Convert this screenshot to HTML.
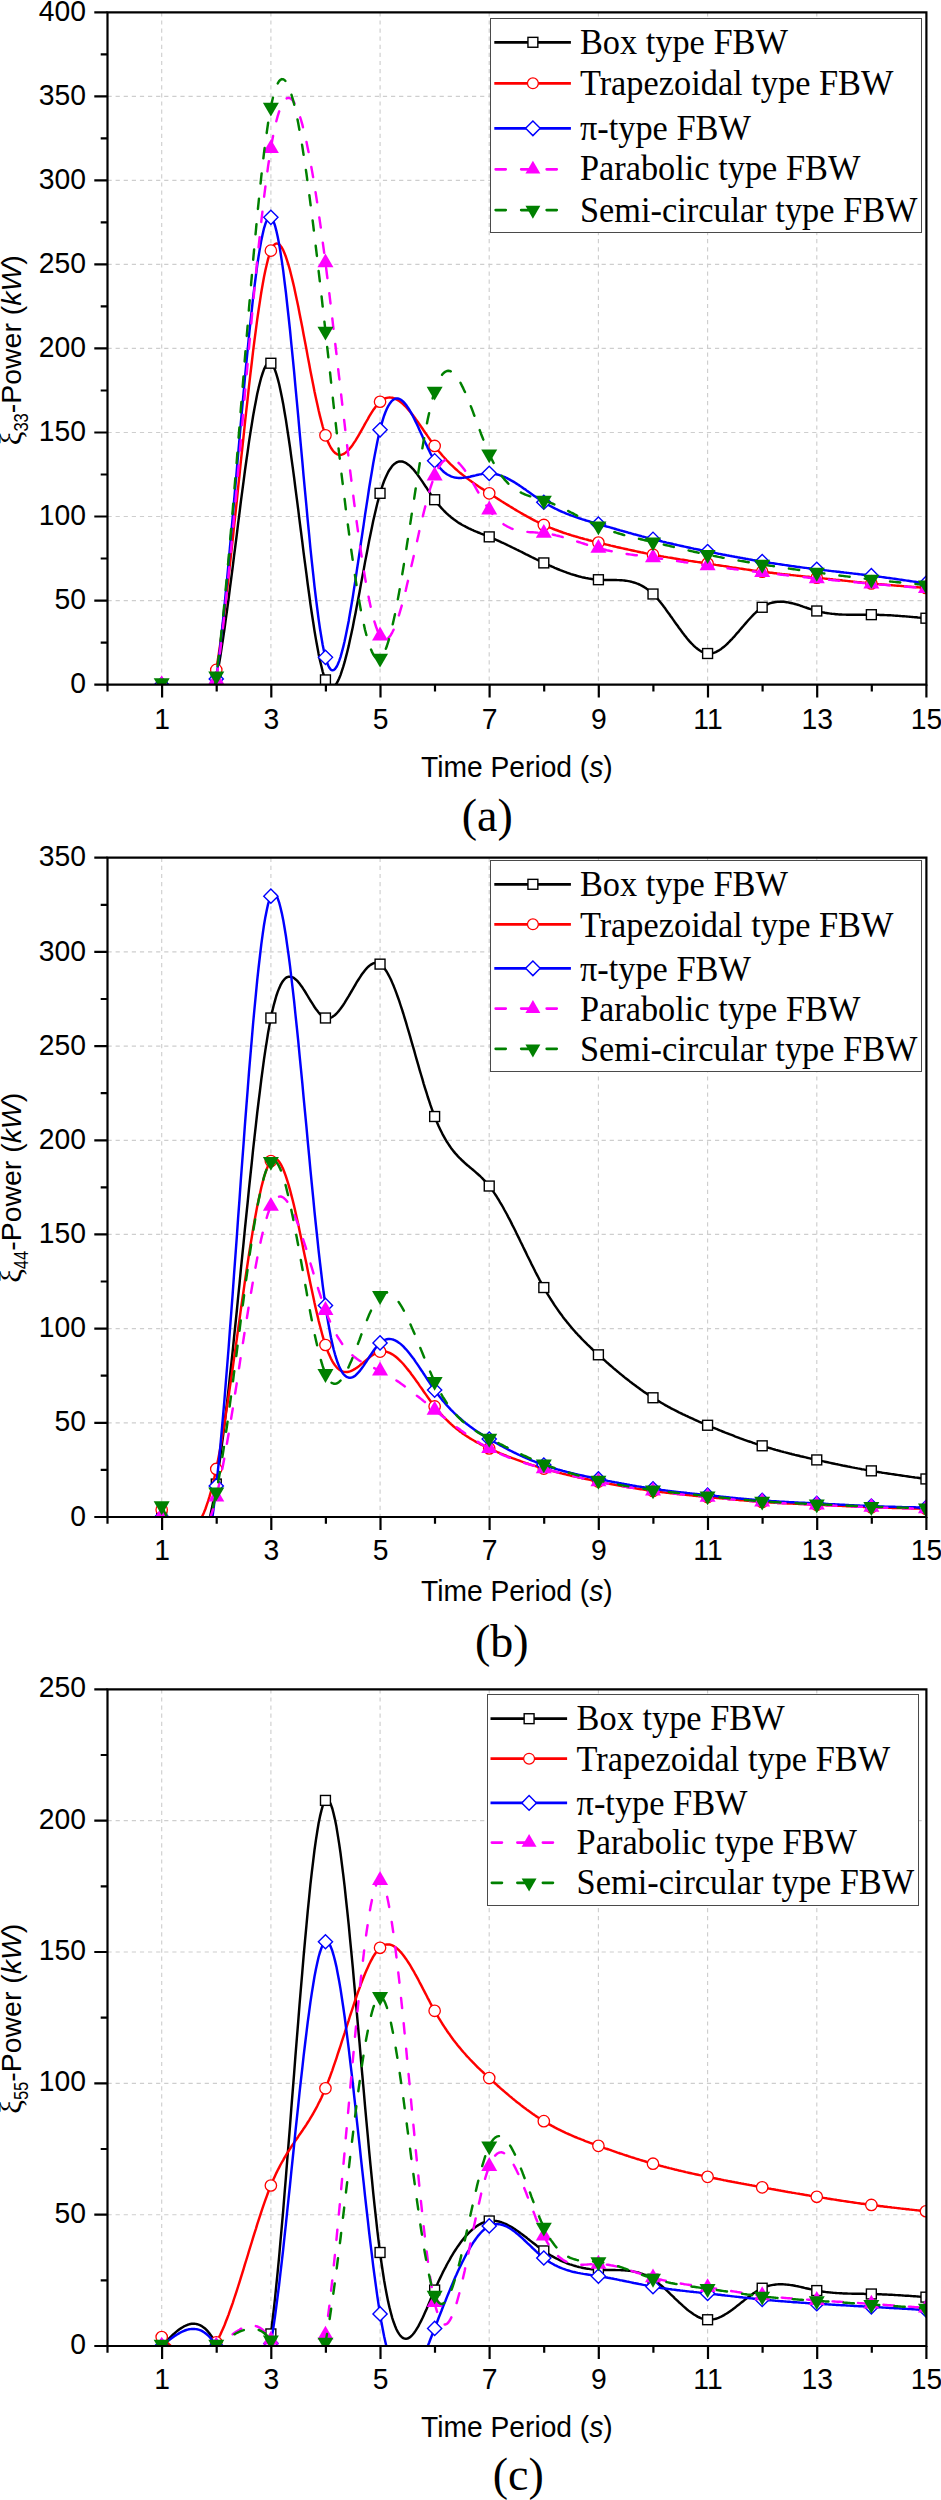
<!DOCTYPE html>
<html><head><meta charset="utf-8"><title>FBW power</title>
<style>html,body{margin:0;padding:0;background:#fff}svg{display:block}</style></head>
<body>
<svg width="941" height="2500" viewBox="0 0 941 2500">
<rect width="100%" height="100%" fill="#fff"/>
<clipPath id="clipa"><rect x="107.5" y="12.3" width="818.9" height="672.3"/></clipPath>
<path d="M161.7 12.3V684.6M270.9 12.3V684.6M380.1 12.3V684.6M489.2 12.3V684.6M598.4 12.3V684.6M707.6 12.3V684.6M816.8 12.3V684.6M107.5 600.6H926.4M107.5 516.5H926.4M107.5 432.5H926.4M107.5 348.4H926.4M107.5 264.4H926.4M107.5 180.4H926.4M107.5 96.3H926.4" stroke="#cecece" stroke-width="1.15" stroke-dasharray="4.2 3.9" fill="none"/>
<g clip-path="url(#clipa)">
<path d="M161.7 684.6L163.1 688.0L164.4 691.3L165.8 694.6L167.1 697.9L168.5 701.1L169.9 704.3L171.2 707.4L172.6 710.4L174.0 713.3L175.3 716.0L176.7 718.7L178.1 721.2L179.4 723.5L180.8 725.7L182.2 727.7L183.5 729.4L184.9 731.0L186.3 732.4L187.6 733.5L189.0 734.4L190.3 735.0L191.7 735.3L193.1 735.4L194.4 735.1L195.8 734.6L197.2 733.7L198.5 732.4L199.9 730.9L201.3 728.9L202.6 726.6L204.0 723.9L205.4 720.7L206.7 717.2L208.1 713.2L209.5 708.8L210.8 703.9L212.2 698.6L213.6 692.7L214.9 686.4L216.3 679.6L217.6 672.2L219.0 664.4L220.4 656.1L221.7 647.4L223.1 638.3L224.5 628.8L225.8 619.1L227.2 609.1L228.6 598.9L229.9 588.4L231.3 577.8L232.7 567.1L234.0 556.3L235.4 545.5L236.8 534.6L238.1 523.7L239.5 512.9L240.8 502.2L242.2 491.6L243.6 481.2L244.9 471.0L246.3 461.0L247.7 451.3L249.0 441.9L250.4 432.9L251.8 424.2L253.1 416.0L254.5 408.2L255.9 400.9L257.2 394.1L258.6 387.9L260.0 382.3L261.3 377.3L262.7 373.0L264.0 369.4L265.4 366.5L266.8 364.4L268.1 363.2L269.5 362.8L270.9 363.2L272.2 364.6L273.6 366.9L275.0 370.0L276.3 373.9L277.7 378.6L279.1 384.0L280.4 390.0L281.8 396.7L283.2 403.9L284.5 411.7L285.9 419.9L287.2 428.6L288.6 437.8L290.0 447.3L291.3 457.1L292.7 467.1L294.1 477.5L295.4 488.0L296.8 498.6L298.2 509.4L299.5 520.2L300.9 531.0L302.3 541.8L303.6 552.6L305.0 563.2L306.4 573.7L307.7 584.0L309.1 594.0L310.4 603.8L311.8 613.2L313.2 622.2L314.5 630.9L315.9 639.1L317.3 646.7L318.6 653.9L320.0 660.4L321.4 666.3L322.7 671.6L324.1 676.1L325.5 679.9L326.8 682.9L328.2 685.1L329.6 686.5L330.9 687.3L332.3 687.4L333.6 686.8L335.0 685.6L336.4 683.8L337.7 681.4L339.1 678.5L340.5 675.1L341.8 671.2L343.2 666.9L344.6 662.2L345.9 657.1L347.3 651.7L348.7 645.9L350.0 639.8L351.4 633.5L352.8 626.9L354.1 620.1L355.5 613.2L356.8 606.1L358.2 598.9L359.6 591.7L360.9 584.4L362.3 577.0L363.7 569.7L365.0 562.4L366.4 555.2L367.8 548.0L369.1 541.0L370.5 534.2L371.9 527.6L373.2 521.1L374.6 514.9L376.0 509.0L377.3 503.5L378.7 498.2L380.1 493.3L381.4 488.8L382.8 484.7L384.1 481.0L385.5 477.7L386.9 474.7L388.2 472.0L389.6 469.7L391.0 467.7L392.3 465.9L393.7 464.5L395.1 463.4L396.4 462.5L397.8 461.9L399.2 461.5L400.5 461.4L401.9 461.5L403.3 461.8L404.6 462.3L406.0 463.0L407.3 463.9L408.7 464.9L410.1 466.1L411.4 467.4L412.8 468.8L414.2 470.4L415.5 472.1L416.9 473.8L418.3 475.7L419.6 477.6L421.0 479.6L422.4 481.6L423.7 483.6L425.1 485.7L426.5 487.7L427.8 489.8L429.2 491.9L430.5 493.9L431.9 495.9L433.3 497.8L434.6 499.7L436.0 501.5L437.4 503.3L438.7 504.9L440.1 506.5L441.5 508.1L442.8 509.5L444.2 511.0L445.6 512.3L446.9 513.6L448.3 514.9L449.7 516.0L451.0 517.2L452.4 518.3L453.7 519.3L455.1 520.3L456.5 521.3L457.8 522.2L459.2 523.1L460.6 523.9L461.9 524.7L463.3 525.5L464.7 526.2L466.0 526.9L467.4 527.6L468.8 528.3L470.1 528.9L471.5 529.6L472.9 530.2L474.2 530.8L475.6 531.4L476.9 531.9L478.3 532.5L479.7 533.0L481.0 533.6L482.4 534.1L483.8 534.7L485.1 535.2L486.5 535.8L487.9 536.3L489.2 536.9L490.6 537.4L492.0 538.0L493.3 538.6L494.7 539.2L496.1 539.8L497.4 540.4L498.8 541.0L500.1 541.6L501.5 542.3L502.9 542.9L504.2 543.5L505.6 544.2L507.0 544.8L508.3 545.5L509.7 546.2L511.1 546.8L512.4 547.5L513.8 548.2L515.2 548.8L516.5 549.5L517.9 550.2L519.3 550.9L520.6 551.5L522.0 552.2L523.3 552.9L524.7 553.6L526.1 554.3L527.4 554.9L528.8 555.6L530.2 556.3L531.5 557.0L532.9 557.7L534.3 558.3L535.6 559.0L537.0 559.7L538.4 560.3L539.7 561.0L541.1 561.6L542.5 562.3L543.8 562.9L545.2 563.6L546.5 564.2L547.9 564.8L549.3 565.4L550.6 566.0L552.0 566.6L553.4 567.2L554.7 567.8L556.1 568.4L557.5 569.0L558.8 569.5L560.2 570.1L561.6 570.6L562.9 571.1L564.3 571.7L565.7 572.2L567.0 572.7L568.4 573.1L569.8 573.6L571.1 574.1L572.5 574.5L573.8 574.9L575.2 575.3L576.6 575.7L577.9 576.1L579.3 576.5L580.7 576.8L582.0 577.2L583.4 577.5L584.8 577.8L586.1 578.1L587.5 578.3L588.9 578.6L590.2 578.8L591.6 579.0L593.0 579.2L594.3 579.3L595.7 579.5L597.0 579.6L598.4 579.7L599.8 579.8L601.1 579.9L602.5 579.9L603.9 579.9L605.2 580.0L606.6 580.0L608.0 580.0L609.3 580.0L610.7 580.0L612.1 580.0L613.4 580.0L614.8 580.0L616.2 580.0L617.5 580.1L618.9 580.1L620.2 580.2L621.6 580.3L623.0 580.4L624.3 580.5L625.7 580.7L627.1 580.9L628.4 581.1L629.8 581.4L631.2 581.7L632.5 582.1L633.9 582.5L635.3 582.9L636.6 583.4L638.0 583.9L639.4 584.5L640.7 585.2L642.1 585.9L643.4 586.6L644.8 587.5L646.2 588.4L647.5 589.4L648.9 590.4L650.3 591.5L651.6 592.7L653.0 594.0L654.4 595.4L655.7 596.8L657.1 598.3L658.5 599.9L659.8 601.5L661.2 603.2L662.6 605.0L663.9 606.8L665.3 608.6L666.6 610.5L668.0 612.4L669.4 614.3L670.7 616.2L672.1 618.1L673.5 620.1L674.8 622.0L676.2 623.9L677.6 625.8L678.9 627.7L680.3 629.6L681.7 631.5L683.0 633.3L684.4 635.1L685.8 636.8L687.1 638.5L688.5 640.1L689.8 641.6L691.2 643.1L692.6 644.5L693.9 645.8L695.3 647.1L696.7 648.2L698.0 649.3L699.4 650.3L700.8 651.1L702.1 651.8L703.5 652.4L704.9 652.9L706.2 653.3L707.6 653.5L709.0 653.6L710.3 653.5L711.7 653.3L713.0 653.0L714.4 652.6L715.8 652.1L717.1 651.4L718.5 650.7L719.9 649.8L721.2 648.9L722.6 647.8L724.0 646.7L725.3 645.6L726.7 644.3L728.1 643.0L729.4 641.7L730.8 640.2L732.2 638.8L733.5 637.3L734.9 635.8L736.2 634.2L737.6 632.7L739.0 631.1L740.3 629.5L741.7 627.9L743.1 626.3L744.4 624.7L745.8 623.1L747.2 621.5L748.5 620.0L749.9 618.5L751.3 617.0L752.6 615.6L754.0 614.2L755.4 612.9L756.7 611.6L758.1 610.4L759.5 609.3L760.8 608.3L762.2 607.3L763.5 606.4L764.9 605.6L766.3 604.9L767.6 604.3L769.0 603.7L770.4 603.2L771.7 602.8L773.1 602.5L774.5 602.2L775.8 602.0L777.2 601.8L778.6 601.7L779.9 601.7L781.3 601.7L782.7 601.7L784.0 601.8L785.4 602.0L786.7 602.2L788.1 602.4L789.5 602.7L790.8 603.0L792.2 603.3L793.6 603.6L794.9 604.0L796.3 604.4L797.7 604.8L799.0 605.2L800.4 605.7L801.8 606.1L803.1 606.6L804.5 607.1L805.9 607.5L807.2 608.0L808.6 608.5L809.9 608.9L811.3 609.4L812.7 609.8L814.0 610.2L815.4 610.6L816.8 611.0L818.1 611.3L819.5 611.7L820.9 612.0L822.2 612.3L823.6 612.5L825.0 612.8L826.3 613.0L827.7 613.2L829.1 613.4L830.4 613.6L831.8 613.8L833.1 613.9L834.5 614.0L835.9 614.2L837.2 614.3L838.6 614.4L840.0 614.4L841.3 614.5L842.7 614.6L844.1 614.6L845.4 614.6L846.8 614.7L848.2 614.7L849.5 614.7L850.9 614.7L852.3 614.7L853.6 614.7L855.0 614.7L856.3 614.7L857.7 614.7L859.1 614.7L860.4 614.7L861.8 614.7L863.2 614.7L864.5 614.7L865.9 614.7L867.3 614.7L868.6 614.7L870.0 614.7L871.4 614.7L872.7 614.7L874.1 614.7L875.5 614.7L876.8 614.8L878.2 614.8L879.5 614.9L880.9 614.9L882.3 614.9L883.6 615.0L885.0 615.1L886.4 615.1L887.7 615.2L889.1 615.3L890.5 615.3L891.8 615.4L893.2 615.5L894.6 615.6L895.9 615.7L897.3 615.8L898.7 615.9L900.0 616.0L901.4 616.1L902.7 616.2L904.1 616.3L905.5 616.4L906.8 616.5L908.2 616.6L909.6 616.7L910.9 616.9L912.3 617.0L913.7 617.1L915.0 617.2L916.4 617.3L917.8 617.5L919.1 617.6L920.5 617.7L921.9 617.8L923.2 618.0L924.6 618.1L926.0 618.2" fill="none" stroke="#000000" stroke-width="2.45" stroke-linejoin="round"/>
<rect x="156.74" y="679.65" width="9.90" height="9.90" fill="#fff" stroke="#000000" stroke-width="1.40"/>
<rect x="211.33" y="674.61" width="9.90" height="9.90" fill="#fff" stroke="#000000" stroke-width="1.40"/>
<rect x="265.92" y="358.29" width="9.90" height="9.90" fill="#fff" stroke="#000000" stroke-width="1.40"/>
<rect x="320.51" y="674.94" width="9.90" height="9.90" fill="#fff" stroke="#000000" stroke-width="1.40"/>
<rect x="375.10" y="488.38" width="9.90" height="9.90" fill="#fff" stroke="#000000" stroke-width="1.40"/>
<rect x="429.69" y="494.77" width="9.90" height="9.90" fill="#fff" stroke="#000000" stroke-width="1.40"/>
<rect x="484.28" y="531.91" width="9.90" height="9.90" fill="#fff" stroke="#000000" stroke-width="1.40"/>
<rect x="538.87" y="557.96" width="9.90" height="9.90" fill="#fff" stroke="#000000" stroke-width="1.40"/>
<rect x="593.46" y="574.77" width="9.90" height="9.90" fill="#fff" stroke="#000000" stroke-width="1.40"/>
<rect x="648.05" y="589.06" width="9.90" height="9.90" fill="#fff" stroke="#000000" stroke-width="1.40"/>
<rect x="702.64" y="648.56" width="9.90" height="9.90" fill="#fff" stroke="#000000" stroke-width="1.40"/>
<rect x="757.23" y="602.34" width="9.90" height="9.90" fill="#fff" stroke="#000000" stroke-width="1.40"/>
<rect x="811.82" y="606.03" width="9.90" height="9.90" fill="#fff" stroke="#000000" stroke-width="1.40"/>
<rect x="866.41" y="609.73" width="9.90" height="9.90" fill="#fff" stroke="#000000" stroke-width="1.40"/>
<rect x="921.00" y="613.26" width="9.90" height="9.90" fill="#fff" stroke="#000000" stroke-width="1.40"/>
<path d="M161.7 684.6L163.1 688.1L164.4 691.7L165.8 695.2L167.1 698.6L168.5 702.0L169.9 705.3L171.2 708.6L172.6 711.7L174.0 714.7L175.3 717.6L176.7 720.3L178.1 722.9L179.4 725.3L180.8 727.5L182.2 729.5L183.5 731.3L184.9 732.8L186.3 734.1L187.6 735.1L189.0 735.9L190.3 736.3L191.7 736.5L193.1 736.3L194.4 735.8L195.8 735.0L197.2 733.7L198.5 732.1L199.9 730.1L201.3 727.7L202.6 724.9L204.0 721.6L205.4 717.9L206.7 713.7L208.1 709.0L209.5 703.8L210.8 698.1L212.2 691.9L213.6 685.1L214.9 677.8L216.3 669.9L217.6 661.4L219.0 652.4L220.4 642.9L221.7 632.8L223.1 622.4L224.5 611.5L225.8 600.3L227.2 588.7L228.6 576.8L229.9 564.6L231.3 552.2L232.7 539.6L234.0 526.9L235.4 514.0L236.8 501.0L238.1 488.0L239.5 475.0L240.8 461.9L242.2 449.0L243.6 436.1L244.9 423.3L246.3 410.7L247.7 398.3L249.0 386.1L250.4 374.1L251.8 362.5L253.1 351.2L254.5 340.2L255.9 329.7L257.2 319.6L258.6 310.0L260.0 300.9L261.3 292.3L262.7 284.3L264.0 277.0L265.4 270.3L266.8 264.2L268.1 258.9L269.5 254.4L270.9 250.6L272.2 247.7L273.6 245.5L275.0 244.2L276.3 243.5L277.7 243.6L279.1 244.3L280.4 245.7L281.8 247.6L283.2 250.1L284.5 253.2L285.9 256.8L287.2 260.8L288.6 265.3L290.0 270.2L291.3 275.5L292.7 281.1L294.1 287.0L295.4 293.2L296.8 299.7L298.2 306.3L299.5 313.2L300.9 320.2L302.3 327.3L303.6 334.5L305.0 341.8L306.4 349.1L307.7 356.4L309.1 363.6L310.4 370.8L311.8 377.8L313.2 384.7L314.5 391.5L315.9 398.0L317.3 404.3L318.6 410.3L320.0 416.1L321.4 421.5L322.7 426.5L324.1 431.1L325.5 435.3L326.8 439.1L328.2 442.4L329.6 445.3L330.9 447.8L332.3 449.8L333.6 451.5L335.0 452.9L336.4 453.8L337.7 454.5L339.1 454.8L340.5 454.9L341.8 454.7L343.2 454.2L344.6 453.4L345.9 452.4L347.3 451.3L348.7 449.9L350.0 448.3L351.4 446.6L352.8 444.7L354.1 442.7L355.5 440.6L356.8 438.4L358.2 436.1L359.6 433.7L360.9 431.3L362.3 428.8L363.7 426.4L365.0 423.9L366.4 421.5L367.8 419.1L369.1 416.7L370.5 414.4L371.9 412.2L373.2 410.1L374.6 408.2L376.0 406.3L377.3 404.6L378.7 403.1L380.1 401.7L381.4 400.6L382.8 399.6L384.1 398.9L385.5 398.3L386.9 397.9L388.2 397.6L389.6 397.5L391.0 397.6L392.3 397.8L393.7 398.2L395.1 398.7L396.4 399.4L397.8 400.1L399.2 401.0L400.5 402.0L401.9 403.1L403.3 404.3L404.6 405.6L406.0 407.0L407.3 408.5L408.7 410.1L410.1 411.7L411.4 413.4L412.8 415.1L414.2 416.9L415.5 418.8L416.9 420.7L418.3 422.6L419.6 424.5L421.0 426.5L422.4 428.5L423.7 430.5L425.1 432.5L426.5 434.4L427.8 436.4L429.2 438.4L430.5 440.3L431.9 442.2L433.3 444.1L434.6 445.9L436.0 447.7L437.4 449.5L438.7 451.2L440.1 452.8L441.5 454.4L442.8 456.0L444.2 457.5L445.6 459.0L446.9 460.5L448.3 461.9L449.7 463.3L451.0 464.6L452.4 465.9L453.7 467.2L455.1 468.5L456.5 469.7L457.8 470.9L459.2 472.1L460.6 473.2L461.9 474.3L463.3 475.4L464.7 476.5L466.0 477.5L467.4 478.6L468.8 479.6L470.1 480.6L471.5 481.6L472.9 482.5L474.2 483.5L475.6 484.4L476.9 485.3L478.3 486.3L479.7 487.2L481.0 488.1L482.4 488.9L483.8 489.8L485.1 490.7L486.5 491.6L487.9 492.5L489.2 493.3L490.6 494.2L492.0 495.1L493.3 495.9L494.7 496.8L496.1 497.7L497.4 498.6L498.8 499.4L500.1 500.3L501.5 501.2L502.9 502.0L504.2 502.9L505.6 503.7L507.0 504.6L508.3 505.4L509.7 506.3L511.1 507.1L512.4 507.9L513.8 508.8L515.2 509.6L516.5 510.4L517.9 511.2L519.3 512.0L520.6 512.8L522.0 513.6L523.3 514.4L524.7 515.1L526.1 515.9L527.4 516.7L528.8 517.4L530.2 518.1L531.5 518.9L532.9 519.6L534.3 520.3L535.6 521.0L537.0 521.7L538.4 522.3L539.7 523.0L541.1 523.7L542.5 524.3L543.8 524.9L545.2 525.5L546.5 526.1L547.9 526.7L549.3 527.3L550.6 527.9L552.0 528.4L553.4 529.0L554.7 529.5L556.1 530.0L557.5 530.5L558.8 531.0L560.2 531.5L561.6 532.0L562.9 532.5L564.3 533.0L565.7 533.4L567.0 533.9L568.4 534.3L569.8 534.7L571.1 535.2L572.5 535.6L573.8 536.0L575.2 536.4L576.6 536.8L577.9 537.2L579.3 537.6L580.7 538.0L582.0 538.3L583.4 538.7L584.8 539.1L586.1 539.4L587.5 539.8L588.9 540.2L590.2 540.5L591.6 540.9L593.0 541.2L594.3 541.6L595.7 541.9L597.0 542.2L598.4 542.6L599.8 542.9L601.1 543.3L602.5 543.6L603.9 543.9L605.2 544.3L606.6 544.6L608.0 544.9L609.3 545.2L610.7 545.6L612.1 545.9L613.4 546.2L614.8 546.5L616.2 546.9L617.5 547.2L618.9 547.5L620.2 547.8L621.6 548.1L623.0 548.4L624.3 548.7L625.7 549.0L627.1 549.3L628.4 549.6L629.8 549.9L631.2 550.2L632.5 550.5L633.9 550.8L635.3 551.1L636.6 551.4L638.0 551.7L639.4 552.0L640.7 552.3L642.1 552.5L643.4 552.8L644.8 553.1L646.2 553.4L647.5 553.6L648.9 553.9L650.3 554.2L651.6 554.4L653.0 554.7L654.4 554.9L655.7 555.2L657.1 555.4L658.5 555.7L659.8 555.9L661.2 556.2L662.6 556.4L663.9 556.7L665.3 556.9L666.6 557.1L668.0 557.4L669.4 557.6L670.7 557.8L672.1 558.0L673.5 558.3L674.8 558.5L676.2 558.7L677.6 558.9L678.9 559.1L680.3 559.4L681.7 559.6L683.0 559.8L684.4 560.0L685.8 560.2L687.1 560.4L688.5 560.7L689.8 560.9L691.2 561.1L692.6 561.3L693.9 561.5L695.3 561.7L696.7 561.9L698.0 562.1L699.4 562.3L700.8 562.5L702.1 562.7L703.5 563.0L704.9 563.2L706.2 563.4L707.6 563.6L709.0 563.8L710.3 564.0L711.7 564.2L713.0 564.4L714.4 564.6L715.8 564.9L717.1 565.1L718.5 565.3L719.9 565.5L721.2 565.7L722.6 565.9L724.0 566.1L725.3 566.3L726.7 566.5L728.1 566.7L729.4 567.0L730.8 567.2L732.2 567.4L733.5 567.6L734.9 567.8L736.2 568.0L737.6 568.2L739.0 568.4L740.3 568.6L741.7 568.8L743.1 569.0L744.4 569.2L745.8 569.4L747.2 569.6L748.5 569.8L749.9 570.0L751.3 570.2L752.6 570.4L754.0 570.6L755.4 570.7L756.7 570.9L758.1 571.1L759.5 571.3L760.8 571.5L762.2 571.7L763.5 571.8L764.9 572.0L766.3 572.2L767.6 572.3L769.0 572.5L770.4 572.7L771.7 572.8L773.1 573.0L774.5 573.2L775.8 573.3L777.2 573.5L778.6 573.6L779.9 573.8L781.3 573.9L782.7 574.1L784.0 574.2L785.4 574.4L786.7 574.5L788.1 574.7L789.5 574.8L790.8 575.0L792.2 575.1L793.6 575.3L794.9 575.4L796.3 575.6L797.7 575.7L799.0 575.9L800.4 576.0L801.8 576.1L803.1 576.3L804.5 576.4L805.9 576.6L807.2 576.7L808.6 576.8L809.9 577.0L811.3 577.1L812.7 577.3L814.0 577.4L815.4 577.6L816.8 577.7L818.1 577.8L819.5 578.0L820.9 578.1L822.2 578.3L823.6 578.4L825.0 578.6L826.3 578.7L827.7 578.9L829.1 579.0L830.4 579.2L831.8 579.3L833.1 579.5L834.5 579.6L835.9 579.8L837.2 579.9L838.6 580.0L840.0 580.2L841.3 580.3L842.7 580.5L844.1 580.6L845.4 580.8L846.8 580.9L848.2 581.1L849.5 581.2L850.9 581.4L852.3 581.5L853.6 581.6L855.0 581.8L856.3 581.9L857.7 582.1L859.1 582.2L860.4 582.3L861.8 582.5L863.2 582.6L864.5 582.8L865.9 582.9L867.3 583.0L868.6 583.2L870.0 583.3L871.4 583.4L872.7 583.5L874.1 583.7L875.5 583.8L876.8 583.9L878.2 584.1L879.5 584.2L880.9 584.3L882.3 584.4L883.6 584.5L885.0 584.7L886.4 584.8L887.7 584.9L889.1 585.0L890.5 585.1L891.8 585.2L893.2 585.4L894.6 585.5L895.9 585.6L897.3 585.7L898.7 585.8L900.0 585.9L901.4 586.0L902.7 586.1L904.1 586.3L905.5 586.4L906.8 586.5L908.2 586.6L909.6 586.7L910.9 586.8L912.3 586.9L913.7 587.0L915.0 587.1L916.4 587.2L917.8 587.3L919.1 587.4L920.5 587.5L921.9 587.6L923.2 587.7L924.6 587.9L926.0 588.0" fill="none" stroke="#ff0000" stroke-width="2.45" stroke-linejoin="round"/>
<circle cx="161.69" cy="684.60" r="5.70" fill="#fff" stroke="#ff0000" stroke-width="1.30"/>
<circle cx="216.28" cy="669.89" r="5.70" fill="#fff" stroke="#ff0000" stroke-width="1.30"/>
<circle cx="270.87" cy="250.63" r="5.70" fill="#fff" stroke="#ff0000" stroke-width="1.30"/>
<circle cx="325.46" cy="435.34" r="5.70" fill="#fff" stroke="#ff0000" stroke-width="1.30"/>
<circle cx="380.05" cy="401.73" r="5.70" fill="#fff" stroke="#ff0000" stroke-width="1.30"/>
<circle cx="434.64" cy="445.93" r="5.70" fill="#fff" stroke="#ff0000" stroke-width="1.30"/>
<circle cx="489.23" cy="493.33" r="5.70" fill="#fff" stroke="#ff0000" stroke-width="1.30"/>
<circle cx="543.82" cy="524.93" r="5.70" fill="#fff" stroke="#ff0000" stroke-width="1.30"/>
<circle cx="598.41" cy="542.58" r="5.70" fill="#fff" stroke="#ff0000" stroke-width="1.30"/>
<circle cx="653.00" cy="554.68" r="5.70" fill="#fff" stroke="#ff0000" stroke-width="1.30"/>
<circle cx="707.59" cy="563.59" r="5.70" fill="#fff" stroke="#ff0000" stroke-width="1.30"/>
<circle cx="762.18" cy="571.65" r="5.70" fill="#fff" stroke="#ff0000" stroke-width="1.30"/>
<circle cx="816.77" cy="577.70" r="5.70" fill="#fff" stroke="#ff0000" stroke-width="1.30"/>
<circle cx="871.36" cy="583.42" r="5.70" fill="#fff" stroke="#ff0000" stroke-width="1.30"/>
<circle cx="925.95" cy="587.96" r="5.70" fill="#fff" stroke="#ff0000" stroke-width="1.30"/>
<path d="M161.7 684.6L163.1 689.5L164.4 694.3L165.8 699.2L167.1 703.9L168.5 708.6L169.9 713.2L171.2 717.7L172.6 722.1L174.0 726.3L175.3 730.3L176.7 734.1L178.1 737.8L179.4 741.2L180.8 744.4L182.2 747.3L183.5 749.9L184.9 752.2L186.3 754.2L187.6 755.8L189.0 757.1L190.3 758.1L191.7 758.6L193.1 758.7L194.4 758.4L195.8 757.6L197.2 756.4L198.5 754.6L199.9 752.4L201.3 749.6L202.6 746.3L204.0 742.4L205.4 737.9L206.7 732.9L208.1 727.2L209.5 720.8L210.8 713.8L212.2 706.2L213.6 697.8L214.9 688.7L216.3 678.9L217.6 668.3L219.0 657.1L220.4 645.1L221.7 632.6L223.1 619.6L224.5 606.0L225.8 592.0L227.2 577.6L228.6 562.8L229.9 547.8L231.3 532.5L232.7 517.1L234.0 501.5L235.4 485.8L236.8 470.1L238.1 454.4L239.5 438.8L240.8 423.3L242.2 407.9L243.6 392.8L244.9 378.0L246.3 363.5L247.7 349.4L249.0 335.7L250.4 322.5L251.8 309.8L253.1 297.7L254.5 286.3L255.9 275.5L257.2 265.5L258.6 256.3L260.0 247.9L261.3 240.4L262.7 233.9L264.0 228.3L265.4 223.8L266.8 220.4L268.1 218.2L269.5 217.1L270.9 217.4L272.2 218.9L273.6 221.6L275.0 225.5L276.3 230.6L277.7 236.7L279.1 243.9L280.4 251.9L281.8 260.9L283.2 270.7L284.5 281.3L285.9 292.5L287.2 304.5L288.6 317.0L290.0 330.0L291.3 343.5L292.7 357.4L294.1 371.7L295.4 386.2L296.8 401.0L298.2 415.9L299.5 430.9L300.9 446.0L302.3 461.1L303.6 476.1L305.0 491.0L306.4 505.7L307.7 520.1L309.1 534.2L310.4 548.0L311.8 561.3L313.2 574.1L314.5 586.3L315.9 598.0L317.3 609.0L318.6 619.2L320.0 628.7L321.4 637.3L322.7 645.0L324.1 651.7L325.5 657.4L326.8 662.0L328.2 665.5L329.6 668.1L330.9 669.7L332.3 670.3L333.6 670.1L335.0 669.0L336.4 667.1L337.7 664.5L339.1 661.1L340.5 657.1L341.8 652.4L343.2 647.1L344.6 641.3L345.9 635.0L347.3 628.1L348.7 620.9L350.0 613.2L351.4 605.2L352.8 596.9L354.1 588.4L355.5 579.6L356.8 570.6L358.2 561.5L359.6 552.3L360.9 543.0L362.3 533.7L363.7 524.4L365.0 515.2L366.4 506.1L367.8 497.1L369.1 488.3L370.5 479.8L371.9 471.5L373.2 463.5L374.6 455.9L376.0 448.7L377.3 441.9L378.7 435.6L380.1 429.8L381.4 424.6L382.8 419.8L384.1 415.7L385.5 412.0L386.9 408.8L388.2 406.1L389.6 403.8L391.0 401.9L392.3 400.5L393.7 399.5L395.1 398.8L396.4 398.5L397.8 398.5L399.2 398.9L400.5 399.5L401.9 400.5L403.3 401.7L404.6 403.1L406.0 404.8L407.3 406.7L408.7 408.8L410.1 411.0L411.4 413.4L412.8 416.0L414.2 418.7L415.5 421.5L416.9 424.3L418.3 427.2L419.6 430.2L421.0 433.2L422.4 436.2L423.7 439.2L425.1 442.2L426.5 445.1L427.8 448.0L429.2 450.8L430.5 453.5L431.9 456.0L433.3 458.4L434.6 460.7L436.0 462.8L437.4 464.8L438.7 466.5L440.1 468.2L441.5 469.6L442.8 471.0L444.2 472.2L445.6 473.2L446.9 474.2L448.3 475.0L449.7 475.7L451.0 476.3L452.4 476.8L453.7 477.2L455.1 477.5L456.5 477.7L457.8 477.9L459.2 477.9L460.6 477.9L461.9 477.9L463.3 477.8L464.7 477.6L466.0 477.4L467.4 477.2L468.8 476.9L470.1 476.7L471.5 476.3L472.9 476.0L474.2 475.7L475.6 475.4L476.9 475.0L478.3 474.7L479.7 474.4L481.0 474.2L482.4 473.9L483.8 473.7L485.1 473.5L486.5 473.4L487.9 473.3L489.2 473.3L490.6 473.4L492.0 473.5L493.3 473.7L494.7 473.9L496.1 474.2L497.4 474.5L498.8 474.9L500.1 475.3L501.5 475.8L502.9 476.4L504.2 476.9L505.6 477.5L507.0 478.2L508.3 478.9L509.7 479.6L511.1 480.4L512.4 481.1L513.8 481.9L515.2 482.8L516.5 483.6L517.9 484.5L519.3 485.4L520.6 486.3L522.0 487.2L523.3 488.2L524.7 489.1L526.1 490.1L527.4 491.1L528.8 492.0L530.2 493.0L531.5 493.9L532.9 494.9L534.3 495.9L535.6 496.8L537.0 497.8L538.4 498.7L539.7 499.6L541.1 500.5L542.5 501.4L543.8 502.2L545.2 503.1L546.5 503.9L547.9 504.7L549.3 505.5L550.6 506.2L552.0 506.9L553.4 507.7L554.7 508.3L556.1 509.0L557.5 509.7L558.8 510.3L560.2 511.0L561.6 511.6L562.9 512.2L564.3 512.7L565.7 513.3L567.0 513.9L568.4 514.4L569.8 514.9L571.1 515.4L572.5 515.9L573.8 516.4L575.2 516.9L576.6 517.4L577.9 517.8L579.3 518.3L580.7 518.7L582.0 519.2L583.4 519.6L584.8 520.0L586.1 520.5L587.5 520.9L588.9 521.3L590.2 521.7L591.6 522.1L593.0 522.5L594.3 522.9L595.7 523.3L597.0 523.7L598.4 524.1L599.8 524.5L601.1 524.9L602.5 525.3L603.9 525.7L605.2 526.1L606.6 526.5L608.0 526.8L609.3 527.2L610.7 527.6L612.1 528.0L613.4 528.4L614.8 528.8L616.2 529.2L617.5 529.6L618.9 530.0L620.2 530.4L621.6 530.7L623.0 531.1L624.3 531.5L625.7 531.9L627.1 532.3L628.4 532.7L629.8 533.0L631.2 533.4L632.5 533.8L633.9 534.2L635.3 534.5L636.6 534.9L638.0 535.3L639.4 535.6L640.7 536.0L642.1 536.4L643.4 536.7L644.8 537.1L646.2 537.5L647.5 537.8L648.9 538.2L650.3 538.5L651.6 538.9L653.0 539.2L654.4 539.6L655.7 539.9L657.1 540.2L658.5 540.6L659.8 540.9L661.2 541.2L662.6 541.6L663.9 541.9L665.3 542.2L666.6 542.6L668.0 542.9L669.4 543.2L670.7 543.5L672.1 543.8L673.5 544.2L674.8 544.5L676.2 544.8L677.6 545.1L678.9 545.4L680.3 545.7L681.7 546.0L683.0 546.3L684.4 546.6L685.8 546.9L687.1 547.2L688.5 547.5L689.8 547.8L691.2 548.1L692.6 548.4L693.9 548.7L695.3 548.9L696.7 549.2L698.0 549.5L699.4 549.8L700.8 550.1L702.1 550.4L703.5 550.6L704.9 550.9L706.2 551.2L707.6 551.5L709.0 551.8L710.3 552.0L711.7 552.3L713.0 552.6L714.4 552.9L715.8 553.1L717.1 553.4L718.5 553.7L719.9 553.9L721.2 554.2L722.6 554.5L724.0 554.7L725.3 555.0L726.7 555.3L728.1 555.5L729.4 555.8L730.8 556.0L732.2 556.3L733.5 556.5L734.9 556.8L736.2 557.0L737.6 557.3L739.0 557.5L740.3 557.8L741.7 558.0L743.1 558.3L744.4 558.5L745.8 558.8L747.2 559.0L748.5 559.3L749.9 559.5L751.3 559.7L752.6 560.0L754.0 560.2L755.4 560.4L756.7 560.7L758.1 560.9L759.5 561.1L760.8 561.3L762.2 561.6L763.5 561.8L764.9 562.0L766.3 562.2L767.6 562.4L769.0 562.7L770.4 562.9L771.7 563.1L773.1 563.3L774.5 563.5L775.8 563.7L777.2 563.9L778.6 564.1L779.9 564.3L781.3 564.5L782.7 564.7L784.0 564.9L785.4 565.1L786.7 565.3L788.1 565.5L789.5 565.7L790.8 565.9L792.2 566.1L793.6 566.3L794.9 566.5L796.3 566.7L797.7 566.9L799.0 567.0L800.4 567.2L801.8 567.4L803.1 567.6L804.5 567.8L805.9 567.9L807.2 568.1L808.6 568.3L809.9 568.5L811.3 568.6L812.7 568.8L814.0 569.0L815.4 569.1L816.8 569.3L818.1 569.5L819.5 569.6L820.9 569.8L822.2 570.0L823.6 570.1L825.0 570.3L826.3 570.4L827.7 570.6L829.1 570.8L830.4 570.9L831.8 571.1L833.1 571.2L834.5 571.4L835.9 571.5L837.2 571.7L838.6 571.8L840.0 572.0L841.3 572.2L842.7 572.3L844.1 572.5L845.4 572.6L846.8 572.8L848.2 572.9L849.5 573.1L850.9 573.2L852.3 573.4L853.6 573.6L855.0 573.7L856.3 573.9L857.7 574.0L859.1 574.2L860.4 574.4L861.8 574.5L863.2 574.7L864.5 574.8L865.9 575.0L867.3 575.2L868.6 575.3L870.0 575.5L871.4 575.7L872.7 575.9L874.1 576.0L875.5 576.2L876.8 576.4L878.2 576.6L879.5 576.7L880.9 576.9L882.3 577.1L883.6 577.3L885.0 577.5L886.4 577.7L887.7 577.9L889.1 578.0L890.5 578.2L891.8 578.4L893.2 578.6L894.6 578.8L895.9 579.0L897.3 579.2L898.7 579.4L900.0 579.6L901.4 579.8L902.7 580.0L904.1 580.2L905.5 580.4L906.8 580.6L908.2 580.8L909.6 581.0L910.9 581.2L912.3 581.4L913.7 581.6L915.0 581.8L916.4 582.0L917.8 582.2L919.1 582.4L920.5 582.6L921.9 582.8L923.2 583.0L924.6 583.2L926.0 583.4" fill="none" stroke="#0000ff" stroke-width="2.45" stroke-linejoin="round"/>
<path d="M154.59 684.60L161.69 677.50L168.79 684.60L161.69 691.70Z" fill="#fff" stroke="#0000ff" stroke-width="1.40"/>
<path d="M209.18 678.89L216.28 671.79L223.38 678.89L216.28 685.99Z" fill="#fff" stroke="#0000ff" stroke-width="1.40"/>
<path d="M263.77 217.35L270.87 210.25L277.97 217.35L270.87 224.45Z" fill="#fff" stroke="#0000ff" stroke-width="1.40"/>
<path d="M318.36 657.37L325.46 650.27L332.56 657.37L325.46 664.47Z" fill="#fff" stroke="#0000ff" stroke-width="1.40"/>
<path d="M372.95 429.80L380.05 422.70L387.15 429.80L380.05 436.90Z" fill="#fff" stroke="#0000ff" stroke-width="1.40"/>
<path d="M427.54 460.72L434.64 453.62L441.74 460.72L434.64 467.82Z" fill="#fff" stroke="#0000ff" stroke-width="1.40"/>
<path d="M482.13 473.33L489.23 466.23L496.33 473.33L489.23 480.43Z" fill="#fff" stroke="#0000ff" stroke-width="1.40"/>
<path d="M536.72 502.24L543.82 495.14L550.92 502.24L543.82 509.34Z" fill="#fff" stroke="#0000ff" stroke-width="1.40"/>
<path d="M591.31 524.09L598.41 516.99L605.51 524.09L598.41 531.19Z" fill="#fff" stroke="#0000ff" stroke-width="1.40"/>
<path d="M645.90 539.22L653.00 532.12L660.10 539.22L653.00 546.32Z" fill="#fff" stroke="#0000ff" stroke-width="1.40"/>
<path d="M700.49 551.48L707.59 544.38L714.69 551.48L707.59 558.58Z" fill="#fff" stroke="#0000ff" stroke-width="1.40"/>
<path d="M755.08 561.57L762.18 554.47L769.28 561.57L762.18 568.67Z" fill="#fff" stroke="#0000ff" stroke-width="1.40"/>
<path d="M809.67 569.30L816.77 562.20L823.87 569.30L816.77 576.40Z" fill="#fff" stroke="#0000ff" stroke-width="1.40"/>
<path d="M864.26 575.69L871.36 568.59L878.46 575.69L871.36 582.79Z" fill="#fff" stroke="#0000ff" stroke-width="1.40"/>
<path d="M918.85 583.42L925.95 576.32L933.05 583.42L925.95 590.52Z" fill="#fff" stroke="#0000ff" stroke-width="1.40"/>
<path d="M161.7 684.6L163.1 689.0L164.4 693.3L165.8 697.6L167.1 701.8L168.5 706.0L169.9 710.1L171.2 714.1L172.6 718.0L174.0 721.8L175.3 725.4L176.7 728.8L178.1 732.0L179.4 735.1L180.8 737.9L182.2 740.5L183.5 742.8L184.9 744.9L186.3 746.7L187.6 748.2L189.0 749.3L190.3 750.1L191.7 750.6L193.1 750.7L194.4 750.4L195.8 749.7L197.2 748.6L198.5 747.1L199.9 745.1L201.3 742.6L202.6 739.7L204.0 736.2L205.4 732.2L206.7 727.7L208.1 722.6L209.5 717.0L210.8 710.7L212.2 703.9L213.6 696.4L214.9 688.3L216.3 679.6L217.6 670.1L219.0 660.1L220.4 649.4L221.7 638.2L223.1 626.4L224.5 614.2L225.8 601.4L227.2 588.3L228.6 574.7L229.9 560.8L231.3 546.6L232.7 532.1L234.0 517.3L235.4 502.3L236.8 487.1L238.1 471.7L239.5 456.3L240.8 440.7L242.2 425.2L243.6 409.6L244.9 394.0L246.3 378.5L247.7 363.0L249.0 347.7L250.4 332.6L251.8 317.7L253.1 302.9L254.5 288.5L255.9 274.3L257.2 260.5L258.6 247.1L260.0 234.0L261.3 221.4L262.7 209.3L264.0 197.7L265.4 186.6L266.8 176.1L268.1 166.2L269.5 157.0L270.9 148.4L272.2 140.6L273.6 133.4L275.0 127.0L276.3 121.2L277.7 116.1L279.1 111.7L280.4 107.9L281.8 104.7L283.2 102.1L284.5 100.2L285.9 98.8L287.2 98.1L288.6 97.9L290.0 98.2L291.3 99.1L292.7 100.5L294.1 102.5L295.4 104.9L296.8 107.9L298.2 111.3L299.5 115.2L300.9 119.6L302.3 124.4L303.6 129.7L305.0 135.4L306.4 141.4L307.7 147.9L309.1 154.8L310.4 162.0L311.8 169.6L313.2 177.6L314.5 185.8L315.9 194.4L317.3 203.4L318.6 212.6L320.0 222.1L321.4 231.9L322.7 241.9L324.1 252.2L325.5 262.7L326.8 273.5L328.2 284.4L329.6 295.6L330.9 306.9L332.3 318.3L333.6 329.9L335.0 341.5L336.4 353.3L337.7 365.0L339.1 376.8L340.5 388.6L341.8 400.4L343.2 412.2L344.6 423.9L345.9 435.5L347.3 447.0L348.7 458.4L350.0 469.7L351.4 480.7L352.8 491.6L354.1 502.3L355.5 512.7L356.8 522.9L358.2 532.8L359.6 542.5L360.9 551.7L362.3 560.7L363.7 569.3L365.0 577.5L366.4 585.3L367.8 592.6L369.1 599.5L370.5 606.0L371.9 611.9L373.2 617.3L374.6 622.2L376.0 626.5L377.3 630.2L378.7 633.4L380.1 635.9L381.4 637.7L382.8 639.0L384.1 639.6L385.5 639.7L386.9 639.2L388.2 638.2L389.6 636.7L391.0 634.7L392.3 632.3L393.7 629.5L395.1 626.2L396.4 622.6L397.8 618.7L399.2 614.4L400.5 609.9L401.9 605.1L403.3 600.0L404.6 594.7L406.0 589.3L407.3 583.6L408.7 577.9L410.1 572.0L411.4 566.0L412.8 560.0L414.2 553.9L415.5 547.9L416.9 541.8L418.3 535.8L419.6 529.8L421.0 523.9L422.4 518.2L423.7 512.6L425.1 507.1L426.5 501.9L427.8 496.9L429.2 492.1L430.5 487.5L431.9 483.3L433.3 479.4L434.6 475.9L436.0 472.7L437.4 469.8L438.7 467.3L440.1 465.2L441.5 463.3L442.8 461.8L444.2 460.6L445.6 459.7L446.9 459.0L448.3 458.6L449.7 458.5L451.0 458.6L452.4 458.9L453.7 459.4L455.1 460.2L456.5 461.1L457.8 462.2L459.2 463.5L460.6 465.0L461.9 466.5L463.3 468.2L464.7 470.1L466.0 472.0L467.4 474.0L468.8 476.2L470.1 478.4L471.5 480.6L472.9 482.9L474.2 485.2L475.6 487.6L476.9 490.0L478.3 492.3L479.7 494.7L481.0 497.0L482.4 499.3L483.8 501.5L485.1 503.7L486.5 505.8L487.9 507.9L489.2 509.8L490.6 511.6L492.0 513.4L493.3 515.0L494.7 516.5L496.1 517.9L497.4 519.3L498.8 520.5L500.1 521.7L501.5 522.7L502.9 523.7L504.2 524.7L505.6 525.5L507.0 526.3L508.3 527.0L509.7 527.7L511.1 528.3L512.4 528.8L513.8 529.3L515.2 529.7L516.5 530.1L517.9 530.5L519.3 530.8L520.6 531.0L522.0 531.3L523.3 531.5L524.7 531.7L526.1 531.8L527.4 531.9L528.8 532.1L530.2 532.2L531.5 532.3L532.9 532.3L534.3 532.4L535.6 532.5L537.0 532.6L538.4 532.7L539.7 532.8L541.1 532.9L542.5 533.0L543.8 533.2L545.2 533.3L546.5 533.5L547.9 533.7L549.3 534.0L550.6 534.2L552.0 534.5L553.4 534.7L554.7 535.0L556.1 535.4L557.5 535.7L558.8 536.0L560.2 536.4L561.6 536.7L562.9 537.1L564.3 537.5L565.7 537.9L567.0 538.3L568.4 538.7L569.8 539.1L571.1 539.6L572.5 540.0L573.8 540.4L575.2 540.9L576.6 541.3L577.9 541.8L579.3 542.2L580.7 542.7L582.0 543.1L583.4 543.5L584.8 544.0L586.1 544.4L587.5 544.9L588.9 545.3L590.2 545.7L591.6 546.1L593.0 546.6L594.3 547.0L595.7 547.4L597.0 547.7L598.4 548.1L599.8 548.5L601.1 548.8L602.5 549.2L603.9 549.5L605.2 549.8L606.6 550.2L608.0 550.5L609.3 550.8L610.7 551.1L612.1 551.3L613.4 551.6L614.8 551.9L616.2 552.1L617.5 552.4L618.9 552.6L620.2 552.9L621.6 553.1L623.0 553.3L624.3 553.5L625.7 553.8L627.1 554.0L628.4 554.2L629.8 554.4L631.2 554.6L632.5 554.8L633.9 555.0L635.3 555.2L636.6 555.3L638.0 555.5L639.4 555.7L640.7 555.9L642.1 556.1L643.4 556.3L644.8 556.4L646.2 556.6L647.5 556.8L648.9 557.0L650.3 557.2L651.6 557.3L653.0 557.5L654.4 557.7L655.7 557.9L657.1 558.1L658.5 558.3L659.8 558.5L661.2 558.7L662.6 558.9L663.9 559.1L665.3 559.3L666.6 559.5L668.0 559.7L669.4 559.9L670.7 560.1L672.1 560.3L673.5 560.5L674.8 560.7L676.2 560.9L677.6 561.1L678.9 561.3L680.3 561.5L681.7 561.7L683.0 561.9L684.4 562.2L685.8 562.4L687.1 562.6L688.5 562.8L689.8 563.0L691.2 563.2L692.6 563.4L693.9 563.6L695.3 563.8L696.7 564.0L698.0 564.2L699.4 564.4L700.8 564.6L702.1 564.8L703.5 565.0L704.9 565.2L706.2 565.4L707.6 565.6L709.0 565.8L710.3 566.0L711.7 566.2L713.0 566.4L714.4 566.6L715.8 566.7L717.1 566.9L718.5 567.1L719.9 567.3L721.2 567.5L722.6 567.7L724.0 567.8L725.3 568.0L726.7 568.2L728.1 568.4L729.4 568.5L730.8 568.7L732.2 568.9L733.5 569.1L734.9 569.2L736.2 569.4L737.6 569.6L739.0 569.7L740.3 569.9L741.7 570.1L743.1 570.2L744.4 570.4L745.8 570.6L747.2 570.7L748.5 570.9L749.9 571.1L751.3 571.2L752.6 571.4L754.0 571.5L755.4 571.7L756.7 571.9L758.1 572.0L759.5 572.2L760.8 572.3L762.2 572.5L763.5 572.7L764.9 572.8L766.3 573.0L767.6 573.1L769.0 573.3L770.4 573.4L771.7 573.6L773.1 573.8L774.5 573.9L775.8 574.1L777.2 574.2L778.6 574.4L779.9 574.5L781.3 574.7L782.7 574.8L784.0 575.0L785.4 575.1L786.7 575.3L788.1 575.5L789.5 575.6L790.8 575.8L792.2 575.9L793.6 576.1L794.9 576.2L796.3 576.4L797.7 576.5L799.0 576.7L800.4 576.8L801.8 577.0L803.1 577.1L804.5 577.2L805.9 577.4L807.2 577.5L808.6 577.7L809.9 577.8L811.3 578.0L812.7 578.1L814.0 578.3L815.4 578.4L816.8 578.5L818.1 578.7L819.5 578.8L820.9 579.0L822.2 579.1L823.6 579.2L825.0 579.4L826.3 579.5L827.7 579.7L829.1 579.8L830.4 579.9L831.8 580.1L833.1 580.2L834.5 580.3L835.9 580.5L837.2 580.6L838.6 580.7L840.0 580.9L841.3 581.0L842.7 581.1L844.1 581.3L845.4 581.4L846.8 581.5L848.2 581.6L849.5 581.8L850.9 581.9L852.3 582.0L853.6 582.2L855.0 582.3L856.3 582.4L857.7 582.5L859.1 582.7L860.4 582.8L861.8 582.9L863.2 583.0L864.5 583.1L865.9 583.3L867.3 583.4L868.6 583.5L870.0 583.6L871.4 583.8L872.7 583.9L874.1 584.0L875.5 584.1L876.8 584.2L878.2 584.3L879.5 584.5L880.9 584.6L882.3 584.7L883.6 584.8L885.0 584.9L886.4 585.0L887.7 585.2L889.1 585.3L890.5 585.4L891.8 585.5L893.2 585.6L894.6 585.7L895.9 585.8L897.3 586.0L898.7 586.1L900.0 586.2L901.4 586.3L902.7 586.4L904.1 586.5L905.5 586.6L906.8 586.7L908.2 586.9L909.6 587.0L910.9 587.1L912.3 587.2L913.7 587.3L915.0 587.4L916.4 587.5L917.8 587.6L919.1 587.7L920.5 587.9L921.9 588.0L923.2 588.1L924.6 588.2L926.0 588.3" fill="none" stroke="#ff00ff" stroke-width="2.45" stroke-linejoin="round" stroke-dasharray="10.3 15.2" stroke-linecap="round"/>
<path d="M153.69 689.22L169.69 689.22L161.69 675.36Z" fill="#ff00ff"/>
<path d="M208.28 684.18L224.28 684.18L216.28 670.32Z" fill="#ff00ff"/>
<path d="M262.87 153.06L278.87 153.06L270.87 139.20Z" fill="#ff00ff"/>
<path d="M317.46 267.35L333.46 267.35L325.46 253.49Z" fill="#ff00ff"/>
<path d="M372.05 640.48L388.05 640.48L380.05 626.62Z" fill="#ff00ff"/>
<path d="M426.64 480.47L442.64 480.47L434.64 466.61Z" fill="#ff00ff"/>
<path d="M481.23 514.42L497.23 514.42L489.23 500.56Z" fill="#ff00ff"/>
<path d="M535.82 537.78L551.82 537.78L543.82 523.92Z" fill="#ff00ff"/>
<path d="M590.41 552.74L606.41 552.74L598.41 538.88Z" fill="#ff00ff"/>
<path d="M645.00 562.16L661.00 562.16L653.00 548.30Z" fill="#ff00ff"/>
<path d="M699.59 570.22L715.59 570.22L707.59 556.36Z" fill="#ff00ff"/>
<path d="M754.18 577.11L770.18 577.11L762.18 563.25Z" fill="#ff00ff"/>
<path d="M808.77 583.16L824.77 583.16L816.77 569.30Z" fill="#ff00ff"/>
<path d="M863.36 588.38L879.36 588.38L871.36 574.51Z" fill="#ff00ff"/>
<path d="M917.95 592.91L933.95 592.91L925.95 579.05Z" fill="#ff00ff"/>
<path d="M161.7 682.8L163.1 687.6L164.4 692.5L165.8 697.3L167.1 702.1L168.5 706.8L169.9 711.4L171.2 715.9L172.6 720.2L174.0 724.5L175.3 728.5L176.7 732.3L178.1 736.0L179.4 739.4L180.8 742.5L182.2 745.4L183.5 748.0L184.9 750.3L186.3 752.3L187.6 754.0L189.0 755.3L190.3 756.2L191.7 756.7L193.1 756.8L194.4 756.4L195.8 755.6L197.2 754.4L198.5 752.6L199.9 750.3L201.3 747.5L202.6 744.2L204.0 740.2L205.4 735.7L206.7 730.6L208.1 724.9L209.5 718.5L210.8 711.4L212.2 703.7L213.6 695.2L214.9 686.1L216.3 676.2L217.6 665.6L219.0 654.2L220.4 642.2L221.7 629.5L223.1 616.2L224.5 602.4L225.8 588.1L227.2 573.4L228.6 558.2L229.9 542.6L231.3 526.7L232.7 510.5L234.0 494.0L235.4 477.4L236.8 460.5L238.1 443.5L239.5 426.5L240.8 409.4L242.2 392.3L243.6 375.2L244.9 358.3L246.3 341.4L247.7 324.7L249.0 308.2L250.4 292.0L251.8 276.1L253.1 260.5L254.5 245.3L255.9 230.5L257.2 216.1L258.6 202.3L260.0 189.0L261.3 176.3L262.7 164.2L264.0 152.8L265.4 142.1L266.8 132.1L268.1 123.0L269.5 114.7L270.9 107.3L272.2 100.7L273.6 95.1L275.0 90.4L276.3 86.5L277.7 83.5L279.1 81.2L280.4 79.8L281.8 79.1L283.2 79.2L284.5 80.0L285.9 81.5L287.2 83.7L288.6 86.5L290.0 90.0L291.3 94.1L292.7 98.8L294.1 104.0L295.4 109.8L296.8 116.1L298.2 123.0L299.5 130.3L300.9 138.1L302.3 146.3L303.6 154.9L305.0 163.9L306.4 173.3L307.7 183.0L309.1 193.1L310.4 203.4L311.8 214.1L313.2 225.0L314.5 236.2L315.9 247.5L317.3 259.1L318.6 270.8L320.0 282.7L321.4 294.7L322.7 306.8L324.1 319.0L325.5 331.3L326.8 343.6L328.2 355.9L329.6 368.3L330.9 380.6L332.3 392.9L333.6 405.1L335.0 417.3L336.4 429.3L337.7 441.3L339.1 453.1L340.5 464.8L341.8 476.4L343.2 487.7L344.6 498.9L345.9 509.8L347.3 520.5L348.7 530.9L350.0 541.1L351.4 551.0L352.8 560.6L354.1 569.8L355.5 578.7L356.8 587.2L358.2 595.4L359.6 603.1L360.9 610.4L362.3 617.3L363.7 623.7L365.0 629.7L366.4 635.1L367.8 640.1L369.1 644.5L370.5 648.3L371.9 651.6L373.2 654.3L374.6 656.4L376.0 657.9L377.3 658.7L378.7 658.9L380.1 658.4L381.4 657.2L382.8 655.3L384.1 652.8L385.5 649.7L386.9 646.0L388.2 641.8L389.6 637.1L391.0 631.8L392.3 626.2L393.7 620.1L395.1 613.6L396.4 606.7L397.8 599.5L399.2 592.0L400.5 584.3L401.9 576.3L403.3 568.0L404.6 559.7L406.0 551.1L407.3 542.5L408.7 533.7L410.1 524.9L411.4 516.1L412.8 507.2L414.2 498.4L415.5 489.7L416.9 481.1L418.3 472.6L419.6 464.2L421.0 456.1L422.4 448.1L423.7 440.4L425.1 433.0L426.5 425.8L427.8 419.1L429.2 412.7L430.5 406.6L431.9 401.1L433.3 395.9L434.6 391.3L436.0 387.2L437.4 383.6L438.7 380.5L440.1 377.8L441.5 375.6L442.8 373.8L444.2 372.5L445.6 371.6L446.9 371.0L448.3 370.8L449.7 371.0L451.0 371.5L452.4 372.3L453.7 373.4L455.1 374.9L456.5 376.5L457.8 378.5L459.2 380.7L460.6 383.0L461.9 385.6L463.3 388.4L464.7 391.4L466.0 394.5L467.4 397.7L468.8 401.0L470.1 404.5L471.5 408.0L472.9 411.6L474.2 415.3L475.6 419.0L476.9 422.7L478.3 426.4L479.7 430.1L481.0 433.7L482.4 437.3L483.8 440.9L485.1 444.3L486.5 447.7L487.9 450.9L489.2 454.0L490.6 457.0L492.0 459.8L493.3 462.4L494.7 464.9L496.1 467.3L497.4 469.6L498.8 471.7L500.1 473.8L501.5 475.7L502.9 477.4L504.2 479.1L505.6 480.7L507.0 482.2L508.3 483.6L509.7 484.8L511.1 486.0L512.4 487.2L513.8 488.2L515.2 489.2L516.5 490.1L517.9 490.9L519.3 491.7L520.6 492.4L522.0 493.1L523.3 493.7L524.7 494.3L526.1 494.9L527.4 495.4L528.8 495.8L530.2 496.3L531.5 496.7L532.9 497.1L534.3 497.6L535.6 497.9L537.0 498.3L538.4 498.7L539.7 499.1L541.1 499.5L542.5 500.0L543.8 500.4L545.2 500.8L546.5 501.3L547.9 501.8L549.3 502.3L550.6 502.9L552.0 503.4L553.4 504.0L554.7 504.6L556.1 505.2L557.5 505.8L558.8 506.4L560.2 507.1L561.6 507.7L562.9 508.4L564.3 509.1L565.7 509.8L567.0 510.4L568.4 511.1L569.8 511.8L571.1 512.5L572.5 513.2L573.8 513.9L575.2 514.7L576.6 515.4L577.9 516.1L579.3 516.8L580.7 517.5L582.0 518.2L583.4 518.9L584.8 519.6L586.1 520.3L587.5 521.0L588.9 521.7L590.2 522.3L591.6 523.0L593.0 523.6L594.3 524.3L595.7 524.9L597.0 525.5L598.4 526.1L599.8 526.7L601.1 527.3L602.5 527.8L603.9 528.4L605.2 528.9L606.6 529.4L608.0 529.9L609.3 530.4L610.7 530.9L612.1 531.3L613.4 531.8L614.8 532.2L616.2 532.7L617.5 533.1L618.9 533.5L620.2 533.9L621.6 534.3L623.0 534.7L624.3 535.1L625.7 535.5L627.1 535.8L628.4 536.2L629.8 536.5L631.2 536.9L632.5 537.2L633.9 537.6L635.3 537.9L636.6 538.3L638.0 538.6L639.4 538.9L640.7 539.2L642.1 539.5L643.4 539.9L644.8 540.2L646.2 540.5L647.5 540.8L648.9 541.1L650.3 541.4L651.6 541.8L653.0 542.1L654.4 542.4L655.7 542.7L657.1 543.0L658.5 543.3L659.8 543.7L661.2 544.0L662.6 544.3L663.9 544.6L665.3 545.0L666.6 545.3L668.0 545.6L669.4 545.9L670.7 546.3L672.1 546.6L673.5 546.9L674.8 547.2L676.2 547.6L677.6 547.9L678.9 548.2L680.3 548.5L681.7 548.8L683.0 549.2L684.4 549.5L685.8 549.8L687.1 550.1L688.5 550.4L689.8 550.8L691.2 551.1L692.6 551.4L693.9 551.7L695.3 552.0L696.7 552.3L698.0 552.6L699.4 552.9L700.8 553.2L702.1 553.5L703.5 553.8L704.9 554.1L706.2 554.4L707.6 554.7L709.0 555.0L710.3 555.2L711.7 555.5L713.0 555.8L714.4 556.1L715.8 556.3L717.1 556.6L718.5 556.9L719.9 557.1L721.2 557.4L722.6 557.7L724.0 557.9L725.3 558.2L726.7 558.4L728.1 558.7L729.4 558.9L730.8 559.2L732.2 559.4L733.5 559.7L734.9 559.9L736.2 560.1L737.6 560.4L739.0 560.6L740.3 560.9L741.7 561.1L743.1 561.3L744.4 561.5L745.8 561.8L747.2 562.0L748.5 562.2L749.9 562.5L751.3 562.7L752.6 562.9L754.0 563.1L755.4 563.3L756.7 563.6L758.1 563.8L759.5 564.0L760.8 564.2L762.2 564.4L763.5 564.6L764.9 564.9L766.3 565.1L767.6 565.3L769.0 565.5L770.4 565.7L771.7 565.9L773.1 566.1L774.5 566.3L775.8 566.5L777.2 566.8L778.6 567.0L779.9 567.2L781.3 567.4L782.7 567.6L784.0 567.8L785.4 568.0L786.7 568.2L788.1 568.4L789.5 568.6L790.8 568.8L792.2 569.0L793.6 569.2L794.9 569.4L796.3 569.6L797.7 569.8L799.0 570.0L800.4 570.2L801.8 570.4L803.1 570.6L804.5 570.8L805.9 571.0L807.2 571.2L808.6 571.4L809.9 571.5L811.3 571.7L812.7 571.9L814.0 572.1L815.4 572.3L816.8 572.5L818.1 572.7L819.5 572.9L820.9 573.1L822.2 573.2L823.6 573.4L825.0 573.6L826.3 573.8L827.7 574.0L829.1 574.2L830.4 574.3L831.8 574.5L833.1 574.7L834.5 574.9L835.9 575.1L837.2 575.2L838.6 575.4L840.0 575.6L841.3 575.8L842.7 575.9L844.1 576.1L845.4 576.3L846.8 576.4L848.2 576.6L849.5 576.8L850.9 577.0L852.3 577.1L853.6 577.3L855.0 577.5L856.3 577.6L857.7 577.8L859.1 578.0L860.4 578.1L861.8 578.3L863.2 578.4L864.5 578.6L865.9 578.8L867.3 578.9L868.6 579.1L870.0 579.2L871.4 579.4L872.7 579.5L874.1 579.7L875.5 579.8L876.8 580.0L878.2 580.2L879.5 580.3L880.9 580.5L882.3 580.6L883.6 580.7L885.0 580.9L886.4 581.0L887.7 581.2L889.1 581.3L890.5 581.5L891.8 581.6L893.2 581.8L894.6 581.9L895.9 582.1L897.3 582.2L898.7 582.3L900.0 582.5L901.4 582.6L902.7 582.8L904.1 582.9L905.5 583.0L906.8 583.2L908.2 583.3L909.6 583.5L910.9 583.6L912.3 583.7L913.7 583.9L915.0 584.0L916.4 584.1L917.8 584.3L919.1 584.4L920.5 584.6L921.9 584.7L923.2 584.8L924.6 585.0L926.0 585.1" fill="none" stroke="#008000" stroke-width="2.45" stroke-linejoin="round" stroke-dasharray="10.3 15.2" stroke-linecap="round"/>
<path d="M153.69 678.13L169.69 678.13L161.69 691.99Z" fill="#008000"/>
<path d="M208.28 671.58L224.28 671.58L216.28 685.44Z" fill="#008000"/>
<path d="M262.87 102.64L278.87 102.64L270.87 116.50Z" fill="#008000"/>
<path d="M317.46 326.69L333.46 326.69L325.46 340.55Z" fill="#008000"/>
<path d="M372.05 653.76L388.05 653.76L380.05 667.62Z" fill="#008000"/>
<path d="M426.64 386.69L442.64 386.69L434.64 400.55Z" fill="#008000"/>
<path d="M481.23 449.38L497.23 449.38L489.23 463.24Z" fill="#008000"/>
<path d="M535.82 495.77L551.82 495.77L543.82 509.63Z" fill="#008000"/>
<path d="M590.41 521.49L606.41 521.49L598.41 535.35Z" fill="#008000"/>
<path d="M645.00 537.45L661.00 537.45L653.00 551.31Z" fill="#008000"/>
<path d="M699.59 550.06L715.59 550.06L707.59 563.92Z" fill="#008000"/>
<path d="M754.18 559.81L770.18 559.81L762.18 573.67Z" fill="#008000"/>
<path d="M808.77 567.87L824.77 567.87L816.77 581.73Z" fill="#008000"/>
<path d="M863.36 574.77L879.36 574.77L871.36 588.63Z" fill="#008000"/>
<path d="M917.95 580.48L933.95 580.48L925.95 594.34Z" fill="#008000"/>
</g>
<path d="M107.5 12.3H926.4V684.6H107.5Z" fill="none" stroke="#000" stroke-width="2.2"/>
<path d="M107.5 684.6h-13.2M107.5 642.6h-6.8M107.5 600.6h-13.2M107.5 558.5h-6.8M107.5 516.5h-13.2M107.5 474.5h-6.8M107.5 432.5h-13.2M107.5 390.5h-6.8M107.5 348.4h-13.2M107.5 306.4h-6.8M107.5 264.4h-13.2M107.5 222.4h-6.8M107.5 180.4h-13.2M107.5 138.4h-6.8M107.5 96.3h-13.2M107.5 54.3h-6.8M107.5 12.3h-13.2M107.5 684.6v6.8M162.1 684.6v13M216.7 684.6v6.8M271.3 684.6v13M325.9 684.6v6.8M380.5 684.6v13M435.0 684.6v6.8M489.6 684.6v13M544.2 684.6v6.8M598.8 684.6v13M653.4 684.6v6.8M708.0 684.6v13M762.6 684.6v6.8M817.2 684.6v13M871.8 684.6v6.8M926.4 684.6v13" stroke="#000" stroke-width="2.2" fill="none"/>
<text transform="translate(85.9 693.2) scale(1 1.04)" font-family="Liberation Sans, Arial, sans-serif" font-size="28.3" text-anchor="end">0</text>
<text transform="translate(85.9 609.2) scale(1 1.04)" font-family="Liberation Sans, Arial, sans-serif" font-size="28.3" text-anchor="end">50</text>
<text transform="translate(85.9 525.1) scale(1 1.04)" font-family="Liberation Sans, Arial, sans-serif" font-size="28.3" text-anchor="end">100</text>
<text transform="translate(85.9 441.1) scale(1 1.04)" font-family="Liberation Sans, Arial, sans-serif" font-size="28.3" text-anchor="end">150</text>
<text transform="translate(85.9 357.0) scale(1 1.04)" font-family="Liberation Sans, Arial, sans-serif" font-size="28.3" text-anchor="end">200</text>
<text transform="translate(85.9 273.0) scale(1 1.04)" font-family="Liberation Sans, Arial, sans-serif" font-size="28.3" text-anchor="end">250</text>
<text transform="translate(85.9 189.0) scale(1 1.04)" font-family="Liberation Sans, Arial, sans-serif" font-size="28.3" text-anchor="end">300</text>
<text transform="translate(85.9 104.9) scale(1 1.04)" font-family="Liberation Sans, Arial, sans-serif" font-size="28.3" text-anchor="end">350</text>
<text transform="translate(85.9 20.9) scale(1 1.04)" font-family="Liberation Sans, Arial, sans-serif" font-size="28.3" text-anchor="end">400</text>
<text transform="translate(162.1 728.5) scale(1 1.04)" font-family="Liberation Sans, Arial, sans-serif" font-size="28.3" text-anchor="middle">1</text>
<text transform="translate(271.3 728.5) scale(1 1.04)" font-family="Liberation Sans, Arial, sans-serif" font-size="28.3" text-anchor="middle">3</text>
<text transform="translate(380.5 728.5) scale(1 1.04)" font-family="Liberation Sans, Arial, sans-serif" font-size="28.3" text-anchor="middle">5</text>
<text transform="translate(489.6 728.5) scale(1 1.04)" font-family="Liberation Sans, Arial, sans-serif" font-size="28.3" text-anchor="middle">7</text>
<text transform="translate(598.8 728.5) scale(1 1.04)" font-family="Liberation Sans, Arial, sans-serif" font-size="28.3" text-anchor="middle">9</text>
<text transform="translate(708.0 728.5) scale(1 1.04)" font-family="Liberation Sans, Arial, sans-serif" font-size="28.3" text-anchor="middle">11</text>
<text transform="translate(817.2 728.5) scale(1 1.04)" font-family="Liberation Sans, Arial, sans-serif" font-size="28.3" text-anchor="middle">13</text>
<text transform="translate(926.4 728.5) scale(1 1.04)" font-family="Liberation Sans, Arial, sans-serif" font-size="28.3" text-anchor="middle">15</text>
<text transform="translate(516.9 776.5) scale(1 1.05)" font-family="Liberation Sans, Arial, sans-serif" font-size="28.2" text-anchor="middle">Time Period (<tspan font-style="italic">s</tspan>)</text>
<text transform="translate(20.8 350.2) rotate(-90) scale(1 1.0)" font-family="Liberation Sans, Arial, sans-serif" font-size="28.45" text-anchor="middle"><tspan font-family="Liberation Serif, Times New Roman, serif" font-size="30.5">ξ</tspan><tspan font-size="19.5" dy="7" textLength="18.4" lengthAdjust="spacingAndGlyphs">33</tspan><tspan dy="-7">-Power (</tspan><tspan font-style="italic">kW</tspan>)</text>
<text x="487.3" y="830.5" font-family="Liberation Serif, Times New Roman, serif" font-size="46" text-anchor="middle">(a)</text>
<rect x="490.5" y="18.5" width="431.0" height="214.0" fill="#fff" stroke="#4a4a4a" stroke-width="1"/>
<path d="M494.3 42.3H570.9" stroke="#000000" stroke-width="2.75" fill="none"/>
<rect x="527.95" y="37.35" width="9.90" height="9.90" fill="#fff" stroke="#000000" stroke-width="1.40"/>
<text transform="translate(579.9 53.8) scale(1 1.03)" font-family="Liberation Serif, Times New Roman, serif" font-size="34.35">Box type FBW</text>
<path d="M494.3 83.3H570.9" stroke="#ff0000" stroke-width="2.75" fill="none"/>
<circle cx="532.90" cy="83.30" r="5.42" fill="#fff" stroke="#ff0000" stroke-width="1.23"/>
<text transform="translate(579.9 95.2) scale(1 1.03)" font-family="Liberation Serif, Times New Roman, serif" font-size="34.35">Trapezoidal type FBW</text>
<path d="M494.3 128.3H570.9" stroke="#0000ff" stroke-width="2.75" fill="none"/>
<path d="M525.59 128.30L532.90 120.99L540.21 128.30L532.90 135.61Z" fill="#fff" stroke="#0000ff" stroke-width="1.44"/>
<text transform="translate(579.9 140.0) scale(1 1.03)" font-family="Liberation Serif, Times New Roman, serif" font-size="34.35">π-type FBW</text>
<path d="M495.7 169.3H567.4" stroke="#ff00ff" stroke-width="2.75" fill="none" stroke-dasharray="10.0 15.5" stroke-linecap="round"/>
<path d="M525.46 173.60L540.34 173.60L532.90 160.71Z" fill="#ff00ff"/>
<text transform="translate(579.9 180.2) scale(1 1.03)" font-family="Liberation Serif, Times New Roman, serif" font-size="34.35">Parabolic type FBW</text>
<path d="M495.7 210.1H567.4" stroke="#008000" stroke-width="2.75" fill="none" stroke-dasharray="10.0 15.5" stroke-linecap="round"/>
<path d="M525.46 205.80L540.34 205.80L532.90 218.69Z" fill="#008000"/>
<text transform="translate(579.9 221.5) scale(1 1.03)" font-family="Liberation Serif, Times New Roman, serif" font-size="34.35">Semi-circular type FBW</text>
<clipPath id="clipb"><rect x="107.5" y="857.7" width="818.9" height="659.3"/></clipPath>
<path d="M161.7 857.7V1517M270.9 857.7V1517M380.1 857.7V1517M489.2 857.7V1517M598.4 857.7V1517M707.6 857.7V1517M816.8 857.7V1517M107.5 1422.8H926.4M107.5 1328.6H926.4M107.5 1234.4H926.4M107.5 1140.3H926.4M107.5 1046.1H926.4M107.5 951.9H926.4" stroke="#cecece" stroke-width="1.15" stroke-dasharray="4.2 3.9" fill="none"/>
<g clip-path="url(#clipb)">
<path d="M161.7 1517.0L163.1 1520.0L164.4 1522.9L165.8 1525.8L167.1 1528.7L168.5 1531.5L169.9 1534.3L171.2 1537.0L172.6 1539.5L174.0 1542.0L175.3 1544.3L176.7 1546.5L178.1 1548.5L179.4 1550.4L180.8 1552.1L182.2 1553.5L183.5 1554.8L184.9 1555.8L186.3 1556.6L187.6 1557.2L189.0 1557.4L190.3 1557.4L191.7 1557.1L193.1 1556.4L194.4 1555.5L195.8 1554.2L197.2 1552.5L198.5 1550.5L199.9 1548.1L201.3 1545.3L202.6 1542.1L204.0 1538.4L205.4 1534.3L206.7 1529.8L208.1 1524.8L209.5 1519.3L210.8 1513.3L212.2 1506.8L213.6 1499.7L214.9 1492.2L216.3 1484.0L217.6 1475.3L219.0 1466.1L220.4 1456.4L221.7 1446.2L223.1 1435.5L224.5 1424.4L225.8 1413.0L227.2 1401.1L228.6 1389.0L229.9 1376.6L231.3 1363.9L232.7 1350.9L234.0 1337.8L235.4 1324.5L236.8 1311.0L238.1 1297.5L239.5 1283.8L240.8 1270.1L242.2 1256.4L243.6 1242.7L244.9 1229.1L246.3 1215.5L247.7 1202.0L249.0 1188.6L250.4 1175.5L251.8 1162.5L253.1 1149.7L254.5 1137.2L255.9 1124.9L257.2 1113.0L258.6 1101.5L260.0 1090.3L261.3 1079.5L262.7 1069.1L264.0 1059.3L265.4 1049.9L266.8 1041.1L268.1 1032.8L269.5 1025.1L270.9 1018.0L272.2 1011.6L273.6 1005.8L275.0 1000.6L276.3 996.0L277.7 991.9L279.1 988.4L280.4 985.4L281.8 982.8L283.2 980.8L284.5 979.2L285.9 977.9L287.2 977.1L288.6 976.7L290.0 976.6L291.3 976.8L292.7 977.3L294.1 978.1L295.4 979.2L296.8 980.4L298.2 981.9L299.5 983.6L300.9 985.4L302.3 987.3L303.6 989.4L305.0 991.5L306.4 993.8L307.7 996.0L309.1 998.3L310.4 1000.5L311.8 1002.7L313.2 1004.9L314.5 1007.0L315.9 1009.0L317.3 1010.8L318.6 1012.5L320.0 1014.1L321.4 1015.4L322.7 1016.5L324.1 1017.4L325.5 1018.0L326.8 1018.3L328.2 1018.4L329.6 1018.2L330.9 1017.7L332.3 1017.0L333.6 1016.1L335.0 1015.0L336.4 1013.7L337.7 1012.2L339.1 1010.6L340.5 1008.8L341.8 1007.0L343.2 1005.0L344.6 1002.9L345.9 1000.7L347.3 998.4L348.7 996.2L350.0 993.8L351.4 991.5L352.8 989.1L354.1 986.8L355.5 984.5L356.8 982.2L358.2 980.0L359.6 977.8L360.9 975.8L362.3 973.8L363.7 971.9L365.0 970.2L366.4 968.6L367.8 967.2L369.1 966.0L370.5 964.9L371.9 964.1L373.2 963.4L374.6 963.0L376.0 962.9L377.3 963.0L378.7 963.4L380.1 964.1L381.4 965.1L382.8 966.4L384.1 968.0L385.5 969.9L386.9 972.0L388.2 974.4L389.6 977.0L391.0 979.8L392.3 982.9L393.7 986.1L395.1 989.6L396.4 993.2L397.8 997.0L399.2 1000.9L400.5 1005.0L401.9 1009.2L403.3 1013.5L404.6 1017.9L406.0 1022.4L407.3 1027.0L408.7 1031.7L410.1 1036.4L411.4 1041.1L412.8 1045.9L414.2 1050.7L415.5 1055.5L416.9 1060.3L418.3 1065.1L419.6 1069.8L421.0 1074.5L422.4 1079.2L423.7 1083.8L425.1 1088.3L426.5 1092.7L427.8 1097.0L429.2 1101.2L430.5 1105.2L431.9 1109.1L433.3 1112.9L434.6 1116.5L436.0 1120.0L437.4 1123.2L438.7 1126.3L440.1 1129.2L441.5 1132.0L442.8 1134.7L444.2 1137.2L445.6 1139.6L446.9 1141.8L448.3 1143.9L449.7 1146.0L451.0 1147.9L452.4 1149.7L453.7 1151.4L455.1 1153.1L456.5 1154.6L457.8 1156.1L459.2 1157.6L460.6 1158.9L461.9 1160.3L463.3 1161.5L464.7 1162.8L466.0 1164.0L467.4 1165.2L468.8 1166.3L470.1 1167.5L471.5 1168.6L472.9 1169.8L474.2 1170.9L475.6 1172.1L476.9 1173.3L478.3 1174.5L479.7 1175.7L481.0 1177.0L482.4 1178.4L483.8 1179.8L485.1 1181.2L486.5 1182.8L487.9 1184.4L489.2 1186.0L490.6 1187.8L492.0 1189.6L493.3 1191.6L494.7 1193.6L496.1 1195.7L497.4 1197.8L498.8 1200.0L500.1 1202.3L501.5 1204.6L502.9 1207.0L504.2 1209.5L505.6 1212.0L507.0 1214.5L508.3 1217.1L509.7 1219.7L511.1 1222.4L512.4 1225.1L513.8 1227.8L515.2 1230.5L516.5 1233.3L517.9 1236.1L519.3 1238.9L520.6 1241.7L522.0 1244.5L523.3 1247.3L524.7 1250.1L526.1 1252.9L527.4 1255.7L528.8 1258.5L530.2 1261.3L531.5 1264.1L532.9 1266.8L534.3 1269.5L535.6 1272.2L537.0 1274.9L538.4 1277.5L539.7 1280.1L541.1 1282.6L542.5 1285.1L543.8 1287.6L545.2 1290.0L546.5 1292.3L547.9 1294.6L549.3 1296.8L550.6 1299.0L552.0 1301.2L553.4 1303.3L554.7 1305.4L556.1 1307.4L557.5 1309.4L558.8 1311.3L560.2 1313.2L561.6 1315.1L562.9 1316.9L564.3 1318.7L565.7 1320.4L567.0 1322.1L568.4 1323.8L569.8 1325.5L571.1 1327.1L572.5 1328.7L573.8 1330.2L575.2 1331.8L576.6 1333.3L577.9 1334.8L579.3 1336.2L580.7 1337.7L582.0 1339.1L583.4 1340.5L584.8 1341.9L586.1 1343.2L587.5 1344.6L588.9 1345.9L590.2 1347.2L591.6 1348.5L593.0 1349.8L594.3 1351.0L595.7 1352.3L597.0 1353.6L598.4 1354.8L599.8 1356.1L601.1 1357.3L602.5 1358.5L603.9 1359.7L605.2 1360.9L606.6 1362.2L608.0 1363.3L609.3 1364.5L610.7 1365.7L612.1 1366.9L613.4 1368.1L614.8 1369.2L616.2 1370.4L617.5 1371.5L618.9 1372.6L620.2 1373.8L621.6 1374.9L623.0 1376.0L624.3 1377.1L625.7 1378.2L627.1 1379.3L628.4 1380.3L629.8 1381.4L631.2 1382.4L632.5 1383.5L633.9 1384.5L635.3 1385.5L636.6 1386.5L638.0 1387.5L639.4 1388.5L640.7 1389.5L642.1 1390.5L643.4 1391.4L644.8 1392.4L646.2 1393.3L647.5 1394.2L648.9 1395.1L650.3 1396.0L651.6 1396.9L653.0 1397.8L654.4 1398.6L655.7 1399.5L657.1 1400.3L658.5 1401.1L659.8 1401.9L661.2 1402.7L662.6 1403.5L663.9 1404.3L665.3 1405.1L666.6 1405.8L668.0 1406.6L669.4 1407.3L670.7 1408.1L672.1 1408.8L673.5 1409.5L674.8 1410.2L676.2 1410.9L677.6 1411.6L678.9 1412.3L680.3 1413.0L681.7 1413.6L683.0 1414.3L684.4 1414.9L685.8 1415.6L687.1 1416.2L688.5 1416.9L689.8 1417.5L691.2 1418.1L692.6 1418.7L693.9 1419.3L695.3 1420.0L696.7 1420.6L698.0 1421.2L699.4 1421.8L700.8 1422.3L702.1 1422.9L703.5 1423.5L704.9 1424.1L706.2 1424.7L707.6 1425.3L709.0 1425.8L710.3 1426.4L711.7 1427.0L713.0 1427.6L714.4 1428.1L715.8 1428.7L717.1 1429.2L718.5 1429.8L719.9 1430.4L721.2 1430.9L722.6 1431.5L724.0 1432.0L725.3 1432.6L726.7 1433.1L728.1 1433.6L729.4 1434.2L730.8 1434.7L732.2 1435.2L733.5 1435.7L734.9 1436.3L736.2 1436.8L737.6 1437.3L739.0 1437.8L740.3 1438.3L741.7 1438.8L743.1 1439.3L744.4 1439.8L745.8 1440.3L747.2 1440.8L748.5 1441.3L749.9 1441.7L751.3 1442.2L752.6 1442.7L754.0 1443.1L755.4 1443.6L756.7 1444.0L758.1 1444.5L759.5 1444.9L760.8 1445.4L762.2 1445.8L763.5 1446.2L764.9 1446.6L766.3 1447.1L767.6 1447.5L769.0 1447.9L770.4 1448.3L771.7 1448.7L773.1 1449.1L774.5 1449.5L775.8 1449.9L777.2 1450.2L778.6 1450.6L779.9 1451.0L781.3 1451.4L782.7 1451.7L784.0 1452.1L785.4 1452.4L786.7 1452.8L788.1 1453.1L789.5 1453.5L790.8 1453.8L792.2 1454.2L793.6 1454.5L794.9 1454.9L796.3 1455.2L797.7 1455.5L799.0 1455.8L800.4 1456.2L801.8 1456.5L803.1 1456.8L804.5 1457.1L805.9 1457.4L807.2 1457.8L808.6 1458.1L809.9 1458.4L811.3 1458.7L812.7 1459.0L814.0 1459.3L815.4 1459.6L816.8 1459.9L818.1 1460.2L819.5 1460.5L820.9 1460.8L822.2 1461.1L823.6 1461.4L825.0 1461.7L826.3 1462.0L827.7 1462.3L829.1 1462.6L830.4 1462.9L831.8 1463.2L833.1 1463.5L834.5 1463.8L835.9 1464.1L837.2 1464.3L838.6 1464.6L840.0 1464.9L841.3 1465.2L842.7 1465.5L844.1 1465.7L845.4 1466.0L846.8 1466.3L848.2 1466.6L849.5 1466.8L850.9 1467.1L852.3 1467.4L853.6 1467.6L855.0 1467.9L856.3 1468.1L857.7 1468.4L859.1 1468.6L860.4 1468.9L861.8 1469.2L863.2 1469.4L864.5 1469.6L865.9 1469.9L867.3 1470.1L868.6 1470.4L870.0 1470.6L871.4 1470.8L872.7 1471.1L874.1 1471.3L875.5 1471.5L876.8 1471.8L878.2 1472.0L879.5 1472.2L880.9 1472.4L882.3 1472.7L883.6 1472.9L885.0 1473.1L886.4 1473.3L887.7 1473.5L889.1 1473.7L890.5 1473.9L891.8 1474.1L893.2 1474.3L894.6 1474.5L895.9 1474.7L897.3 1474.9L898.7 1475.1L900.0 1475.3L901.4 1475.5L902.7 1475.7L904.1 1475.9L905.5 1476.1L906.8 1476.3L908.2 1476.5L909.6 1476.7L910.9 1476.9L912.3 1477.1L913.7 1477.3L915.0 1477.5L916.4 1477.6L917.8 1477.8L919.1 1478.0L920.5 1478.2L921.9 1478.4L923.2 1478.6L924.6 1478.8L926.0 1478.9" fill="none" stroke="#000000" stroke-width="2.45" stroke-linejoin="round"/>
<rect x="156.74" y="1512.05" width="9.90" height="9.90" fill="#fff" stroke="#000000" stroke-width="1.40"/>
<rect x="211.33" y="1479.09" width="9.90" height="9.90" fill="#fff" stroke="#000000" stroke-width="1.40"/>
<rect x="265.92" y="1013.05" width="9.90" height="9.90" fill="#fff" stroke="#000000" stroke-width="1.40"/>
<rect x="320.51" y="1013.05" width="9.90" height="9.90" fill="#fff" stroke="#000000" stroke-width="1.40"/>
<rect x="375.10" y="959.18" width="9.90" height="9.90" fill="#fff" stroke="#000000" stroke-width="1.40"/>
<rect x="429.69" y="1111.57" width="9.90" height="9.90" fill="#fff" stroke="#000000" stroke-width="1.40"/>
<rect x="484.28" y="1181.08" width="9.90" height="9.90" fill="#fff" stroke="#000000" stroke-width="1.40"/>
<rect x="538.87" y="1282.61" width="9.90" height="9.90" fill="#fff" stroke="#000000" stroke-width="1.40"/>
<rect x="593.46" y="1349.86" width="9.90" height="9.90" fill="#fff" stroke="#000000" stroke-width="1.40"/>
<rect x="648.05" y="1392.81" width="9.90" height="9.90" fill="#fff" stroke="#000000" stroke-width="1.40"/>
<rect x="702.64" y="1420.31" width="9.90" height="9.90" fill="#fff" stroke="#000000" stroke-width="1.40"/>
<rect x="757.23" y="1440.85" width="9.90" height="9.90" fill="#fff" stroke="#000000" stroke-width="1.40"/>
<rect x="811.82" y="1454.97" width="9.90" height="9.90" fill="#fff" stroke="#000000" stroke-width="1.40"/>
<rect x="866.41" y="1465.90" width="9.90" height="9.90" fill="#fff" stroke="#000000" stroke-width="1.40"/>
<rect x="921.00" y="1474.00" width="9.90" height="9.90" fill="#fff" stroke="#000000" stroke-width="1.40"/>
<path d="M161.7 1509.7L163.1 1511.4L164.4 1513.1L165.8 1514.9L167.1 1516.5L168.5 1518.2L169.9 1519.8L171.2 1521.3L172.6 1522.8L174.0 1524.1L175.3 1525.4L176.7 1526.6L178.1 1527.6L179.4 1528.6L180.8 1529.4L182.2 1530.0L183.5 1530.5L184.9 1530.9L186.3 1531.0L187.6 1531.0L189.0 1530.8L190.3 1530.4L191.7 1529.7L193.1 1528.8L194.4 1527.7L195.8 1526.4L197.2 1524.7L198.5 1522.8L199.9 1520.7L201.3 1518.2L202.6 1515.4L204.0 1512.4L205.4 1509.0L206.7 1505.2L208.1 1501.2L209.5 1496.7L210.8 1492.0L212.2 1486.8L213.6 1481.2L214.9 1475.3L216.3 1469.0L217.6 1462.2L219.0 1455.1L220.4 1447.6L221.7 1439.7L223.1 1431.6L224.5 1423.2L225.8 1414.5L227.2 1405.6L228.6 1396.5L229.9 1387.2L231.3 1377.8L232.7 1368.2L234.0 1358.6L235.4 1348.9L236.8 1339.1L238.1 1329.4L239.5 1319.6L240.8 1309.9L242.2 1300.3L243.6 1290.8L244.9 1281.3L246.3 1272.1L247.7 1263.0L249.0 1254.1L250.4 1245.4L251.8 1237.0L253.1 1228.9L254.5 1221.0L255.9 1213.5L257.2 1206.4L258.6 1199.7L260.0 1193.4L261.3 1187.5L262.7 1182.1L264.0 1177.2L265.4 1172.8L266.8 1168.9L268.1 1165.7L269.5 1163.0L270.9 1161.0L272.2 1159.6L273.6 1158.8L275.0 1158.7L276.3 1159.1L277.7 1160.1L279.1 1161.6L280.4 1163.7L281.8 1166.2L283.2 1169.1L284.5 1172.5L285.9 1176.3L287.2 1180.4L288.6 1184.9L290.0 1189.8L291.3 1194.9L292.7 1200.3L294.1 1205.9L295.4 1211.8L296.8 1217.9L298.2 1224.1L299.5 1230.5L300.9 1237.0L302.3 1243.5L303.6 1250.2L305.0 1256.9L306.4 1263.6L307.7 1270.3L309.1 1277.0L310.4 1283.6L311.8 1290.1L313.2 1296.5L314.5 1302.8L315.9 1308.9L317.3 1314.9L318.6 1320.6L320.0 1326.0L321.4 1331.2L322.7 1336.2L324.1 1340.8L325.5 1345.0L326.8 1348.9L328.2 1352.5L329.6 1355.6L330.9 1358.5L332.3 1361.1L333.6 1363.3L335.0 1365.3L336.4 1367.0L337.7 1368.4L339.1 1369.5L340.5 1370.5L341.8 1371.2L343.2 1371.7L344.6 1371.9L345.9 1372.0L347.3 1372.0L348.7 1371.7L350.0 1371.4L351.4 1370.8L352.8 1370.2L354.1 1369.4L355.5 1368.6L356.8 1367.7L358.2 1366.7L359.6 1365.6L360.9 1364.5L362.3 1363.4L363.7 1362.2L365.0 1361.1L366.4 1359.9L367.8 1358.8L369.1 1357.7L370.5 1356.6L371.9 1355.6L373.2 1354.7L374.6 1353.9L376.0 1353.1L377.3 1352.5L378.7 1352.0L380.1 1351.6L381.4 1351.4L382.8 1351.3L384.1 1351.4L385.5 1351.5L386.9 1351.9L388.2 1352.3L389.6 1352.9L391.0 1353.6L392.3 1354.3L393.7 1355.2L395.1 1356.2L396.4 1357.3L397.8 1358.5L399.2 1359.8L400.5 1361.1L401.9 1362.5L403.3 1364.0L404.6 1365.6L406.0 1367.2L407.3 1368.9L408.7 1370.6L410.1 1372.3L411.4 1374.2L412.8 1376.0L414.2 1377.9L415.5 1379.8L416.9 1381.7L418.3 1383.6L419.6 1385.6L421.0 1387.6L422.4 1389.5L423.7 1391.5L425.1 1393.4L426.5 1395.4L427.8 1397.3L429.2 1399.2L430.5 1401.0L431.9 1402.9L433.3 1404.7L434.6 1406.4L436.0 1408.1L437.4 1409.8L438.7 1411.4L440.1 1413.0L441.5 1414.5L442.8 1416.0L444.2 1417.4L445.6 1418.9L446.9 1420.2L448.3 1421.5L449.7 1422.8L451.0 1424.1L452.4 1425.3L453.7 1426.5L455.1 1427.6L456.5 1428.8L457.8 1429.8L459.2 1430.9L460.6 1431.9L461.9 1432.9L463.3 1433.9L464.7 1434.8L466.0 1435.8L467.4 1436.6L468.8 1437.5L470.1 1438.4L471.5 1439.2L472.9 1440.0L474.2 1440.8L475.6 1441.6L476.9 1442.3L478.3 1443.0L479.7 1443.8L481.0 1444.5L482.4 1445.1L483.8 1445.8L485.1 1446.5L486.5 1447.1L487.9 1447.8L489.2 1448.4L490.6 1449.1L492.0 1449.7L493.3 1450.3L494.7 1450.9L496.1 1451.5L497.4 1452.1L498.8 1452.7L500.1 1453.3L501.5 1453.8L502.9 1454.4L504.2 1455.0L505.6 1455.5L507.0 1456.1L508.3 1456.6L509.7 1457.1L511.1 1457.7L512.4 1458.2L513.8 1458.7L515.2 1459.2L516.5 1459.7L517.9 1460.2L519.3 1460.7L520.6 1461.2L522.0 1461.7L523.3 1462.1L524.7 1462.6L526.1 1463.1L527.4 1463.5L528.8 1464.0L530.2 1464.4L531.5 1464.8L532.9 1465.3L534.3 1465.7L535.6 1466.1L537.0 1466.6L538.4 1467.0L539.7 1467.4L541.1 1467.8L542.5 1468.2L543.8 1468.6L545.2 1469.0L546.5 1469.4L547.9 1469.8L549.3 1470.1L550.6 1470.5L552.0 1470.9L553.4 1471.2L554.7 1471.6L556.1 1472.0L557.5 1472.3L558.8 1472.7L560.2 1473.0L561.6 1473.4L562.9 1473.7L564.3 1474.0L565.7 1474.4L567.0 1474.7L568.4 1475.0L569.8 1475.4L571.1 1475.7L572.5 1476.0L573.8 1476.3L575.2 1476.6L576.6 1476.9L577.9 1477.2L579.3 1477.6L580.7 1477.9L582.0 1478.2L583.4 1478.5L584.8 1478.7L586.1 1479.0L587.5 1479.3L588.9 1479.6L590.2 1479.9L591.6 1480.2L593.0 1480.5L594.3 1480.8L595.7 1481.0L597.0 1481.3L598.4 1481.6L599.8 1481.9L601.1 1482.1L602.5 1482.4L603.9 1482.7L605.2 1482.9L606.6 1483.2L608.0 1483.5L609.3 1483.7L610.7 1484.0L612.1 1484.3L613.4 1484.5L614.8 1484.8L616.2 1485.0L617.5 1485.3L618.9 1485.5L620.2 1485.8L621.6 1486.0L623.0 1486.3L624.3 1486.5L625.7 1486.7L627.1 1487.0L628.4 1487.2L629.8 1487.4L631.2 1487.7L632.5 1487.9L633.9 1488.1L635.3 1488.3L636.6 1488.6L638.0 1488.8L639.4 1489.0L640.7 1489.2L642.1 1489.4L643.4 1489.6L644.8 1489.8L646.2 1490.0L647.5 1490.2L648.9 1490.4L650.3 1490.6L651.6 1490.8L653.0 1491.0L654.4 1491.2L655.7 1491.4L657.1 1491.6L658.5 1491.7L659.8 1491.9L661.2 1492.1L662.6 1492.3L663.9 1492.4L665.3 1492.6L666.6 1492.7L668.0 1492.9L669.4 1493.1L670.7 1493.2L672.1 1493.4L673.5 1493.5L674.8 1493.7L676.2 1493.8L677.6 1494.0L678.9 1494.1L680.3 1494.3L681.7 1494.4L683.0 1494.6L684.4 1494.7L685.8 1494.9L687.1 1495.0L688.5 1495.1L689.8 1495.3L691.2 1495.4L692.6 1495.6L693.9 1495.7L695.3 1495.8L696.7 1496.0L698.0 1496.1L699.4 1496.2L700.8 1496.4L702.1 1496.5L703.5 1496.6L704.9 1496.8L706.2 1496.9L707.6 1497.0L709.0 1497.2L710.3 1497.3L711.7 1497.4L713.0 1497.6L714.4 1497.7L715.8 1497.8L717.1 1498.0L718.5 1498.1L719.9 1498.2L721.2 1498.4L722.6 1498.5L724.0 1498.6L725.3 1498.8L726.7 1498.9L728.1 1499.0L729.4 1499.2L730.8 1499.3L732.2 1499.4L733.5 1499.5L734.9 1499.7L736.2 1499.8L737.6 1499.9L739.0 1500.0L740.3 1500.2L741.7 1500.3L743.1 1500.4L744.4 1500.5L745.8 1500.6L747.2 1500.8L748.5 1500.9L749.9 1501.0L751.3 1501.1L752.6 1501.2L754.0 1501.3L755.4 1501.4L756.7 1501.5L758.1 1501.6L759.5 1501.7L760.8 1501.8L762.2 1501.9L763.5 1502.0L764.9 1502.1L766.3 1502.2L767.6 1502.3L769.0 1502.4L770.4 1502.5L771.7 1502.6L773.1 1502.6L774.5 1502.7L775.8 1502.8L777.2 1502.9L778.6 1502.9L779.9 1503.0L781.3 1503.1L782.7 1503.2L784.0 1503.2L785.4 1503.3L786.7 1503.4L788.1 1503.4L789.5 1503.5L790.8 1503.6L792.2 1503.6L793.6 1503.7L794.9 1503.8L796.3 1503.8L797.7 1503.9L799.0 1504.0L800.4 1504.0L801.8 1504.1L803.1 1504.1L804.5 1504.2L805.9 1504.3L807.2 1504.3L808.6 1504.4L809.9 1504.4L811.3 1504.5L812.7 1504.6L814.0 1504.6L815.4 1504.7L816.8 1504.8L818.1 1504.8L819.5 1504.9L820.9 1504.9L822.2 1505.0L823.6 1505.1L825.0 1505.1L826.3 1505.2L827.7 1505.3L829.1 1505.3L830.4 1505.4L831.8 1505.5L833.1 1505.5L834.5 1505.6L835.9 1505.7L837.2 1505.7L838.6 1505.8L840.0 1505.8L841.3 1505.9L842.7 1506.0L844.1 1506.0L845.4 1506.1L846.8 1506.2L848.2 1506.2L849.5 1506.3L850.9 1506.4L852.3 1506.4L853.6 1506.5L855.0 1506.5L856.3 1506.6L857.7 1506.7L859.1 1506.7L860.4 1506.8L861.8 1506.8L863.2 1506.9L864.5 1506.9L865.9 1507.0L867.3 1507.0L868.6 1507.1L870.0 1507.2L871.4 1507.2L872.7 1507.3L874.1 1507.3L875.5 1507.4L876.8 1507.4L878.2 1507.4L879.5 1507.5L880.9 1507.5L882.3 1507.6L883.6 1507.6L885.0 1507.7L886.4 1507.7L887.7 1507.8L889.1 1507.8L890.5 1507.8L891.8 1507.9L893.2 1507.9L894.6 1507.9L895.9 1508.0L897.3 1508.0L898.7 1508.1L900.0 1508.1L901.4 1508.1L902.7 1508.2L904.1 1508.2L905.5 1508.2L906.8 1508.3L908.2 1508.3L909.6 1508.3L910.9 1508.4L912.3 1508.4L913.7 1508.4L915.0 1508.5L916.4 1508.5L917.8 1508.5L919.1 1508.6L920.5 1508.6L921.9 1508.6L923.2 1508.6L924.6 1508.7L926.0 1508.7" fill="none" stroke="#ff0000" stroke-width="2.45" stroke-linejoin="round"/>
<circle cx="161.69" cy="1509.65" r="5.70" fill="#fff" stroke="#ff0000" stroke-width="1.30"/>
<circle cx="216.28" cy="1468.97" r="5.70" fill="#fff" stroke="#ff0000" stroke-width="1.30"/>
<circle cx="270.87" cy="1160.98" r="5.70" fill="#fff" stroke="#ff0000" stroke-width="1.30"/>
<circle cx="325.46" cy="1345.02" r="5.70" fill="#fff" stroke="#ff0000" stroke-width="1.30"/>
<circle cx="380.05" cy="1351.61" r="5.70" fill="#fff" stroke="#ff0000" stroke-width="1.30"/>
<circle cx="434.64" cy="1406.43" r="5.70" fill="#fff" stroke="#ff0000" stroke-width="1.30"/>
<circle cx="489.23" cy="1448.43" r="5.70" fill="#fff" stroke="#ff0000" stroke-width="1.30"/>
<circle cx="543.82" cy="1468.59" r="5.70" fill="#fff" stroke="#ff0000" stroke-width="1.30"/>
<circle cx="598.41" cy="1481.59" r="5.70" fill="#fff" stroke="#ff0000" stroke-width="1.30"/>
<circle cx="653.00" cy="1491.00" r="5.70" fill="#fff" stroke="#ff0000" stroke-width="1.30"/>
<circle cx="707.59" cy="1497.03" r="5.70" fill="#fff" stroke="#ff0000" stroke-width="1.30"/>
<circle cx="762.18" cy="1501.93" r="5.70" fill="#fff" stroke="#ff0000" stroke-width="1.30"/>
<circle cx="816.77" cy="1504.76" r="5.70" fill="#fff" stroke="#ff0000" stroke-width="1.30"/>
<circle cx="871.36" cy="1507.20" r="5.70" fill="#fff" stroke="#ff0000" stroke-width="1.30"/>
<circle cx="925.95" cy="1508.71" r="5.70" fill="#fff" stroke="#ff0000" stroke-width="1.30"/>
<path d="M161.7 1517.0L163.1 1521.9L164.4 1526.8L165.8 1531.7L167.1 1536.5L168.5 1541.2L169.9 1545.9L171.2 1550.3L172.6 1554.7L174.0 1558.8L175.3 1562.8L176.7 1566.6L178.1 1570.1L179.4 1573.4L180.8 1576.3L182.2 1579.0L183.5 1581.4L184.9 1583.4L186.3 1585.1L187.6 1586.3L189.0 1587.2L190.3 1587.6L191.7 1587.6L193.1 1587.1L194.4 1586.1L195.8 1584.7L197.2 1582.6L198.5 1580.0L199.9 1576.9L201.3 1573.1L202.6 1568.7L204.0 1563.7L205.4 1558.0L206.7 1551.6L208.1 1544.5L209.5 1536.7L210.8 1528.1L212.2 1518.8L213.6 1508.6L214.9 1497.7L216.3 1485.9L217.6 1473.3L219.0 1459.9L220.4 1445.7L221.7 1430.8L223.1 1415.3L224.5 1399.2L225.8 1382.6L227.2 1365.5L228.6 1348.0L229.9 1330.1L231.3 1311.9L232.7 1293.5L234.0 1274.8L235.4 1256.0L236.8 1237.2L238.1 1218.2L239.5 1199.3L240.8 1180.5L242.2 1161.8L243.6 1143.3L244.9 1125.1L246.3 1107.1L247.7 1089.5L249.0 1072.2L250.4 1055.5L251.8 1039.2L253.1 1023.5L254.5 1008.5L255.9 994.1L257.2 980.4L258.6 967.5L260.0 955.5L261.3 944.4L262.7 934.2L264.0 925.0L265.4 916.9L266.8 909.9L268.1 904.1L269.5 899.5L270.9 896.1L272.2 894.1L273.6 893.4L275.0 893.9L276.3 895.6L277.7 898.4L279.1 902.3L280.4 907.2L281.8 913.1L283.2 919.9L284.5 927.5L285.9 936.0L287.2 945.3L288.6 955.2L290.0 965.9L291.3 977.1L292.7 988.9L294.1 1001.2L295.4 1014.0L296.8 1027.2L298.2 1040.7L299.5 1054.5L300.9 1068.6L302.3 1082.8L303.6 1097.3L305.0 1111.8L306.4 1126.3L307.7 1140.8L309.1 1155.3L310.4 1169.7L311.8 1183.9L313.2 1197.9L314.5 1211.6L315.9 1225.0L317.3 1238.0L318.6 1250.6L320.0 1262.7L321.4 1274.3L322.7 1285.4L324.1 1295.7L325.5 1305.5L326.8 1314.4L328.2 1322.7L329.6 1330.3L330.9 1337.3L332.3 1343.5L333.6 1349.2L335.0 1354.3L336.4 1358.8L337.7 1362.8L339.1 1366.2L340.5 1369.2L341.8 1371.6L343.2 1373.7L344.6 1375.3L345.9 1376.4L347.3 1377.2L348.7 1377.7L350.0 1377.8L351.4 1377.6L352.8 1377.1L354.1 1376.4L355.5 1375.4L356.8 1374.1L358.2 1372.7L359.6 1371.2L360.9 1369.4L362.3 1367.6L363.7 1365.6L365.0 1363.6L366.4 1361.5L367.8 1359.4L369.1 1357.3L370.5 1355.2L371.9 1353.1L373.2 1351.2L374.6 1349.2L376.0 1347.4L377.3 1345.8L378.7 1344.3L380.1 1342.9L381.4 1341.8L382.8 1340.9L384.1 1340.1L385.5 1339.6L386.9 1339.2L388.2 1339.0L389.6 1339.0L391.0 1339.1L392.3 1339.4L393.7 1339.8L395.1 1340.4L396.4 1341.1L397.8 1341.9L399.2 1342.9L400.5 1343.9L401.9 1345.1L403.3 1346.4L404.6 1347.8L406.0 1349.3L407.3 1350.8L408.7 1352.5L410.1 1354.2L411.4 1355.9L412.8 1357.8L414.2 1359.6L415.5 1361.6L416.9 1363.6L418.3 1365.6L419.6 1367.6L421.0 1369.7L422.4 1371.7L423.7 1373.8L425.1 1375.9L426.5 1378.0L427.8 1380.0L429.2 1382.1L430.5 1384.1L431.9 1386.1L433.3 1388.1L434.6 1390.0L436.0 1391.9L437.4 1393.8L438.7 1395.5L440.1 1397.3L441.5 1399.0L442.8 1400.7L444.2 1402.3L445.6 1403.9L446.9 1405.4L448.3 1406.9L449.7 1408.4L451.0 1409.8L452.4 1411.2L453.7 1412.5L455.1 1413.9L456.5 1415.1L457.8 1416.4L459.2 1417.6L460.6 1418.8L461.9 1420.0L463.3 1421.2L464.7 1422.3L466.0 1423.4L467.4 1424.4L468.8 1425.5L470.1 1426.5L471.5 1427.5L472.9 1428.5L474.2 1429.4L475.6 1430.4L476.9 1431.3L478.3 1432.2L479.7 1433.1L481.0 1434.0L482.4 1434.9L483.8 1435.7L485.1 1436.5L486.5 1437.4L487.9 1438.2L489.2 1439.0L490.6 1439.8L492.0 1440.6L493.3 1441.4L494.7 1442.2L496.1 1443.0L497.4 1443.7L498.8 1444.5L500.1 1445.3L501.5 1446.0L502.9 1446.7L504.2 1447.5L505.6 1448.2L507.0 1448.9L508.3 1449.6L509.7 1450.3L511.1 1451.0L512.4 1451.7L513.8 1452.4L515.2 1453.0L516.5 1453.7L517.9 1454.3L519.3 1455.0L520.6 1455.6L522.0 1456.2L523.3 1456.8L524.7 1457.4L526.1 1458.0L527.4 1458.6L528.8 1459.2L530.2 1459.8L531.5 1460.3L532.9 1460.9L534.3 1461.4L535.6 1462.0L537.0 1462.5L538.4 1463.0L539.7 1463.5L541.1 1464.0L542.5 1464.5L543.8 1465.0L545.2 1465.5L546.5 1465.9L547.9 1466.4L549.3 1466.8L550.6 1467.3L552.0 1467.7L553.4 1468.1L554.7 1468.5L556.1 1469.0L557.5 1469.4L558.8 1469.7L560.2 1470.1L561.6 1470.5L562.9 1470.9L564.3 1471.2L565.7 1471.6L567.0 1472.0L568.4 1472.3L569.8 1472.6L571.1 1473.0L572.5 1473.3L573.8 1473.6L575.2 1474.0L576.6 1474.3L577.9 1474.6L579.3 1474.9L580.7 1475.2L582.0 1475.5L583.4 1475.8L584.8 1476.1L586.1 1476.4L587.5 1476.7L588.9 1477.0L590.2 1477.3L591.6 1477.6L593.0 1477.8L594.3 1478.1L595.7 1478.4L597.0 1478.7L598.4 1478.9L599.8 1479.2L601.1 1479.5L602.5 1479.8L603.9 1480.0L605.2 1480.3L606.6 1480.6L608.0 1480.9L609.3 1481.1L610.7 1481.4L612.1 1481.7L613.4 1481.9L614.8 1482.2L616.2 1482.4L617.5 1482.7L618.9 1483.0L620.2 1483.2L621.6 1483.5L623.0 1483.7L624.3 1484.0L625.7 1484.2L627.1 1484.5L628.4 1484.7L629.8 1485.0L631.2 1485.2L632.5 1485.5L633.9 1485.7L635.3 1485.9L636.6 1486.2L638.0 1486.4L639.4 1486.6L640.7 1486.8L642.1 1487.1L643.4 1487.3L644.8 1487.5L646.2 1487.7L647.5 1487.9L648.9 1488.1L650.3 1488.3L651.6 1488.5L653.0 1488.7L654.4 1488.9L655.7 1489.1L657.1 1489.3L658.5 1489.5L659.8 1489.7L661.2 1489.9L662.6 1490.1L663.9 1490.2L665.3 1490.4L666.6 1490.6L668.0 1490.8L669.4 1490.9L670.7 1491.1L672.1 1491.3L673.5 1491.4L674.8 1491.6L676.2 1491.8L677.6 1491.9L678.9 1492.1L680.3 1492.2L681.7 1492.4L683.0 1492.5L684.4 1492.7L685.8 1492.8L687.1 1493.0L688.5 1493.1L689.8 1493.3L691.2 1493.4L692.6 1493.6L693.9 1493.7L695.3 1493.9L696.7 1494.0L698.0 1494.1L699.4 1494.3L700.8 1494.4L702.1 1494.6L703.5 1494.7L704.9 1494.9L706.2 1495.0L707.6 1495.1L709.0 1495.3L710.3 1495.4L711.7 1495.6L713.0 1495.7L714.4 1495.9L715.8 1496.0L717.1 1496.2L718.5 1496.3L719.9 1496.4L721.2 1496.6L722.6 1496.7L724.0 1496.9L725.3 1497.0L726.7 1497.2L728.1 1497.3L729.4 1497.4L730.8 1497.6L732.2 1497.7L733.5 1497.9L734.9 1498.0L736.2 1498.1L737.6 1498.3L739.0 1498.4L740.3 1498.5L741.7 1498.7L743.1 1498.8L744.4 1498.9L745.8 1499.0L747.2 1499.2L748.5 1499.3L749.9 1499.4L751.3 1499.5L752.6 1499.7L754.0 1499.8L755.4 1499.9L756.7 1500.0L758.1 1500.1L759.5 1500.2L760.8 1500.3L762.2 1500.4L763.5 1500.5L764.9 1500.6L766.3 1500.7L767.6 1500.8L769.0 1500.9L770.4 1501.0L771.7 1501.1L773.1 1501.2L774.5 1501.3L775.8 1501.3L777.2 1501.4L778.6 1501.5L779.9 1501.6L781.3 1501.7L782.7 1501.7L784.0 1501.8L785.4 1501.9L786.7 1502.0L788.1 1502.0L789.5 1502.1L790.8 1502.2L792.2 1502.2L793.6 1502.3L794.9 1502.4L796.3 1502.5L797.7 1502.5L799.0 1502.6L800.4 1502.7L801.8 1502.7L803.1 1502.8L804.5 1502.8L805.9 1502.9L807.2 1503.0L808.6 1503.0L809.9 1503.1L811.3 1503.2L812.7 1503.2L814.0 1503.3L815.4 1503.4L816.8 1503.4L818.1 1503.5L819.5 1503.6L820.9 1503.6L822.2 1503.7L823.6 1503.8L825.0 1503.8L826.3 1503.9L827.7 1504.0L829.1 1504.1L830.4 1504.1L831.8 1504.2L833.1 1504.3L834.5 1504.3L835.9 1504.4L837.2 1504.5L838.6 1504.5L840.0 1504.6L841.3 1504.7L842.7 1504.8L844.1 1504.8L845.4 1504.9L846.8 1505.0L848.2 1505.0L849.5 1505.1L850.9 1505.2L852.3 1505.2L853.6 1505.3L855.0 1505.4L856.3 1505.4L857.7 1505.5L859.1 1505.5L860.4 1505.6L861.8 1505.7L863.2 1505.7L864.5 1505.8L865.9 1505.9L867.3 1505.9L868.6 1506.0L870.0 1506.0L871.4 1506.1L872.7 1506.1L874.1 1506.2L875.5 1506.2L876.8 1506.3L878.2 1506.3L879.5 1506.4L880.9 1506.4L882.3 1506.5L883.6 1506.5L885.0 1506.6L886.4 1506.6L887.7 1506.6L889.1 1506.7L890.5 1506.7L891.8 1506.8L893.2 1506.8L894.6 1506.8L895.9 1506.9L897.3 1506.9L898.7 1506.9L900.0 1507.0L901.4 1507.0L902.7 1507.1L904.1 1507.1L905.5 1507.1L906.8 1507.2L908.2 1507.2L909.6 1507.2L910.9 1507.2L912.3 1507.3L913.7 1507.3L915.0 1507.3L916.4 1507.4L917.8 1507.4L919.1 1507.4L920.5 1507.5L921.9 1507.5L923.2 1507.5L924.6 1507.6L926.0 1507.6" fill="none" stroke="#0000ff" stroke-width="2.45" stroke-linejoin="round"/>
<path d="M154.59 1517.00L161.69 1509.90L168.79 1517.00L161.69 1524.10Z" fill="#fff" stroke="#0000ff" stroke-width="1.40"/>
<path d="M209.18 1485.92L216.28 1478.82L223.38 1485.92L216.28 1493.02Z" fill="#fff" stroke="#0000ff" stroke-width="1.40"/>
<path d="M263.77 896.13L270.87 889.03L277.97 896.13L270.87 903.23Z" fill="#fff" stroke="#0000ff" stroke-width="1.40"/>
<path d="M318.36 1305.46L325.46 1298.36L332.56 1305.46L325.46 1312.56Z" fill="#fff" stroke="#0000ff" stroke-width="1.40"/>
<path d="M372.95 1342.94L380.05 1335.84L387.15 1342.94L380.05 1350.04Z" fill="#fff" stroke="#0000ff" stroke-width="1.40"/>
<path d="M427.54 1390.04L434.64 1382.94L441.74 1390.04L434.64 1397.14Z" fill="#fff" stroke="#0000ff" stroke-width="1.40"/>
<path d="M482.13 1439.01L489.23 1431.91L496.33 1439.01L489.23 1446.11Z" fill="#fff" stroke="#0000ff" stroke-width="1.40"/>
<path d="M536.72 1465.01L543.82 1457.91L550.92 1465.01L543.82 1472.11Z" fill="#fff" stroke="#0000ff" stroke-width="1.40"/>
<path d="M591.31 1478.95L598.41 1471.85L605.51 1478.95L598.41 1486.05Z" fill="#fff" stroke="#0000ff" stroke-width="1.40"/>
<path d="M645.90 1488.74L653.00 1481.64L660.10 1488.74L653.00 1495.84Z" fill="#fff" stroke="#0000ff" stroke-width="1.40"/>
<path d="M700.49 1495.15L707.59 1488.05L714.69 1495.15L707.59 1502.25Z" fill="#fff" stroke="#0000ff" stroke-width="1.40"/>
<path d="M755.08 1500.42L762.18 1493.32L769.28 1500.42L762.18 1507.52Z" fill="#fff" stroke="#0000ff" stroke-width="1.40"/>
<path d="M809.67 1503.44L816.77 1496.34L823.87 1503.44L816.77 1510.54Z" fill="#fff" stroke="#0000ff" stroke-width="1.40"/>
<path d="M864.26 1506.07L871.36 1498.97L878.46 1506.07L871.36 1513.17Z" fill="#fff" stroke="#0000ff" stroke-width="1.40"/>
<path d="M918.85 1507.58L925.95 1500.48L933.05 1507.58L925.95 1514.68Z" fill="#fff" stroke="#0000ff" stroke-width="1.40"/>
<path d="M161.7 1515.1L163.1 1517.2L164.4 1519.3L165.8 1521.4L167.1 1523.4L168.5 1525.4L169.9 1527.3L171.2 1529.2L172.6 1531.1L174.0 1532.8L175.3 1534.5L176.7 1536.0L178.1 1537.5L179.4 1538.8L180.8 1540.1L182.2 1541.2L183.5 1542.1L184.9 1542.9L186.3 1543.5L187.6 1544.0L189.0 1544.3L190.3 1544.3L191.7 1544.2L193.1 1543.9L194.4 1543.3L195.8 1542.6L197.2 1541.5L198.5 1540.3L199.9 1538.8L201.3 1537.0L202.6 1534.9L204.0 1532.5L205.4 1529.9L206.7 1526.9L208.1 1523.7L209.5 1520.1L210.8 1516.1L212.2 1511.8L213.6 1507.2L214.9 1502.2L216.3 1496.8L217.6 1491.1L219.0 1485.0L220.4 1478.5L221.7 1471.8L223.1 1464.7L224.5 1457.4L225.8 1449.8L227.2 1442.0L228.6 1434.0L229.9 1425.8L231.3 1417.5L232.7 1409.0L234.0 1400.4L235.4 1391.7L236.8 1382.9L238.1 1374.1L239.5 1365.3L240.8 1356.4L242.2 1347.6L243.6 1338.8L244.9 1330.1L246.3 1321.5L247.7 1313.0L249.0 1304.6L250.4 1296.3L251.8 1288.3L253.1 1280.4L254.5 1272.7L255.9 1265.3L257.2 1258.2L258.6 1251.3L260.0 1244.8L261.3 1238.6L262.7 1232.7L264.0 1227.2L265.4 1222.1L266.8 1217.5L268.1 1213.2L269.5 1209.5L270.9 1206.2L272.2 1203.4L273.6 1201.1L275.0 1199.3L276.3 1198.0L277.7 1197.1L279.1 1196.6L280.4 1196.5L281.8 1196.8L283.2 1197.5L284.5 1198.6L285.9 1199.9L287.2 1201.6L288.6 1203.6L290.0 1205.9L291.3 1208.5L292.7 1211.3L294.1 1214.4L295.4 1217.6L296.8 1221.1L298.2 1224.8L299.5 1228.6L300.9 1232.6L302.3 1236.7L303.6 1240.9L305.0 1245.2L306.4 1249.6L307.7 1254.1L309.1 1258.6L310.4 1263.2L311.8 1267.7L313.2 1272.3L314.5 1276.8L315.9 1281.3L317.3 1285.8L318.6 1290.2L320.0 1294.4L321.4 1298.6L322.7 1302.7L324.1 1306.6L325.5 1310.4L326.8 1313.9L328.2 1317.4L329.6 1320.6L330.9 1323.7L332.3 1326.7L333.6 1329.4L335.0 1332.1L336.4 1334.6L337.7 1337.0L339.1 1339.2L340.5 1341.3L341.8 1343.3L343.2 1345.2L344.6 1347.0L345.9 1348.7L347.3 1350.2L348.7 1351.7L350.0 1353.1L351.4 1354.4L352.8 1355.6L354.1 1356.7L355.5 1357.8L356.8 1358.8L358.2 1359.8L359.6 1360.7L360.9 1361.5L362.3 1362.3L363.7 1363.1L365.0 1363.8L366.4 1364.5L367.8 1365.1L369.1 1365.8L370.5 1366.4L371.9 1367.0L373.2 1367.7L374.6 1368.3L376.0 1368.9L377.3 1369.5L378.7 1370.2L380.1 1370.8L381.4 1371.5L382.8 1372.2L384.1 1373.0L385.5 1373.7L386.9 1374.5L388.2 1375.3L389.6 1376.1L391.0 1376.9L392.3 1377.8L393.7 1378.7L395.1 1379.6L396.4 1380.5L397.8 1381.4L399.2 1382.3L400.5 1383.3L401.9 1384.3L403.3 1385.2L404.6 1386.2L406.0 1387.2L407.3 1388.3L408.7 1389.3L410.1 1390.3L411.4 1391.4L412.8 1392.4L414.2 1393.5L415.5 1394.6L416.9 1395.7L418.3 1396.7L419.6 1397.8L421.0 1398.9L422.4 1400.0L423.7 1401.1L425.1 1402.2L426.5 1403.4L427.8 1404.5L429.2 1405.6L430.5 1406.7L431.9 1407.8L433.3 1408.9L434.6 1410.0L436.0 1411.1L437.4 1412.2L438.7 1413.3L440.1 1414.4L441.5 1415.5L442.8 1416.6L444.2 1417.6L445.6 1418.7L446.9 1419.8L448.3 1420.9L449.7 1421.9L451.0 1423.0L452.4 1424.0L453.7 1425.0L455.1 1426.1L456.5 1427.1L457.8 1428.1L459.2 1429.1L460.6 1430.1L461.9 1431.1L463.3 1432.1L464.7 1433.0L466.0 1434.0L467.4 1434.9L468.8 1435.9L470.1 1436.8L471.5 1437.7L472.9 1438.6L474.2 1439.5L475.6 1440.4L476.9 1441.3L478.3 1442.1L479.7 1443.0L481.0 1443.8L482.4 1444.6L483.8 1445.4L485.1 1446.2L486.5 1446.9L487.9 1447.7L489.2 1448.4L490.6 1449.2L492.0 1449.9L493.3 1450.6L494.7 1451.2L496.1 1451.9L497.4 1452.5L498.8 1453.2L500.1 1453.8L501.5 1454.4L502.9 1455.0L504.2 1455.6L505.6 1456.2L507.0 1456.7L508.3 1457.3L509.7 1457.8L511.1 1458.3L512.4 1458.8L513.8 1459.3L515.2 1459.8L516.5 1460.3L517.9 1460.8L519.3 1461.3L520.6 1461.7L522.0 1462.2L523.3 1462.6L524.7 1463.1L526.1 1463.5L527.4 1463.9L528.8 1464.3L530.2 1464.7L531.5 1465.1L532.9 1465.5L534.3 1465.9L535.6 1466.3L537.0 1466.7L538.4 1467.1L539.7 1467.5L541.1 1467.8L542.5 1468.2L543.8 1468.6L545.2 1469.0L546.5 1469.3L547.9 1469.7L549.3 1470.0L550.6 1470.4L552.0 1470.8L553.4 1471.1L554.7 1471.5L556.1 1471.8L557.5 1472.2L558.8 1472.5L560.2 1472.9L561.6 1473.2L562.9 1473.5L564.3 1473.9L565.7 1474.2L567.0 1474.5L568.4 1474.9L569.8 1475.2L571.1 1475.5L572.5 1475.8L573.8 1476.2L575.2 1476.5L576.6 1476.8L577.9 1477.1L579.3 1477.4L580.7 1477.7L582.0 1478.1L583.4 1478.4L584.8 1478.7L586.1 1479.0L587.5 1479.3L588.9 1479.6L590.2 1479.9L591.6 1480.2L593.0 1480.4L594.3 1480.7L595.7 1481.0L597.0 1481.3L598.4 1481.6L599.8 1481.9L601.1 1482.1L602.5 1482.4L603.9 1482.7L605.2 1483.0L606.6 1483.2L608.0 1483.5L609.3 1483.8L610.7 1484.0L612.1 1484.3L613.4 1484.6L614.8 1484.8L616.2 1485.1L617.5 1485.3L618.9 1485.6L620.2 1485.8L621.6 1486.1L623.0 1486.3L624.3 1486.5L625.7 1486.8L627.1 1487.0L628.4 1487.2L629.8 1487.5L631.2 1487.7L632.5 1487.9L633.9 1488.2L635.3 1488.4L636.6 1488.6L638.0 1488.8L639.4 1489.0L640.7 1489.2L642.1 1489.4L643.4 1489.6L644.8 1489.8L646.2 1490.0L647.5 1490.2L648.9 1490.4L650.3 1490.6L651.6 1490.8L653.0 1491.0L654.4 1491.2L655.7 1491.4L657.1 1491.5L658.5 1491.7L659.8 1491.9L661.2 1492.1L662.6 1492.2L663.9 1492.4L665.3 1492.6L666.6 1492.7L668.0 1492.9L669.4 1493.1L670.7 1493.2L672.1 1493.4L673.5 1493.5L674.8 1493.7L676.2 1493.8L677.6 1494.0L678.9 1494.1L680.3 1494.3L681.7 1494.4L683.0 1494.6L684.4 1494.7L685.8 1494.8L687.1 1495.0L688.5 1495.1L689.8 1495.3L691.2 1495.4L692.6 1495.5L693.9 1495.7L695.3 1495.8L696.7 1496.0L698.0 1496.1L699.4 1496.2L700.8 1496.4L702.1 1496.5L703.5 1496.6L704.9 1496.8L706.2 1496.9L707.6 1497.0L709.0 1497.2L710.3 1497.3L711.7 1497.4L713.0 1497.6L714.4 1497.7L715.8 1497.8L717.1 1498.0L718.5 1498.1L719.9 1498.2L721.2 1498.4L722.6 1498.5L724.0 1498.6L725.3 1498.8L726.7 1498.9L728.1 1499.0L729.4 1499.2L730.8 1499.3L732.2 1499.4L733.5 1499.5L734.9 1499.7L736.2 1499.8L737.6 1499.9L739.0 1500.1L740.3 1500.2L741.7 1500.3L743.1 1500.4L744.4 1500.5L745.8 1500.6L747.2 1500.8L748.5 1500.9L749.9 1501.0L751.3 1501.1L752.6 1501.2L754.0 1501.3L755.4 1501.4L756.7 1501.5L758.1 1501.6L759.5 1501.7L760.8 1501.8L762.2 1501.9L763.5 1502.0L764.9 1502.1L766.3 1502.2L767.6 1502.3L769.0 1502.4L770.4 1502.5L771.7 1502.6L773.1 1502.6L774.5 1502.7L775.8 1502.8L777.2 1502.9L778.6 1502.9L779.9 1503.0L781.3 1503.1L782.7 1503.2L784.0 1503.2L785.4 1503.3L786.7 1503.4L788.1 1503.4L789.5 1503.5L790.8 1503.6L792.2 1503.6L793.6 1503.7L794.9 1503.8L796.3 1503.8L797.7 1503.9L799.0 1504.0L800.4 1504.0L801.8 1504.1L803.1 1504.1L804.5 1504.2L805.9 1504.3L807.2 1504.3L808.6 1504.4L809.9 1504.4L811.3 1504.5L812.7 1504.6L814.0 1504.6L815.4 1504.7L816.8 1504.8L818.1 1504.8L819.5 1504.9L820.9 1504.9L822.2 1505.0L823.6 1505.1L825.0 1505.1L826.3 1505.2L827.7 1505.3L829.1 1505.3L830.4 1505.4L831.8 1505.5L833.1 1505.5L834.5 1505.6L835.9 1505.7L837.2 1505.7L838.6 1505.8L840.0 1505.8L841.3 1505.9L842.7 1506.0L844.1 1506.0L845.4 1506.1L846.8 1506.2L848.2 1506.2L849.5 1506.3L850.9 1506.4L852.3 1506.4L853.6 1506.5L855.0 1506.5L856.3 1506.6L857.7 1506.7L859.1 1506.7L860.4 1506.8L861.8 1506.8L863.2 1506.9L864.5 1506.9L865.9 1507.0L867.3 1507.0L868.6 1507.1L870.0 1507.2L871.4 1507.2L872.7 1507.3L874.1 1507.3L875.5 1507.4L876.8 1507.4L878.2 1507.4L879.5 1507.5L880.9 1507.5L882.3 1507.6L883.6 1507.6L885.0 1507.7L886.4 1507.7L887.7 1507.8L889.1 1507.8L890.5 1507.8L891.8 1507.9L893.2 1507.9L894.6 1507.9L895.9 1508.0L897.3 1508.0L898.7 1508.1L900.0 1508.1L901.4 1508.1L902.7 1508.2L904.1 1508.2L905.5 1508.2L906.8 1508.3L908.2 1508.3L909.6 1508.3L910.9 1508.4L912.3 1508.4L913.7 1508.4L915.0 1508.5L916.4 1508.5L917.8 1508.5L919.1 1508.6L920.5 1508.6L921.9 1508.6L923.2 1508.6L924.6 1508.7L926.0 1508.7" fill="none" stroke="#ff00ff" stroke-width="2.45" stroke-linejoin="round" stroke-dasharray="10.3 15.2" stroke-linecap="round"/>
<path d="M153.69 1519.74L169.69 1519.74L161.69 1505.88Z" fill="#ff00ff"/>
<path d="M208.28 1501.46L224.28 1501.46L216.28 1487.60Z" fill="#ff00ff"/>
<path d="M262.87 1210.81L278.87 1210.81L270.87 1196.95Z" fill="#ff00ff"/>
<path d="M317.46 1314.98L333.46 1314.98L325.46 1301.12Z" fill="#ff00ff"/>
<path d="M372.05 1375.44L388.05 1375.44L380.05 1361.58Z" fill="#ff00ff"/>
<path d="M426.64 1414.63L442.64 1414.63L434.64 1400.77Z" fill="#ff00ff"/>
<path d="M481.23 1453.05L497.23 1453.05L489.23 1439.19Z" fill="#ff00ff"/>
<path d="M535.82 1473.21L551.82 1473.21L543.82 1459.35Z" fill="#ff00ff"/>
<path d="M590.41 1486.21L606.41 1486.21L598.41 1472.35Z" fill="#ff00ff"/>
<path d="M645.00 1495.62L661.00 1495.62L653.00 1481.76Z" fill="#ff00ff"/>
<path d="M699.59 1501.65L715.59 1501.65L707.59 1487.79Z" fill="#ff00ff"/>
<path d="M754.18 1506.55L770.18 1506.55L762.18 1492.69Z" fill="#ff00ff"/>
<path d="M808.77 1509.38L824.77 1509.38L816.77 1495.52Z" fill="#ff00ff"/>
<path d="M863.36 1511.82L879.36 1511.82L871.36 1497.96Z" fill="#ff00ff"/>
<path d="M917.95 1513.33L933.95 1513.33L925.95 1499.47Z" fill="#ff00ff"/>
<path d="M161.7 1505.9L163.1 1508.8L164.4 1511.7L165.8 1514.6L167.1 1517.4L168.5 1520.2L169.9 1522.9L171.2 1525.6L172.6 1528.2L174.0 1530.6L175.3 1533.0L176.7 1535.2L178.1 1537.3L179.4 1539.3L180.8 1541.1L182.2 1542.7L183.5 1544.2L184.9 1545.4L186.3 1546.5L187.6 1547.3L189.0 1547.9L190.3 1548.2L191.7 1548.3L193.1 1548.1L194.4 1547.7L195.8 1546.9L197.2 1545.9L198.5 1544.5L199.9 1542.8L201.3 1540.7L202.6 1538.3L204.0 1535.6L205.4 1532.4L206.7 1528.9L208.1 1524.9L209.5 1520.6L210.8 1515.8L212.2 1510.6L213.6 1504.9L214.9 1498.8L216.3 1492.1L217.6 1485.0L219.0 1477.5L220.4 1469.5L221.7 1461.1L223.1 1452.4L224.5 1443.3L225.8 1433.9L227.2 1424.3L228.6 1414.4L229.9 1404.3L231.3 1394.1L232.7 1383.7L234.0 1373.2L235.4 1362.6L236.8 1351.9L238.1 1341.3L239.5 1330.6L240.8 1320.0L242.2 1309.5L243.6 1299.0L244.9 1288.8L246.3 1278.7L247.7 1268.7L249.0 1259.1L250.4 1249.7L251.8 1240.5L253.1 1231.7L254.5 1223.3L255.9 1215.3L257.2 1207.7L258.6 1200.5L260.0 1193.8L261.3 1187.6L262.7 1182.0L264.0 1177.0L265.4 1172.5L266.8 1168.8L268.1 1165.6L269.5 1163.2L270.9 1161.5L272.2 1160.6L273.6 1160.4L275.0 1160.9L276.3 1162.1L277.7 1163.9L279.1 1166.4L280.4 1169.3L281.8 1172.9L283.2 1176.9L284.5 1181.4L285.9 1186.3L287.2 1191.7L288.6 1197.4L290.0 1203.5L291.3 1209.9L292.7 1216.5L294.1 1223.4L295.4 1230.5L296.8 1237.8L298.2 1245.2L299.5 1252.7L300.9 1260.3L302.3 1268.0L303.6 1275.7L305.0 1283.3L306.4 1290.9L307.7 1298.5L309.1 1305.9L310.4 1313.1L311.8 1320.2L313.2 1327.0L314.5 1333.6L315.9 1340.0L317.3 1346.0L318.6 1351.7L320.0 1356.9L321.4 1361.8L322.7 1366.2L324.1 1370.2L325.5 1373.6L326.8 1376.6L328.2 1379.0L329.6 1380.8L330.9 1382.3L332.3 1383.2L333.6 1383.7L335.0 1383.8L336.4 1383.6L337.7 1382.9L339.1 1381.9L340.5 1380.6L341.8 1378.9L343.2 1377.0L344.6 1374.8L345.9 1372.4L347.3 1369.7L348.7 1366.9L350.0 1363.8L351.4 1360.7L352.8 1357.3L354.1 1353.9L355.5 1350.4L356.8 1346.8L358.2 1343.1L359.6 1339.5L360.9 1335.8L362.3 1332.1L363.7 1328.5L365.0 1324.9L366.4 1321.4L367.8 1318.1L369.1 1314.8L370.5 1311.7L371.9 1308.7L373.2 1305.9L374.6 1303.4L376.0 1301.1L377.3 1299.0L378.7 1297.2L380.1 1295.7L381.4 1294.5L382.8 1293.6L384.1 1293.0L385.5 1292.7L386.9 1292.6L388.2 1292.8L389.6 1293.3L391.0 1294.0L392.3 1295.0L393.7 1296.1L395.1 1297.5L396.4 1299.1L397.8 1300.8L399.2 1302.8L400.5 1304.9L401.9 1307.2L403.3 1309.6L404.6 1312.1L406.0 1314.8L407.3 1317.6L408.7 1320.5L410.1 1323.5L411.4 1326.6L412.8 1329.8L414.2 1333.0L415.5 1336.2L416.9 1339.5L418.3 1342.9L419.6 1346.2L421.0 1349.6L422.4 1353.0L423.7 1356.3L425.1 1359.7L426.5 1363.0L427.8 1366.3L429.2 1369.5L430.5 1372.6L431.9 1375.7L433.3 1378.7L434.6 1381.6L436.0 1384.3L437.4 1387.0L438.7 1389.6L440.1 1392.1L441.5 1394.5L442.8 1396.8L444.2 1399.0L445.6 1401.1L446.9 1403.2L448.3 1405.1L449.7 1407.0L451.0 1408.8L452.4 1410.5L453.7 1412.2L455.1 1413.7L456.5 1415.2L457.8 1416.7L459.2 1418.1L460.6 1419.4L461.9 1420.7L463.3 1421.9L464.7 1423.1L466.0 1424.2L467.4 1425.3L468.8 1426.3L470.1 1427.3L471.5 1428.3L472.9 1429.2L474.2 1430.1L475.6 1430.9L476.9 1431.8L478.3 1432.6L479.7 1433.4L481.0 1434.1L482.4 1434.9L483.8 1435.6L485.1 1436.3L486.5 1437.0L487.9 1437.7L489.2 1438.4L490.6 1439.2L492.0 1439.9L493.3 1440.6L494.7 1441.3L496.1 1441.9L497.4 1442.6L498.8 1443.3L500.1 1444.0L501.5 1444.7L502.9 1445.4L504.2 1446.1L505.6 1446.8L507.0 1447.4L508.3 1448.1L509.7 1448.8L511.1 1449.5L512.4 1450.1L513.8 1450.8L515.2 1451.4L516.5 1452.1L517.9 1452.7L519.3 1453.4L520.6 1454.0L522.0 1454.7L523.3 1455.3L524.7 1455.9L526.1 1456.5L527.4 1457.2L528.8 1457.8L530.2 1458.4L531.5 1459.0L532.9 1459.6L534.3 1460.2L535.6 1460.7L537.0 1461.3L538.4 1461.9L539.7 1462.4L541.1 1463.0L542.5 1463.5L543.8 1464.1L545.2 1464.6L546.5 1465.1L547.9 1465.6L549.3 1466.1L550.6 1466.6L552.0 1467.1L553.4 1467.6L554.7 1468.1L556.1 1468.6L557.5 1469.1L558.8 1469.5L560.2 1470.0L561.6 1470.4L562.9 1470.9L564.3 1471.3L565.7 1471.7L567.0 1472.2L568.4 1472.6L569.8 1473.0L571.1 1473.4L572.5 1473.8L573.8 1474.2L575.2 1474.6L576.6 1475.0L577.9 1475.3L579.3 1475.7L580.7 1476.1L582.0 1476.4L583.4 1476.8L584.8 1477.2L586.1 1477.5L587.5 1477.9L588.9 1478.2L590.2 1478.5L591.6 1478.9L593.0 1479.2L594.3 1479.5L595.7 1479.8L597.0 1480.1L598.4 1480.5L599.8 1480.8L601.1 1481.1L602.5 1481.4L603.9 1481.7L605.2 1482.0L606.6 1482.2L608.0 1482.5L609.3 1482.8L610.7 1483.1L612.1 1483.4L613.4 1483.6L614.8 1483.9L616.2 1484.2L617.5 1484.4L618.9 1484.7L620.2 1484.9L621.6 1485.2L623.0 1485.4L624.3 1485.7L625.7 1485.9L627.1 1486.1L628.4 1486.4L629.8 1486.6L631.2 1486.8L632.5 1487.0L633.9 1487.3L635.3 1487.5L636.6 1487.7L638.0 1487.9L639.4 1488.1L640.7 1488.3L642.1 1488.5L643.4 1488.7L644.8 1488.9L646.2 1489.1L647.5 1489.3L648.9 1489.5L650.3 1489.7L651.6 1489.9L653.0 1490.1L654.4 1490.2L655.7 1490.4L657.1 1490.6L658.5 1490.8L659.8 1490.9L661.2 1491.1L662.6 1491.3L663.9 1491.4L665.3 1491.6L666.6 1491.8L668.0 1491.9L669.4 1492.1L670.7 1492.2L672.1 1492.4L673.5 1492.5L674.8 1492.7L676.2 1492.8L677.6 1493.0L678.9 1493.1L680.3 1493.3L681.7 1493.4L683.0 1493.6L684.4 1493.7L685.8 1493.8L687.1 1494.0L688.5 1494.1L689.8 1494.3L691.2 1494.4L692.6 1494.6L693.9 1494.7L695.3 1494.8L696.7 1495.0L698.0 1495.1L699.4 1495.2L700.8 1495.4L702.1 1495.5L703.5 1495.7L704.9 1495.8L706.2 1495.9L707.6 1496.1L709.0 1496.2L710.3 1496.4L711.7 1496.5L713.0 1496.7L714.4 1496.8L715.8 1496.9L717.1 1497.1L718.5 1497.2L719.9 1497.4L721.2 1497.5L722.6 1497.7L724.0 1497.8L725.3 1497.9L726.7 1498.1L728.1 1498.2L729.4 1498.4L730.8 1498.5L732.2 1498.7L733.5 1498.8L734.9 1498.9L736.2 1499.1L737.6 1499.2L739.0 1499.3L740.3 1499.5L741.7 1499.6L743.1 1499.7L744.4 1499.9L745.8 1500.0L747.2 1500.1L748.5 1500.2L749.9 1500.4L751.3 1500.5L752.6 1500.6L754.0 1500.7L755.4 1500.8L756.7 1500.9L758.1 1501.0L759.5 1501.2L760.8 1501.3L762.2 1501.4L763.5 1501.5L764.9 1501.6L766.3 1501.7L767.6 1501.8L769.0 1501.8L770.4 1501.9L771.7 1502.0L773.1 1502.1L774.5 1502.2L775.8 1502.3L777.2 1502.3L778.6 1502.4L779.9 1502.5L781.3 1502.6L782.7 1502.6L784.0 1502.7L785.4 1502.8L786.7 1502.8L788.1 1502.9L789.5 1503.0L790.8 1503.0L792.2 1503.1L793.6 1503.2L794.9 1503.2L796.3 1503.3L797.7 1503.4L799.0 1503.4L800.4 1503.5L801.8 1503.5L803.1 1503.6L804.5 1503.7L805.9 1503.7L807.2 1503.8L808.6 1503.8L809.9 1503.9L811.3 1504.0L812.7 1504.0L814.0 1504.1L815.4 1504.1L816.8 1504.2L818.1 1504.3L819.5 1504.3L820.9 1504.4L822.2 1504.4L823.6 1504.5L825.0 1504.6L826.3 1504.6L827.7 1504.7L829.1 1504.8L830.4 1504.8L831.8 1504.9L833.1 1504.9L834.5 1505.0L835.9 1505.1L837.2 1505.1L838.6 1505.2L840.0 1505.3L841.3 1505.3L842.7 1505.4L844.1 1505.5L845.4 1505.5L846.8 1505.6L848.2 1505.7L849.5 1505.7L850.9 1505.8L852.3 1505.8L853.6 1505.9L855.0 1506.0L856.3 1506.0L857.7 1506.1L859.1 1506.1L860.4 1506.2L861.8 1506.3L863.2 1506.3L864.5 1506.4L865.9 1506.4L867.3 1506.5L868.6 1506.5L870.0 1506.6L871.4 1506.6L872.7 1506.7L874.1 1506.7L875.5 1506.8L876.8 1506.8L878.2 1506.9L879.5 1506.9L880.9 1507.0L882.3 1507.0L883.6 1507.1L885.0 1507.1L886.4 1507.1L887.7 1507.2L889.1 1507.2L890.5 1507.3L891.8 1507.3L893.2 1507.3L894.6 1507.4L895.9 1507.4L897.3 1507.5L898.7 1507.5L900.0 1507.5L901.4 1507.6L902.7 1507.6L904.1 1507.6L905.5 1507.7L906.8 1507.7L908.2 1507.7L909.6 1507.8L910.9 1507.8L912.3 1507.8L913.7 1507.9L915.0 1507.9L916.4 1507.9L917.8 1508.0L919.1 1508.0L920.5 1508.0L921.9 1508.1L923.2 1508.1L924.6 1508.1L926.0 1508.1" fill="none" stroke="#008000" stroke-width="2.45" stroke-linejoin="round" stroke-dasharray="10.3 15.2" stroke-linecap="round"/>
<path d="M153.69 1501.27L169.69 1501.27L161.69 1515.13Z" fill="#008000"/>
<path d="M208.28 1487.51L224.28 1487.51L216.28 1501.37Z" fill="#008000"/>
<path d="M262.87 1156.92L278.87 1156.92L270.87 1170.78Z" fill="#008000"/>
<path d="M317.46 1369.03L333.46 1369.03L325.46 1382.89Z" fill="#008000"/>
<path d="M372.05 1291.04L388.05 1291.04L380.05 1304.90Z" fill="#008000"/>
<path d="M426.64 1376.94L442.64 1376.94L434.64 1390.80Z" fill="#008000"/>
<path d="M481.23 1433.83L497.23 1433.83L489.23 1447.69Z" fill="#008000"/>
<path d="M535.82 1459.45L551.82 1459.45L543.82 1473.31Z" fill="#008000"/>
<path d="M590.41 1475.84L606.41 1475.84L598.41 1489.70Z" fill="#008000"/>
<path d="M645.00 1485.44L661.00 1485.44L653.00 1499.30Z" fill="#008000"/>
<path d="M699.59 1491.47L715.59 1491.47L707.59 1505.33Z" fill="#008000"/>
<path d="M754.18 1496.75L770.18 1496.75L762.18 1510.61Z" fill="#008000"/>
<path d="M808.77 1499.57L824.77 1499.57L816.77 1513.43Z" fill="#008000"/>
<path d="M863.36 1502.02L879.36 1502.02L871.36 1515.88Z" fill="#008000"/>
<path d="M917.95 1503.53L933.95 1503.53L925.95 1517.39Z" fill="#008000"/>
</g>
<path d="M107.5 857.7H926.4V1517H107.5Z" fill="none" stroke="#000" stroke-width="2.2"/>
<path d="M107.5 1517.0h-13.2M107.5 1469.9h-6.8M107.5 1422.8h-13.2M107.5 1375.7h-6.8M107.5 1328.6h-13.2M107.5 1281.5h-6.8M107.5 1234.4h-13.2M107.5 1187.3h-6.8M107.5 1140.3h-13.2M107.5 1093.2h-6.8M107.5 1046.1h-13.2M107.5 999.0h-6.8M107.5 951.9h-13.2M107.5 904.8h-6.8M107.5 857.7h-13.2M107.5 1517v6.8M162.1 1517v13M216.7 1517v6.8M271.3 1517v13M325.9 1517v6.8M380.5 1517v13M435.0 1517v6.8M489.6 1517v13M544.2 1517v6.8M598.8 1517v13M653.4 1517v6.8M708.0 1517v13M762.6 1517v6.8M817.2 1517v13M871.8 1517v6.8M926.4 1517v13" stroke="#000" stroke-width="2.2" fill="none"/>
<text transform="translate(85.9 1525.6) scale(1 1.04)" font-family="Liberation Sans, Arial, sans-serif" font-size="28.3" text-anchor="end">0</text>
<text transform="translate(85.9 1431.4) scale(1 1.04)" font-family="Liberation Sans, Arial, sans-serif" font-size="28.3" text-anchor="end">50</text>
<text transform="translate(85.9 1337.2) scale(1 1.04)" font-family="Liberation Sans, Arial, sans-serif" font-size="28.3" text-anchor="end">100</text>
<text transform="translate(85.9 1243.0) scale(1 1.04)" font-family="Liberation Sans, Arial, sans-serif" font-size="28.3" text-anchor="end">150</text>
<text transform="translate(85.9 1148.9) scale(1 1.04)" font-family="Liberation Sans, Arial, sans-serif" font-size="28.3" text-anchor="end">200</text>
<text transform="translate(85.9 1054.7) scale(1 1.04)" font-family="Liberation Sans, Arial, sans-serif" font-size="28.3" text-anchor="end">250</text>
<text transform="translate(85.9 960.5) scale(1 1.04)" font-family="Liberation Sans, Arial, sans-serif" font-size="28.3" text-anchor="end">300</text>
<text transform="translate(85.9 866.3) scale(1 1.04)" font-family="Liberation Sans, Arial, sans-serif" font-size="28.3" text-anchor="end">350</text>
<text transform="translate(162.1 1560.3) scale(1 1.04)" font-family="Liberation Sans, Arial, sans-serif" font-size="28.3" text-anchor="middle">1</text>
<text transform="translate(271.3 1560.3) scale(1 1.04)" font-family="Liberation Sans, Arial, sans-serif" font-size="28.3" text-anchor="middle">3</text>
<text transform="translate(380.5 1560.3) scale(1 1.04)" font-family="Liberation Sans, Arial, sans-serif" font-size="28.3" text-anchor="middle">5</text>
<text transform="translate(489.6 1560.3) scale(1 1.04)" font-family="Liberation Sans, Arial, sans-serif" font-size="28.3" text-anchor="middle">7</text>
<text transform="translate(598.8 1560.3) scale(1 1.04)" font-family="Liberation Sans, Arial, sans-serif" font-size="28.3" text-anchor="middle">9</text>
<text transform="translate(708.0 1560.3) scale(1 1.04)" font-family="Liberation Sans, Arial, sans-serif" font-size="28.3" text-anchor="middle">11</text>
<text transform="translate(817.2 1560.3) scale(1 1.04)" font-family="Liberation Sans, Arial, sans-serif" font-size="28.3" text-anchor="middle">13</text>
<text transform="translate(926.4 1560.3) scale(1 1.04)" font-family="Liberation Sans, Arial, sans-serif" font-size="28.3" text-anchor="middle">15</text>
<text transform="translate(516.9 1600.8) scale(1 1.05)" font-family="Liberation Sans, Arial, sans-serif" font-size="28.2" text-anchor="middle">Time Period (<tspan font-style="italic">s</tspan>)</text>
<text transform="translate(20.8 1187.8) rotate(-90) scale(1 1.0)" font-family="Liberation Sans, Arial, sans-serif" font-size="28.45" text-anchor="middle"><tspan font-family="Liberation Serif, Times New Roman, serif" font-size="30.5">ξ</tspan><tspan font-size="19.5" dy="7" textLength="18.4" lengthAdjust="spacingAndGlyphs">44</tspan><tspan dy="-7">-Power (</tspan><tspan font-style="italic">kW</tspan>)</text>
<text x="501.8" y="1656.7" font-family="Liberation Serif, Times New Roman, serif" font-size="46" text-anchor="middle">(b)</text>
<rect x="490.5" y="860.5" width="431.0" height="211.0" fill="#fff" stroke="#4a4a4a" stroke-width="1"/>
<path d="M494.3 884.3H570.9" stroke="#000000" stroke-width="2.75" fill="none"/>
<rect x="527.95" y="879.35" width="9.90" height="9.90" fill="#fff" stroke="#000000" stroke-width="1.40"/>
<text transform="translate(579.9 895.6) scale(1 1.03)" font-family="Liberation Serif, Times New Roman, serif" font-size="34.35">Box type FBW</text>
<path d="M494.3 924.3H570.9" stroke="#ff0000" stroke-width="2.75" fill="none"/>
<circle cx="532.90" cy="924.30" r="5.42" fill="#fff" stroke="#ff0000" stroke-width="1.23"/>
<text transform="translate(579.9 936.7) scale(1 1.03)" font-family="Liberation Serif, Times New Roman, serif" font-size="34.35">Trapezoidal type FBW</text>
<path d="M494.3 968.3H570.9" stroke="#0000ff" stroke-width="2.75" fill="none"/>
<path d="M525.59 968.30L532.90 960.99L540.21 968.30L532.90 975.61Z" fill="#fff" stroke="#0000ff" stroke-width="1.44"/>
<text transform="translate(579.9 980.5) scale(1 1.03)" font-family="Liberation Serif, Times New Roman, serif" font-size="34.35">π-type FBW</text>
<path d="M495.7 1008.6H567.4" stroke="#ff00ff" stroke-width="2.75" fill="none" stroke-dasharray="10.0 15.5" stroke-linecap="round"/>
<path d="M525.46 1012.90L540.34 1012.90L532.90 1000.01Z" fill="#ff00ff"/>
<text transform="translate(579.9 1021) scale(1 1.03)" font-family="Liberation Serif, Times New Roman, serif" font-size="34.35">Parabolic type FBW</text>
<path d="M495.7 1048.8H567.4" stroke="#008000" stroke-width="2.75" fill="none" stroke-dasharray="10.0 15.5" stroke-linecap="round"/>
<path d="M525.46 1044.50L540.34 1044.50L532.90 1057.39Z" fill="#008000"/>
<text transform="translate(579.9 1060.7) scale(1 1.03)" font-family="Liberation Serif, Times New Roman, serif" font-size="34.35">Semi-circular type FBW</text>
<clipPath id="clipc"><rect x="107.5" y="1689.3" width="818.9" height="656.7"/></clipPath>
<path d="M161.7 1689.3V2346M270.9 1689.3V2346M380.1 1689.3V2346M489.2 1689.3V2346M598.4 1689.3V2346M707.6 1689.3V2346M816.8 1689.3V2346M107.5 2214.7H926.4M107.5 2083.3H926.4M107.5 1952.0H926.4M107.5 1820.6H926.4" stroke="#cecece" stroke-width="1.15" stroke-dasharray="4.2 3.9" fill="none"/>
<g clip-path="url(#clipc)">
<path d="M161.7 2346.0L163.1 2344.6L164.4 2343.1L165.8 2341.7L167.1 2340.3L168.5 2339.0L169.9 2337.6L171.2 2336.3L172.6 2335.0L174.0 2333.8L175.3 2332.6L176.7 2331.4L178.1 2330.3L179.4 2329.3L180.8 2328.4L182.2 2327.5L183.5 2326.7L184.9 2326.0L186.3 2325.3L187.6 2324.8L189.0 2324.4L190.3 2324.0L191.7 2323.8L193.1 2323.7L194.4 2323.7L195.8 2323.9L197.2 2324.2L198.5 2324.6L199.9 2325.1L201.3 2325.8L202.6 2326.7L204.0 2327.7L205.4 2328.8L206.7 2330.2L208.1 2331.7L209.5 2333.4L210.8 2335.3L212.2 2337.3L213.6 2339.6L214.9 2342.0L216.3 2344.7L217.6 2347.5L219.0 2350.6L220.4 2353.8L221.7 2357.1L223.1 2360.6L224.5 2364.1L225.8 2367.6L227.2 2371.2L228.6 2374.7L229.9 2378.3L231.3 2381.7L232.7 2385.1L234.0 2388.4L235.4 2391.5L236.8 2394.5L238.1 2397.2L239.5 2399.8L240.8 2402.0L242.2 2404.0L243.6 2405.7L244.9 2407.1L246.3 2408.1L247.7 2408.7L249.0 2408.9L250.4 2408.7L251.8 2408.0L253.1 2406.8L254.5 2405.1L255.9 2402.8L257.2 2400.0L258.6 2396.5L260.0 2392.5L261.3 2387.7L262.7 2382.3L264.0 2376.2L265.4 2369.3L266.8 2361.7L268.1 2353.3L269.5 2344.0L270.9 2333.9L272.2 2323.0L273.6 2311.2L275.0 2298.7L276.3 2285.4L277.7 2271.5L279.1 2257.0L280.4 2242.0L281.8 2226.4L283.2 2210.5L284.5 2194.1L285.9 2177.4L287.2 2160.5L288.6 2143.4L290.0 2126.0L291.3 2108.6L292.7 2091.2L294.1 2073.7L295.4 2056.3L296.8 2039.0L298.2 2021.9L299.5 2005.0L300.9 1988.4L302.3 1972.2L303.6 1956.3L305.0 1940.9L306.4 1925.9L307.7 1911.6L309.1 1897.8L310.4 1884.7L311.8 1872.4L313.2 1860.8L314.5 1850.0L315.9 1840.1L317.3 1831.2L318.6 1823.2L320.0 1816.4L321.4 1810.6L322.7 1805.9L324.1 1802.5L325.5 1800.4L326.8 1799.6L328.2 1800.0L329.6 1801.7L330.9 1804.6L332.3 1808.5L333.6 1813.6L335.0 1819.6L336.4 1826.6L337.7 1834.6L339.1 1843.4L340.5 1853.0L341.8 1863.3L343.2 1874.4L344.6 1886.1L345.9 1898.5L347.3 1911.4L348.7 1924.7L350.0 1938.6L351.4 1952.8L352.8 1967.4L354.1 1982.3L355.5 1997.4L356.8 2012.7L358.2 2028.2L359.6 2043.7L360.9 2059.3L362.3 2074.9L363.7 2090.4L365.0 2105.7L366.4 2121.0L367.8 2136.0L369.1 2150.7L370.5 2165.1L371.9 2179.1L373.2 2192.7L374.6 2205.8L376.0 2218.4L377.3 2230.4L378.7 2241.8L380.1 2252.5L381.4 2262.5L382.8 2271.7L384.1 2280.3L385.5 2288.1L386.9 2295.4L388.2 2301.9L389.6 2307.9L391.0 2313.3L392.3 2318.1L393.7 2322.3L395.1 2326.0L396.4 2329.2L397.8 2331.9L399.2 2334.1L400.5 2335.9L401.9 2337.2L403.3 2338.1L404.6 2338.6L406.0 2338.8L407.3 2338.6L408.7 2338.0L410.1 2337.1L411.4 2336.0L412.8 2334.5L414.2 2332.8L415.5 2330.9L416.9 2328.7L418.3 2326.4L419.6 2323.8L421.0 2321.1L422.4 2318.3L423.7 2315.4L425.1 2312.3L426.5 2309.2L427.8 2306.1L429.2 2302.8L430.5 2299.6L431.9 2296.4L433.3 2293.2L434.6 2290.0L436.0 2287.0L437.4 2283.9L438.7 2281.0L440.1 2278.1L441.5 2275.2L442.8 2272.4L444.2 2269.7L445.6 2267.1L446.9 2264.5L448.3 2262.0L449.7 2259.6L451.0 2257.2L452.4 2254.9L453.7 2252.7L455.1 2250.5L456.5 2248.4L457.8 2246.4L459.2 2244.5L460.6 2242.6L461.9 2240.8L463.3 2239.1L464.7 2237.4L466.0 2235.9L467.4 2234.4L468.8 2232.9L470.1 2231.6L471.5 2230.3L472.9 2229.1L474.2 2228.0L475.6 2227.0L476.9 2226.0L478.3 2225.1L479.7 2224.3L481.0 2223.6L482.4 2222.9L483.8 2222.4L485.1 2221.9L486.5 2221.5L487.9 2221.2L489.2 2221.0L490.6 2220.8L492.0 2220.8L493.3 2220.8L494.7 2220.9L496.1 2221.0L497.4 2221.2L498.8 2221.5L500.1 2221.9L501.5 2222.3L502.9 2222.8L504.2 2223.4L505.6 2223.9L507.0 2224.6L508.3 2225.3L509.7 2226.0L511.1 2226.8L512.4 2227.6L513.8 2228.5L515.2 2229.4L516.5 2230.3L517.9 2231.2L519.3 2232.2L520.6 2233.2L522.0 2234.2L523.3 2235.2L524.7 2236.3L526.1 2237.3L527.4 2238.4L528.8 2239.5L530.2 2240.6L531.5 2241.6L532.9 2242.7L534.3 2243.8L535.6 2244.8L537.0 2245.9L538.4 2246.9L539.7 2248.0L541.1 2249.0L542.5 2250.0L543.8 2250.9L545.2 2251.8L546.5 2252.7L547.9 2253.6L549.3 2254.5L550.6 2255.3L552.0 2256.1L553.4 2256.9L554.7 2257.6L556.1 2258.3L557.5 2259.0L558.8 2259.7L560.2 2260.4L561.6 2261.0L562.9 2261.6L564.3 2262.2L565.7 2262.7L567.0 2263.3L568.4 2263.8L569.8 2264.3L571.1 2264.7L572.5 2265.2L573.8 2265.6L575.2 2266.0L576.6 2266.4L577.9 2266.7L579.3 2267.1L580.7 2267.4L582.0 2267.7L583.4 2268.0L584.8 2268.2L586.1 2268.5L587.5 2268.7L588.9 2268.9L590.2 2269.1L591.6 2269.2L593.0 2269.4L594.3 2269.5L595.7 2269.6L597.0 2269.7L598.4 2269.8L599.8 2269.9L601.1 2269.9L602.5 2270.0L603.9 2270.0L605.2 2270.0L606.6 2270.0L608.0 2270.0L609.3 2270.0L610.7 2270.0L612.1 2270.0L613.4 2270.0L614.8 2270.0L616.2 2270.1L617.5 2270.1L618.9 2270.1L620.2 2270.1L621.6 2270.2L623.0 2270.3L624.3 2270.4L625.7 2270.5L627.1 2270.6L628.4 2270.7L629.8 2270.9L631.2 2271.1L632.5 2271.3L633.9 2271.6L635.3 2271.9L636.6 2272.2L638.0 2272.5L639.4 2272.9L640.7 2273.4L642.1 2273.8L643.4 2274.3L644.8 2274.9L646.2 2275.5L647.5 2276.2L648.9 2276.9L650.3 2277.6L651.6 2278.4L653.0 2279.3L654.4 2280.2L655.7 2281.2L657.1 2282.2L658.5 2283.3L659.8 2284.4L661.2 2285.5L662.6 2286.7L663.9 2287.9L665.3 2289.2L666.6 2290.4L668.0 2291.7L669.4 2293.0L670.7 2294.3L672.1 2295.6L673.5 2296.9L674.8 2298.3L676.2 2299.6L677.6 2300.9L678.9 2302.2L680.3 2303.4L681.7 2304.7L683.0 2305.9L684.4 2307.1L685.8 2308.3L687.1 2309.5L688.5 2310.6L689.8 2311.6L691.2 2312.6L692.6 2313.6L693.9 2314.5L695.3 2315.3L696.7 2316.1L698.0 2316.9L699.4 2317.5L700.8 2318.1L702.1 2318.6L703.5 2319.0L704.9 2319.3L706.2 2319.6L707.6 2319.7L709.0 2319.8L710.3 2319.8L711.7 2319.6L713.0 2319.4L714.4 2319.1L715.8 2318.8L717.1 2318.3L718.5 2317.8L719.9 2317.2L721.2 2316.6L722.6 2315.9L724.0 2315.1L725.3 2314.3L726.7 2313.5L728.1 2312.6L729.4 2311.7L730.8 2310.7L732.2 2309.7L733.5 2308.7L734.9 2307.7L736.2 2306.6L737.6 2305.5L739.0 2304.5L740.3 2303.4L741.7 2302.3L743.1 2301.2L744.4 2300.1L745.8 2299.0L747.2 2298.0L748.5 2296.9L749.9 2295.9L751.3 2294.9L752.6 2293.9L754.0 2293.0L755.4 2292.1L756.7 2291.2L758.1 2290.4L759.5 2289.6L760.8 2288.9L762.2 2288.2L763.5 2287.6L764.9 2287.1L766.3 2286.6L767.6 2286.1L769.0 2285.7L770.4 2285.4L771.7 2285.1L773.1 2284.9L774.5 2284.7L775.8 2284.5L777.2 2284.4L778.6 2284.3L779.9 2284.3L781.3 2284.3L782.7 2284.3L784.0 2284.4L785.4 2284.5L786.7 2284.6L788.1 2284.7L789.5 2284.9L790.8 2285.1L792.2 2285.3L793.6 2285.5L794.9 2285.8L796.3 2286.1L797.7 2286.3L799.0 2286.6L800.4 2286.9L801.8 2287.2L803.1 2287.5L804.5 2287.9L805.9 2288.2L807.2 2288.5L808.6 2288.8L809.9 2289.1L811.3 2289.4L812.7 2289.7L814.0 2290.0L815.4 2290.3L816.8 2290.6L818.1 2290.8L819.5 2291.1L820.9 2291.3L822.2 2291.5L823.6 2291.7L825.0 2291.9L826.3 2292.1L827.7 2292.2L829.1 2292.4L830.4 2292.5L831.8 2292.6L833.1 2292.8L834.5 2292.9L835.9 2293.0L837.2 2293.1L838.6 2293.1L840.0 2293.2L841.3 2293.3L842.7 2293.4L844.1 2293.4L845.4 2293.5L846.8 2293.5L848.2 2293.6L849.5 2293.6L850.9 2293.6L852.3 2293.7L853.6 2293.7L855.0 2293.7L856.3 2293.7L857.7 2293.8L859.1 2293.8L860.4 2293.8L861.8 2293.8L863.2 2293.8L864.5 2293.9L865.9 2293.9L867.3 2293.9L868.6 2293.9L870.0 2294.0L871.4 2294.0L872.7 2294.0L874.1 2294.1L875.5 2294.1L876.8 2294.1L878.2 2294.2L879.5 2294.2L880.9 2294.3L882.3 2294.4L883.6 2294.4L885.0 2294.5L886.4 2294.5L887.7 2294.6L889.1 2294.7L890.5 2294.7L891.8 2294.8L893.2 2294.9L894.6 2295.0L895.9 2295.1L897.3 2295.1L898.7 2295.2L900.0 2295.3L901.4 2295.4L902.7 2295.5L904.1 2295.6L905.5 2295.7L906.8 2295.8L908.2 2295.8L909.6 2295.9L910.9 2296.0L912.3 2296.1L913.7 2296.2L915.0 2296.3L916.4 2296.4L917.8 2296.5L919.1 2296.6L920.5 2296.7L921.9 2296.8L923.2 2296.9L924.6 2297.0L926.0 2297.1" fill="none" stroke="#000000" stroke-width="2.45" stroke-linejoin="round"/>
<rect x="156.74" y="2341.05" width="9.90" height="9.90" fill="#fff" stroke="#000000" stroke-width="1.40"/>
<rect x="211.33" y="2339.74" width="9.90" height="9.90" fill="#fff" stroke="#000000" stroke-width="1.40"/>
<rect x="265.92" y="2328.97" width="9.90" height="9.90" fill="#fff" stroke="#000000" stroke-width="1.40"/>
<rect x="320.51" y="1795.46" width="9.90" height="9.90" fill="#fff" stroke="#000000" stroke-width="1.40"/>
<rect x="375.10" y="2247.54" width="9.90" height="9.90" fill="#fff" stroke="#000000" stroke-width="1.40"/>
<rect x="429.69" y="2285.10" width="9.90" height="9.90" fill="#fff" stroke="#000000" stroke-width="1.40"/>
<rect x="484.28" y="2216.01" width="9.90" height="9.90" fill="#fff" stroke="#000000" stroke-width="1.40"/>
<rect x="538.87" y="2245.96" width="9.90" height="9.90" fill="#fff" stroke="#000000" stroke-width="1.40"/>
<rect x="593.46" y="2264.87" width="9.90" height="9.90" fill="#fff" stroke="#000000" stroke-width="1.40"/>
<rect x="648.05" y="2274.33" width="9.90" height="9.90" fill="#fff" stroke="#000000" stroke-width="1.40"/>
<rect x="702.64" y="2314.78" width="9.90" height="9.90" fill="#fff" stroke="#000000" stroke-width="1.40"/>
<rect x="757.23" y="2283.26" width="9.90" height="9.90" fill="#fff" stroke="#000000" stroke-width="1.40"/>
<rect x="811.82" y="2285.62" width="9.90" height="9.90" fill="#fff" stroke="#000000" stroke-width="1.40"/>
<rect x="866.41" y="2289.04" width="9.90" height="9.90" fill="#fff" stroke="#000000" stroke-width="1.40"/>
<rect x="921.00" y="2292.19" width="9.90" height="9.90" fill="#fff" stroke="#000000" stroke-width="1.40"/>
<path d="M161.7 2337.1L163.1 2338.4L164.4 2339.8L165.8 2341.2L167.1 2342.5L168.5 2343.8L169.9 2345.1L171.2 2346.4L172.6 2347.6L174.0 2348.8L175.3 2350.0L176.7 2351.1L178.1 2352.2L179.4 2353.2L180.8 2354.1L182.2 2355.0L183.5 2355.8L184.9 2356.6L186.3 2357.2L187.6 2357.8L189.0 2358.3L190.3 2358.7L191.7 2359.0L193.1 2359.2L194.4 2359.3L195.8 2359.2L197.2 2359.1L198.5 2358.8L199.9 2358.4L201.3 2357.9L202.6 2357.3L204.0 2356.5L205.4 2355.6L206.7 2354.5L208.1 2353.2L209.5 2351.8L210.8 2350.3L212.2 2348.5L213.6 2346.7L214.9 2344.6L216.3 2342.3L217.6 2339.9L219.0 2337.3L220.4 2334.5L221.7 2331.5L223.1 2328.4L224.5 2325.2L225.8 2321.8L227.2 2318.3L228.6 2314.6L229.9 2310.9L231.3 2307.0L232.7 2303.1L234.0 2299.0L235.4 2294.9L236.8 2290.7L238.1 2286.5L239.5 2282.1L240.8 2277.8L242.2 2273.4L243.6 2268.9L244.9 2264.4L246.3 2260.0L247.7 2255.5L249.0 2251.0L250.4 2246.5L251.8 2242.0L253.1 2237.6L254.5 2233.1L255.9 2228.8L257.2 2224.4L258.6 2220.2L260.0 2215.9L261.3 2211.8L262.7 2207.7L264.0 2203.8L265.4 2199.9L266.8 2196.1L268.1 2192.5L269.5 2188.9L270.9 2185.5L272.2 2182.2L273.6 2179.1L275.0 2176.0L276.3 2173.1L277.7 2170.3L279.1 2167.6L280.4 2165.0L281.8 2162.5L283.2 2160.1L284.5 2157.7L285.9 2155.4L287.2 2153.2L288.6 2151.0L290.0 2148.9L291.3 2146.8L292.7 2144.7L294.1 2142.7L295.4 2140.7L296.8 2138.7L298.2 2136.7L299.5 2134.7L300.9 2132.8L302.3 2130.8L303.6 2128.7L305.0 2126.7L306.4 2124.6L307.7 2122.5L309.1 2120.3L310.4 2118.1L311.8 2115.8L313.2 2113.5L314.5 2111.1L315.9 2108.6L317.3 2106.0L318.6 2103.3L320.0 2100.6L321.4 2097.7L322.7 2094.7L324.1 2091.6L325.5 2088.3L326.8 2084.9L328.2 2081.4L329.6 2077.8L330.9 2074.1L332.3 2070.3L333.6 2066.4L335.0 2062.4L336.4 2058.3L337.7 2054.2L339.1 2050.0L340.5 2045.8L341.8 2041.6L343.2 2037.3L344.6 2033.1L345.9 2028.8L347.3 2024.5L348.7 2020.3L350.0 2016.0L351.4 2011.8L352.8 2007.7L354.1 2003.6L355.5 1999.5L356.8 1995.5L358.2 1991.6L359.6 1987.8L360.9 1984.1L362.3 1980.5L363.7 1977.0L365.0 1973.7L366.4 1970.5L367.8 1967.4L369.1 1964.5L370.5 1961.7L371.9 1959.1L373.2 1956.7L374.6 1954.5L376.0 1952.5L377.3 1950.7L378.7 1949.1L380.1 1947.8L381.4 1946.7L382.8 1945.8L384.1 1945.1L385.5 1944.7L386.9 1944.4L388.2 1944.4L389.6 1944.5L391.0 1944.9L392.3 1945.4L393.7 1946.1L395.1 1947.0L396.4 1948.0L397.8 1949.2L399.2 1950.5L400.5 1951.9L401.9 1953.5L403.3 1955.2L404.6 1957.0L406.0 1958.9L407.3 1960.9L408.7 1963.0L410.1 1965.2L411.4 1967.5L412.8 1969.8L414.2 1972.2L415.5 1974.7L416.9 1977.2L418.3 1979.7L419.6 1982.3L421.0 1984.9L422.4 1987.6L423.7 1990.2L425.1 1992.8L426.5 1995.5L427.8 1998.1L429.2 2000.7L430.5 2003.3L431.9 2005.8L433.3 2008.4L434.6 2010.8L436.0 2013.2L437.4 2015.6L438.7 2017.9L440.1 2020.2L441.5 2022.4L442.8 2024.5L444.2 2026.6L445.6 2028.7L446.9 2030.7L448.3 2032.7L449.7 2034.6L451.0 2036.5L452.4 2038.4L453.7 2040.2L455.1 2042.0L456.5 2043.7L457.8 2045.5L459.2 2047.1L460.6 2048.8L461.9 2050.4L463.3 2052.0L464.7 2053.5L466.0 2055.1L467.4 2056.6L468.8 2058.0L470.1 2059.5L471.5 2060.9L472.9 2062.3L474.2 2063.7L475.6 2065.1L476.9 2066.5L478.3 2067.8L479.7 2069.1L481.0 2070.4L482.4 2071.7L483.8 2073.0L485.1 2074.3L486.5 2075.6L487.9 2076.8L489.2 2078.1L490.6 2079.3L492.0 2080.6L493.3 2081.8L494.7 2083.0L496.1 2084.2L497.4 2085.5L498.8 2086.7L500.1 2087.9L501.5 2089.1L502.9 2090.3L504.2 2091.4L505.6 2092.6L507.0 2093.8L508.3 2094.9L509.7 2096.1L511.1 2097.2L512.4 2098.4L513.8 2099.5L515.2 2100.6L516.5 2101.7L517.9 2102.8L519.3 2103.8L520.6 2104.9L522.0 2106.0L523.3 2107.0L524.7 2108.1L526.1 2109.1L527.4 2110.1L528.8 2111.1L530.2 2112.1L531.5 2113.0L532.9 2114.0L534.3 2114.9L535.6 2115.9L537.0 2116.8L538.4 2117.7L539.7 2118.6L541.1 2119.4L542.5 2120.3L543.8 2121.1L545.2 2122.0L546.5 2122.8L547.9 2123.6L549.3 2124.4L550.6 2125.1L552.0 2125.9L553.4 2126.6L554.7 2127.4L556.1 2128.1L557.5 2128.8L558.8 2129.5L560.2 2130.1L561.6 2130.8L562.9 2131.5L564.3 2132.1L565.7 2132.8L567.0 2133.4L568.4 2134.0L569.8 2134.6L571.1 2135.2L572.5 2135.8L573.8 2136.4L575.2 2137.0L576.6 2137.5L577.9 2138.1L579.3 2138.6L580.7 2139.2L582.0 2139.7L583.4 2140.2L584.8 2140.8L586.1 2141.3L587.5 2141.8L588.9 2142.3L590.2 2142.8L591.6 2143.3L593.0 2143.9L594.3 2144.4L595.7 2144.8L597.0 2145.3L598.4 2145.8L599.8 2146.3L601.1 2146.8L602.5 2147.3L603.9 2147.8L605.2 2148.3L606.6 2148.8L608.0 2149.2L609.3 2149.7L610.7 2150.2L612.1 2150.7L613.4 2151.1L614.8 2151.6L616.2 2152.1L617.5 2152.6L618.9 2153.0L620.2 2153.5L621.6 2153.9L623.0 2154.4L624.3 2154.8L625.7 2155.3L627.1 2155.7L628.4 2156.2L629.8 2156.6L631.2 2157.1L632.5 2157.5L633.9 2157.9L635.3 2158.4L636.6 2158.8L638.0 2159.2L639.4 2159.7L640.7 2160.1L642.1 2160.5L643.4 2160.9L644.8 2161.3L646.2 2161.7L647.5 2162.1L648.9 2162.5L650.3 2162.9L651.6 2163.3L653.0 2163.7L654.4 2164.1L655.7 2164.5L657.1 2164.8L658.5 2165.2L659.8 2165.6L661.2 2166.0L662.6 2166.3L663.9 2166.7L665.3 2167.0L666.6 2167.4L668.0 2167.7L669.4 2168.1L670.7 2168.4L672.1 2168.8L673.5 2169.1L674.8 2169.5L676.2 2169.8L677.6 2170.1L678.9 2170.5L680.3 2170.8L681.7 2171.1L683.0 2171.4L684.4 2171.7L685.8 2172.1L687.1 2172.4L688.5 2172.7L689.8 2173.0L691.2 2173.3L692.6 2173.6L693.9 2173.9L695.3 2174.2L696.7 2174.5L698.0 2174.8L699.4 2175.1L700.8 2175.4L702.1 2175.7L703.5 2176.0L704.9 2176.3L706.2 2176.5L707.6 2176.8L709.0 2177.1L710.3 2177.4L711.7 2177.7L713.0 2178.0L714.4 2178.2L715.8 2178.5L717.1 2178.8L718.5 2179.1L719.9 2179.3L721.2 2179.6L722.6 2179.9L724.0 2180.2L725.3 2180.4L726.7 2180.7L728.1 2181.0L729.4 2181.2L730.8 2181.5L732.2 2181.8L733.5 2182.0L734.9 2182.3L736.2 2182.5L737.6 2182.8L739.0 2183.1L740.3 2183.3L741.7 2183.6L743.1 2183.8L744.4 2184.1L745.8 2184.3L747.2 2184.6L748.5 2184.8L749.9 2185.1L751.3 2185.3L752.6 2185.6L754.0 2185.8L755.4 2186.1L756.7 2186.3L758.1 2186.6L759.5 2186.8L760.8 2187.1L762.2 2187.3L763.5 2187.6L764.9 2187.8L766.3 2188.1L767.6 2188.3L769.0 2188.6L770.4 2188.8L771.7 2189.1L773.1 2189.3L774.5 2189.5L775.8 2189.8L777.2 2190.0L778.6 2190.3L779.9 2190.5L781.3 2190.8L782.7 2191.0L784.0 2191.2L785.4 2191.5L786.7 2191.7L788.1 2192.0L789.5 2192.2L790.8 2192.4L792.2 2192.7L793.6 2192.9L794.9 2193.1L796.3 2193.4L797.7 2193.6L799.0 2193.8L800.4 2194.1L801.8 2194.3L803.1 2194.5L804.5 2194.8L805.9 2195.0L807.2 2195.2L808.6 2195.4L809.9 2195.7L811.3 2195.9L812.7 2196.1L814.0 2196.3L815.4 2196.6L816.8 2196.8L818.1 2197.0L819.5 2197.2L820.9 2197.5L822.2 2197.7L823.6 2197.9L825.0 2198.1L826.3 2198.3L827.7 2198.6L829.1 2198.8L830.4 2199.0L831.8 2199.2L833.1 2199.4L834.5 2199.6L835.9 2199.8L837.2 2200.1L838.6 2200.3L840.0 2200.5L841.3 2200.7L842.7 2200.9L844.1 2201.1L845.4 2201.3L846.8 2201.5L848.2 2201.7L849.5 2201.9L850.9 2202.1L852.3 2202.3L853.6 2202.5L855.0 2202.7L856.3 2202.9L857.7 2203.1L859.1 2203.3L860.4 2203.5L861.8 2203.7L863.2 2203.8L864.5 2204.0L865.9 2204.2L867.3 2204.4L868.6 2204.6L870.0 2204.8L871.4 2204.9L872.7 2205.1L874.1 2205.3L875.5 2205.5L876.8 2205.6L878.2 2205.8L879.5 2206.0L880.9 2206.2L882.3 2206.3L883.6 2206.5L885.0 2206.7L886.4 2206.8L887.7 2207.0L889.1 2207.1L890.5 2207.3L891.8 2207.5L893.2 2207.6L894.6 2207.8L895.9 2207.9L897.3 2208.1L898.7 2208.2L900.0 2208.4L901.4 2208.6L902.7 2208.7L904.1 2208.9L905.5 2209.0L906.8 2209.2L908.2 2209.3L909.6 2209.5L910.9 2209.6L912.3 2209.8L913.7 2209.9L915.0 2210.1L916.4 2210.2L917.8 2210.4L919.1 2210.5L920.5 2210.7L921.9 2210.8L923.2 2211.0L924.6 2211.1L926.0 2211.2" fill="none" stroke="#ff0000" stroke-width="2.45" stroke-linejoin="round"/>
<circle cx="161.69" cy="2337.07" r="5.70" fill="#fff" stroke="#ff0000" stroke-width="1.30"/>
<circle cx="216.28" cy="2342.32" r="5.70" fill="#fff" stroke="#ff0000" stroke-width="1.30"/>
<circle cx="270.87" cy="2185.50" r="5.70" fill="#fff" stroke="#ff0000" stroke-width="1.30"/>
<circle cx="325.46" cy="2088.31" r="5.70" fill="#fff" stroke="#ff0000" stroke-width="1.30"/>
<circle cx="380.05" cy="1947.78" r="5.70" fill="#fff" stroke="#ff0000" stroke-width="1.30"/>
<circle cx="434.64" cy="2010.82" r="5.70" fill="#fff" stroke="#ff0000" stroke-width="1.30"/>
<circle cx="489.23" cy="2078.07" r="5.70" fill="#fff" stroke="#ff0000" stroke-width="1.30"/>
<circle cx="543.82" cy="2121.15" r="5.70" fill="#fff" stroke="#ff0000" stroke-width="1.30"/>
<circle cx="598.41" cy="2145.84" r="5.70" fill="#fff" stroke="#ff0000" stroke-width="1.30"/>
<circle cx="653.00" cy="2163.70" r="5.70" fill="#fff" stroke="#ff0000" stroke-width="1.30"/>
<circle cx="707.59" cy="2176.83" r="5.70" fill="#fff" stroke="#ff0000" stroke-width="1.30"/>
<circle cx="762.18" cy="2187.34" r="5.70" fill="#fff" stroke="#ff0000" stroke-width="1.30"/>
<circle cx="816.77" cy="2196.80" r="5.70" fill="#fff" stroke="#ff0000" stroke-width="1.30"/>
<circle cx="871.36" cy="2204.94" r="5.70" fill="#fff" stroke="#ff0000" stroke-width="1.30"/>
<circle cx="925.95" cy="2211.25" r="5.70" fill="#fff" stroke="#ff0000" stroke-width="1.30"/>
<path d="M161.7 2346.0L163.1 2344.9L164.4 2343.8L165.8 2342.7L167.1 2341.6L168.5 2340.5L169.9 2339.5L171.2 2338.5L172.6 2337.5L174.0 2336.5L175.3 2335.6L176.7 2334.7L178.1 2333.9L179.4 2333.1L180.8 2332.3L182.2 2331.7L183.5 2331.1L184.9 2330.5L186.3 2330.0L187.6 2329.6L189.0 2329.3L190.3 2329.1L191.7 2328.9L193.1 2328.9L194.4 2328.9L195.8 2329.1L197.2 2329.3L198.5 2329.7L199.9 2330.1L201.3 2330.7L202.6 2331.4L204.0 2332.2L205.4 2333.2L206.7 2334.3L208.1 2335.5L209.5 2336.9L210.8 2338.4L212.2 2340.1L213.6 2341.9L214.9 2343.9L216.3 2346.0L217.6 2348.3L219.0 2350.8L220.4 2353.3L221.7 2356.0L223.1 2358.8L224.5 2361.6L225.8 2364.4L227.2 2367.3L228.6 2370.2L229.9 2373.1L231.3 2375.9L232.7 2378.6L234.0 2381.3L235.4 2383.8L236.8 2386.2L238.1 2388.5L239.5 2390.6L240.8 2392.5L242.2 2394.2L243.6 2395.7L244.9 2396.9L246.3 2397.8L247.7 2398.5L249.0 2398.8L250.4 2398.8L251.8 2398.4L253.1 2397.6L254.5 2396.5L255.9 2394.9L257.2 2392.8L258.6 2390.3L260.0 2387.3L261.3 2383.8L262.7 2379.8L264.0 2375.2L265.4 2370.1L266.8 2364.4L268.1 2358.0L269.5 2351.0L270.9 2343.4L272.2 2335.1L273.6 2326.1L275.0 2316.6L276.3 2306.5L277.7 2295.9L279.1 2284.9L280.4 2273.4L281.8 2261.6L283.2 2249.4L284.5 2236.9L285.9 2224.2L287.2 2211.3L288.6 2198.2L290.0 2185.0L291.3 2171.8L292.7 2158.5L294.1 2145.2L295.4 2131.9L296.8 2118.8L298.2 2105.8L299.5 2093.0L300.9 2080.4L302.3 2068.1L303.6 2056.1L305.0 2044.5L306.4 2033.2L307.7 2022.4L309.1 2012.1L310.4 2002.3L311.8 1993.1L313.2 1984.5L314.5 1976.5L315.9 1969.3L317.3 1962.8L318.6 1957.0L320.0 1952.2L321.4 1948.1L322.7 1945.0L324.1 1942.9L325.5 1941.7L326.8 1941.6L328.2 1942.5L329.6 1944.4L330.9 1947.1L332.3 1950.8L333.6 1955.3L335.0 1960.6L336.4 1966.6L337.7 1973.4L339.1 1980.8L340.5 1988.9L341.8 1997.5L343.2 2006.7L344.6 2016.5L345.9 2026.6L347.3 2037.3L348.7 2048.3L350.0 2059.6L351.4 2071.3L352.8 2083.2L354.1 2095.4L355.5 2107.7L356.8 2120.2L358.2 2132.7L359.6 2145.4L360.9 2158.0L362.3 2170.6L363.7 2183.2L365.0 2195.6L366.4 2208.0L367.8 2220.1L369.1 2232.0L370.5 2243.6L371.9 2254.9L373.2 2265.9L374.6 2276.4L376.0 2286.6L377.3 2296.2L378.7 2305.4L380.1 2314.0L381.4 2322.0L382.8 2329.4L384.1 2336.2L385.5 2342.5L386.9 2348.3L388.2 2353.5L389.6 2358.2L391.0 2362.5L392.3 2366.2L393.7 2369.5L395.1 2372.4L396.4 2374.8L397.8 2376.8L399.2 2378.4L400.5 2379.6L401.9 2380.4L403.3 2380.9L404.6 2381.1L406.0 2380.9L407.3 2380.4L408.7 2379.6L410.1 2378.5L411.4 2377.2L412.8 2375.6L414.2 2373.8L415.5 2371.7L416.9 2369.5L418.3 2367.1L419.6 2364.4L421.0 2361.7L422.4 2358.7L423.7 2355.7L425.1 2352.5L426.5 2349.3L427.8 2345.9L429.2 2342.5L430.5 2339.0L431.9 2335.5L433.3 2331.9L434.6 2328.4L436.0 2324.9L437.4 2321.3L438.7 2317.8L440.1 2314.3L441.5 2310.8L442.8 2307.3L444.2 2303.9L445.6 2300.5L446.9 2297.1L448.3 2293.7L449.7 2290.4L451.0 2287.2L452.4 2283.9L453.7 2280.8L455.1 2277.6L456.5 2274.6L457.8 2271.6L459.2 2268.6L460.6 2265.7L461.9 2262.9L463.3 2260.2L464.7 2257.5L466.0 2254.9L467.4 2252.4L468.8 2250.0L470.1 2247.6L471.5 2245.4L472.9 2243.2L474.2 2241.2L475.6 2239.2L476.9 2237.4L478.3 2235.6L479.7 2234.0L481.0 2232.5L482.4 2231.1L483.8 2229.8L485.1 2228.7L486.5 2227.6L487.9 2226.7L489.2 2226.0L490.6 2225.3L492.0 2224.8L493.3 2224.5L494.7 2224.2L496.1 2224.1L497.4 2224.1L498.8 2224.2L500.1 2224.4L501.5 2224.7L502.9 2225.0L504.2 2225.5L505.6 2226.1L507.0 2226.7L508.3 2227.5L509.7 2228.3L511.1 2229.1L512.4 2230.1L513.8 2231.0L515.2 2232.1L516.5 2233.2L517.9 2234.3L519.3 2235.5L520.6 2236.7L522.0 2237.9L523.3 2239.2L524.7 2240.5L526.1 2241.8L527.4 2243.1L528.8 2244.4L530.2 2245.7L531.5 2247.0L532.9 2248.3L534.3 2249.6L535.6 2250.9L537.0 2252.2L538.4 2253.4L539.7 2254.6L541.1 2255.8L542.5 2256.9L543.8 2258.0L545.2 2259.0L546.5 2260.0L547.9 2261.0L549.3 2261.9L550.6 2262.7L552.0 2263.5L553.4 2264.3L554.7 2265.1L556.1 2265.7L557.5 2266.4L558.8 2267.0L560.2 2267.6L561.6 2268.2L562.9 2268.7L564.3 2269.2L565.7 2269.7L567.0 2270.1L568.4 2270.5L569.8 2270.9L571.1 2271.3L572.5 2271.7L573.8 2272.0L575.2 2272.3L576.6 2272.6L577.9 2272.9L579.3 2273.1L580.7 2273.4L582.0 2273.6L583.4 2273.9L584.8 2274.1L586.1 2274.3L587.5 2274.5L588.9 2274.7L590.2 2274.9L591.6 2275.1L593.0 2275.3L594.3 2275.5L595.7 2275.7L597.0 2275.9L598.4 2276.1L599.8 2276.3L601.1 2276.6L602.5 2276.8L603.9 2277.0L605.2 2277.3L606.6 2277.5L608.0 2277.8L609.3 2278.0L610.7 2278.3L612.1 2278.5L613.4 2278.8L614.8 2279.1L616.2 2279.3L617.5 2279.6L618.9 2279.9L620.2 2280.2L621.6 2280.4L623.0 2280.7L624.3 2281.0L625.7 2281.3L627.1 2281.6L628.4 2281.8L629.8 2282.1L631.2 2282.4L632.5 2282.7L633.9 2283.0L635.3 2283.2L636.6 2283.5L638.0 2283.8L639.4 2284.1L640.7 2284.3L642.1 2284.6L643.4 2284.9L644.8 2285.1L646.2 2285.4L647.5 2285.7L648.9 2285.9L650.3 2286.2L651.6 2286.4L653.0 2286.6L654.4 2286.9L655.7 2287.1L657.1 2287.3L658.5 2287.5L659.8 2287.7L661.2 2288.0L662.6 2288.2L663.9 2288.4L665.3 2288.5L666.6 2288.7L668.0 2288.9L669.4 2289.1L670.7 2289.3L672.1 2289.5L673.5 2289.6L674.8 2289.8L676.2 2290.0L677.6 2290.2L678.9 2290.3L680.3 2290.5L681.7 2290.6L683.0 2290.8L684.4 2290.9L685.8 2291.1L687.1 2291.3L688.5 2291.4L689.8 2291.6L691.2 2291.7L692.6 2291.8L693.9 2292.0L695.3 2292.1L696.7 2292.3L698.0 2292.4L699.4 2292.6L700.8 2292.7L702.1 2292.9L703.5 2293.0L704.9 2293.2L706.2 2293.3L707.6 2293.5L709.0 2293.6L710.3 2293.8L711.7 2293.9L713.0 2294.1L714.4 2294.2L715.8 2294.4L717.1 2294.5L718.5 2294.7L719.9 2294.8L721.2 2295.0L722.6 2295.2L724.0 2295.3L725.3 2295.5L726.7 2295.6L728.1 2295.8L729.4 2295.9L730.8 2296.1L732.2 2296.3L733.5 2296.4L734.9 2296.6L736.2 2296.7L737.6 2296.9L739.0 2297.0L740.3 2297.2L741.7 2297.3L743.1 2297.5L744.4 2297.6L745.8 2297.8L747.2 2297.9L748.5 2298.1L749.9 2298.2L751.3 2298.4L752.6 2298.5L754.0 2298.7L755.4 2298.8L756.7 2299.0L758.1 2299.1L759.5 2299.2L760.8 2299.4L762.2 2299.5L763.5 2299.6L764.9 2299.8L766.3 2299.9L767.6 2300.0L769.0 2300.2L770.4 2300.3L771.7 2300.4L773.1 2300.5L774.5 2300.6L775.8 2300.8L777.2 2300.9L778.6 2301.0L779.9 2301.1L781.3 2301.2L782.7 2301.3L784.0 2301.4L785.4 2301.5L786.7 2301.6L788.1 2301.7L789.5 2301.8L790.8 2301.9L792.2 2302.1L793.6 2302.2L794.9 2302.3L796.3 2302.3L797.7 2302.4L799.0 2302.5L800.4 2302.6L801.8 2302.7L803.1 2302.8L804.5 2302.9L805.9 2303.0L807.2 2303.1L808.6 2303.2L809.9 2303.3L811.3 2303.4L812.7 2303.4L814.0 2303.5L815.4 2303.6L816.8 2303.7L818.1 2303.8L819.5 2303.9L820.9 2304.0L822.2 2304.0L823.6 2304.1L825.0 2304.2L826.3 2304.3L827.7 2304.4L829.1 2304.5L830.4 2304.5L831.8 2304.6L833.1 2304.7L834.5 2304.8L835.9 2304.9L837.2 2304.9L838.6 2305.0L840.0 2305.1L841.3 2305.2L842.7 2305.2L844.1 2305.3L845.4 2305.4L846.8 2305.5L848.2 2305.6L849.5 2305.6L850.9 2305.7L852.3 2305.8L853.6 2305.9L855.0 2305.9L856.3 2306.0L857.7 2306.1L859.1 2306.2L860.4 2306.2L861.8 2306.3L863.2 2306.4L864.5 2306.5L865.9 2306.6L867.3 2306.6L868.6 2306.7L870.0 2306.8L871.4 2306.9L872.7 2306.9L874.1 2307.0L875.5 2307.1L876.8 2307.2L878.2 2307.2L879.5 2307.3L880.9 2307.4L882.3 2307.5L883.6 2307.6L885.0 2307.6L886.4 2307.7L887.7 2307.8L889.1 2307.9L890.5 2307.9L891.8 2308.0L893.2 2308.1L894.6 2308.2L895.9 2308.3L897.3 2308.3L898.7 2308.4L900.0 2308.5L901.4 2308.6L902.7 2308.7L904.1 2308.7L905.5 2308.8L906.8 2308.9L908.2 2309.0L909.6 2309.1L910.9 2309.1L912.3 2309.2L913.7 2309.3L915.0 2309.4L916.4 2309.5L917.8 2309.5L919.1 2309.6L920.5 2309.7L921.9 2309.8L923.2 2309.9L924.6 2309.9L926.0 2310.0" fill="none" stroke="#0000ff" stroke-width="2.45" stroke-linejoin="round"/>
<path d="M154.59 2346.00L161.69 2338.90L168.79 2346.00L161.69 2353.10Z" fill="#fff" stroke="#0000ff" stroke-width="1.40"/>
<path d="M209.18 2346.00L216.28 2338.90L223.38 2346.00L216.28 2353.10Z" fill="#fff" stroke="#0000ff" stroke-width="1.40"/>
<path d="M263.77 2343.37L270.87 2336.27L277.97 2343.37L270.87 2350.47Z" fill="#fff" stroke="#0000ff" stroke-width="1.40"/>
<path d="M318.36 1941.74L325.46 1934.64L332.56 1941.74L325.46 1948.84Z" fill="#fff" stroke="#0000ff" stroke-width="1.40"/>
<path d="M372.95 2313.95L380.05 2306.85L387.15 2313.95L380.05 2321.05Z" fill="#fff" stroke="#0000ff" stroke-width="1.40"/>
<path d="M427.54 2328.40L434.64 2321.30L441.74 2328.40L434.64 2335.50Z" fill="#fff" stroke="#0000ff" stroke-width="1.40"/>
<path d="M482.13 2225.96L489.23 2218.86L496.33 2225.96L489.23 2233.06Z" fill="#fff" stroke="#0000ff" stroke-width="1.40"/>
<path d="M536.72 2258.00L543.82 2250.90L550.92 2258.00L543.82 2265.10Z" fill="#fff" stroke="#0000ff" stroke-width="1.40"/>
<path d="M591.31 2276.13L598.41 2269.03L605.51 2276.13L598.41 2283.23Z" fill="#fff" stroke="#0000ff" stroke-width="1.40"/>
<path d="M645.90 2286.63L653.00 2279.53L660.10 2286.63L653.00 2293.73Z" fill="#fff" stroke="#0000ff" stroke-width="1.40"/>
<path d="M700.49 2293.46L707.59 2286.36L714.69 2293.46L707.59 2300.56Z" fill="#fff" stroke="#0000ff" stroke-width="1.40"/>
<path d="M755.08 2299.51L762.18 2292.41L769.28 2299.51L762.18 2306.61Z" fill="#fff" stroke="#0000ff" stroke-width="1.40"/>
<path d="M809.67 2303.71L816.77 2296.61L823.87 2303.71L816.77 2310.81Z" fill="#fff" stroke="#0000ff" stroke-width="1.40"/>
<path d="M864.26 2306.86L871.36 2299.76L878.46 2306.86L871.36 2313.96Z" fill="#fff" stroke="#0000ff" stroke-width="1.40"/>
<path d="M918.85 2310.01L925.95 2302.91L933.05 2310.01L925.95 2317.11Z" fill="#fff" stroke="#0000ff" stroke-width="1.40"/>
<path d="M161.7 2346.0L163.1 2346.4L164.4 2346.8L165.8 2347.2L167.1 2347.6L168.5 2347.9L169.9 2348.3L171.2 2348.7L172.6 2349.0L174.0 2349.4L175.3 2349.7L176.7 2350.0L178.1 2350.3L179.4 2350.6L180.8 2350.8L182.2 2351.1L183.5 2351.3L184.9 2351.5L186.3 2351.6L187.6 2351.8L189.0 2351.9L190.3 2352.0L191.7 2352.0L193.1 2352.0L194.4 2352.0L195.8 2352.0L197.2 2351.9L198.5 2351.8L199.9 2351.6L201.3 2351.4L202.6 2351.2L204.0 2350.9L205.4 2350.5L206.7 2350.1L208.1 2349.7L209.5 2349.2L210.8 2348.7L212.2 2348.1L213.6 2347.5L214.9 2346.8L216.3 2346.0L217.6 2345.2L219.0 2344.3L220.4 2343.4L221.7 2342.5L223.1 2341.5L224.5 2340.5L225.8 2339.4L227.2 2338.4L228.6 2337.4L229.9 2336.3L231.3 2335.3L232.7 2334.3L234.0 2333.3L235.4 2332.3L236.8 2331.4L238.1 2330.5L239.5 2329.7L240.8 2328.9L242.2 2328.2L243.6 2327.6L244.9 2327.0L246.3 2326.5L247.7 2326.1L249.0 2325.8L250.4 2325.6L251.8 2325.6L253.1 2325.6L254.5 2325.8L255.9 2326.1L257.2 2326.5L258.6 2327.1L260.0 2327.8L261.3 2328.7L262.7 2329.8L264.0 2331.0L265.4 2332.4L266.8 2334.0L268.1 2335.8L269.5 2337.8L270.9 2340.0L272.2 2342.4L273.6 2344.9L275.0 2347.7L276.3 2350.6L277.7 2353.6L279.1 2356.7L280.4 2359.8L281.8 2363.0L283.2 2366.2L284.5 2369.4L285.9 2372.6L287.2 2375.6L288.6 2378.7L290.0 2381.5L291.3 2384.3L292.7 2386.9L294.1 2389.3L295.4 2391.5L296.8 2393.4L298.2 2395.1L299.5 2396.5L300.9 2397.6L302.3 2398.3L303.6 2398.7L305.0 2398.7L306.4 2398.3L307.7 2397.4L309.1 2396.1L310.4 2394.3L311.8 2392.0L313.2 2389.1L314.5 2385.7L315.9 2381.7L317.3 2377.0L318.6 2371.8L320.0 2365.8L321.4 2359.2L322.7 2351.9L324.1 2343.8L325.5 2335.0L326.8 2325.4L328.2 2315.0L329.6 2304.0L330.9 2292.3L332.3 2280.0L333.6 2267.2L335.0 2253.9L336.4 2240.2L337.7 2226.1L339.1 2211.7L340.5 2197.0L341.8 2182.1L343.2 2167.0L344.6 2151.8L345.9 2136.5L347.3 2121.2L348.7 2105.9L350.0 2090.7L351.4 2075.6L352.8 2060.7L354.1 2046.1L355.5 2031.7L356.8 2017.7L358.2 2004.0L359.6 1990.8L360.9 1978.1L362.3 1965.9L363.7 1954.3L365.0 1943.4L366.4 1933.2L367.8 1923.7L369.1 1915.0L370.5 1907.1L371.9 1900.2L373.2 1894.2L374.6 1889.2L376.0 1885.3L377.3 1882.4L378.7 1880.7L380.1 1880.3L381.4 1881.0L382.8 1883.0L384.1 1886.1L385.5 1890.3L386.9 1895.6L388.2 1901.8L389.6 1909.0L391.0 1917.0L392.3 1925.8L393.7 1935.4L395.1 1945.8L396.4 1956.7L397.8 1968.3L399.2 1980.4L400.5 1992.9L401.9 2005.9L403.3 2019.3L404.6 2033.0L406.0 2046.9L407.3 2061.1L408.7 2075.4L410.1 2089.8L411.4 2104.3L412.8 2118.7L414.2 2133.1L415.5 2147.3L416.9 2161.4L418.3 2175.2L419.6 2188.7L421.0 2201.9L422.4 2214.7L423.7 2227.0L425.1 2238.8L426.5 2250.0L427.8 2260.6L429.2 2270.6L430.5 2279.8L431.9 2288.2L433.3 2295.7L434.6 2302.4L436.0 2308.1L437.4 2312.9L438.7 2316.8L440.1 2319.9L441.5 2322.2L442.8 2323.6L444.2 2324.4L445.6 2324.4L446.9 2323.8L448.3 2322.5L449.7 2320.6L451.0 2318.2L452.4 2315.2L453.7 2311.7L455.1 2307.8L456.5 2303.5L457.8 2298.8L459.2 2293.7L460.6 2288.3L461.9 2282.7L463.3 2276.8L464.7 2270.7L466.0 2264.4L467.4 2258.0L468.8 2251.5L470.1 2244.9L471.5 2238.3L472.9 2231.7L474.2 2225.2L475.6 2218.7L476.9 2212.4L478.3 2206.2L479.7 2200.2L481.0 2194.4L482.4 2188.8L483.8 2183.6L485.1 2178.7L486.5 2174.2L487.9 2170.0L489.2 2166.3L490.6 2163.1L492.0 2160.3L493.3 2158.0L494.7 2156.1L496.1 2154.6L497.4 2153.5L498.8 2152.7L500.1 2152.4L501.5 2152.3L502.9 2152.6L504.2 2153.3L505.6 2154.2L507.0 2155.4L508.3 2156.8L509.7 2158.5L511.1 2160.5L512.4 2162.7L513.8 2165.0L515.2 2167.6L516.5 2170.3L517.9 2173.2L519.3 2176.2L520.6 2179.3L522.0 2182.6L523.3 2185.9L524.7 2189.3L526.1 2192.8L527.4 2196.3L528.8 2199.8L530.2 2203.4L531.5 2206.9L532.9 2210.5L534.3 2213.9L535.6 2217.4L537.0 2220.7L538.4 2224.0L539.7 2227.2L541.1 2230.2L542.5 2233.2L543.8 2235.9L545.2 2238.6L546.5 2241.0L547.9 2243.3L549.3 2245.5L550.6 2247.5L552.0 2249.3L553.4 2251.1L554.7 2252.6L556.1 2254.1L557.5 2255.5L558.8 2256.7L560.2 2257.8L561.6 2258.8L562.9 2259.8L564.3 2260.6L565.7 2261.3L567.0 2262.0L568.4 2262.5L569.8 2263.0L571.1 2263.4L572.5 2263.8L573.8 2264.0L575.2 2264.3L576.6 2264.4L577.9 2264.6L579.3 2264.6L580.7 2264.7L582.0 2264.7L583.4 2264.7L584.8 2264.6L586.1 2264.6L587.5 2264.5L588.9 2264.4L590.2 2264.3L591.6 2264.3L593.0 2264.2L594.3 2264.1L595.7 2264.1L597.0 2264.0L598.4 2264.0L599.8 2264.1L601.1 2264.1L602.5 2264.2L603.9 2264.3L605.2 2264.5L606.6 2264.6L608.0 2264.8L609.3 2265.0L610.7 2265.3L612.1 2265.5L613.4 2265.8L614.8 2266.1L616.2 2266.4L617.5 2266.7L618.9 2267.1L620.2 2267.4L621.6 2267.8L623.0 2268.2L624.3 2268.6L625.7 2269.0L627.1 2269.4L628.4 2269.8L629.8 2270.3L631.2 2270.7L632.5 2271.2L633.9 2271.6L635.3 2272.1L636.6 2272.5L638.0 2273.0L639.4 2273.4L640.7 2273.9L642.1 2274.3L643.4 2274.8L644.8 2275.2L646.2 2275.6L647.5 2276.1L648.9 2276.5L650.3 2276.9L651.6 2277.3L653.0 2277.7L654.4 2278.1L655.7 2278.5L657.1 2278.8L658.5 2279.2L659.8 2279.5L661.2 2279.8L662.6 2280.1L663.9 2280.4L665.3 2280.7L666.6 2281.0L668.0 2281.3L669.4 2281.6L670.7 2281.8L672.1 2282.1L673.5 2282.4L674.8 2282.6L676.2 2282.8L677.6 2283.1L678.9 2283.3L680.3 2283.5L681.7 2283.7L683.0 2283.9L684.4 2284.2L685.8 2284.4L687.1 2284.6L688.5 2284.8L689.8 2285.0L691.2 2285.1L692.6 2285.3L693.9 2285.5L695.3 2285.7L696.7 2285.9L698.0 2286.1L699.4 2286.3L700.8 2286.5L702.1 2286.7L703.5 2286.8L704.9 2287.0L706.2 2287.2L707.6 2287.4L709.0 2287.6L710.3 2287.8L711.7 2288.0L713.0 2288.2L714.4 2288.4L715.8 2288.6L717.1 2288.8L718.5 2289.1L719.9 2289.3L721.2 2289.5L722.6 2289.7L724.0 2289.9L725.3 2290.1L726.7 2290.3L728.1 2290.6L729.4 2290.8L730.8 2291.0L732.2 2291.2L733.5 2291.4L734.9 2291.6L736.2 2291.8L737.6 2292.1L739.0 2292.3L740.3 2292.5L741.7 2292.7L743.1 2292.9L744.4 2293.1L745.8 2293.3L747.2 2293.5L748.5 2293.7L749.9 2293.9L751.3 2294.1L752.6 2294.3L754.0 2294.5L755.4 2294.7L756.7 2294.9L758.1 2295.0L759.5 2295.2L760.8 2295.4L762.2 2295.6L763.5 2295.7L764.9 2295.9L766.3 2296.1L767.6 2296.2L769.0 2296.4L770.4 2296.5L771.7 2296.7L773.1 2296.8L774.5 2296.9L775.8 2297.1L777.2 2297.2L778.6 2297.4L779.9 2297.5L781.3 2297.6L782.7 2297.7L784.0 2297.9L785.4 2298.0L786.7 2298.1L788.1 2298.2L789.5 2298.3L790.8 2298.4L792.2 2298.5L793.6 2298.6L794.9 2298.8L796.3 2298.9L797.7 2299.0L799.0 2299.1L800.4 2299.2L801.8 2299.3L803.1 2299.4L804.5 2299.5L805.9 2299.6L807.2 2299.6L808.6 2299.7L809.9 2299.8L811.3 2299.9L812.7 2300.0L814.0 2300.1L815.4 2300.2L816.8 2300.3L818.1 2300.4L819.5 2300.5L820.9 2300.6L822.2 2300.7L823.6 2300.8L825.0 2300.8L826.3 2300.9L827.7 2301.0L829.1 2301.1L830.4 2301.2L831.8 2301.3L833.1 2301.4L834.5 2301.5L835.9 2301.6L837.2 2301.7L838.6 2301.8L840.0 2301.8L841.3 2301.9L842.7 2302.0L844.1 2302.1L845.4 2302.2L846.8 2302.3L848.2 2302.4L849.5 2302.5L850.9 2302.6L852.3 2302.7L853.6 2302.8L855.0 2302.8L856.3 2302.9L857.7 2303.0L859.1 2303.1L860.4 2303.2L861.8 2303.3L863.2 2303.4L864.5 2303.5L865.9 2303.6L867.3 2303.7L868.6 2303.8L870.0 2303.9L871.4 2304.0L872.7 2304.1L874.1 2304.2L875.5 2304.3L876.8 2304.4L878.2 2304.4L879.5 2304.5L880.9 2304.6L882.3 2304.7L883.6 2304.8L885.0 2304.9L886.4 2305.0L887.7 2305.1L889.1 2305.2L890.5 2305.3L891.8 2305.4L893.2 2305.5L894.6 2305.6L895.9 2305.7L897.3 2305.8L898.7 2305.9L900.0 2306.0L901.4 2306.1L902.7 2306.2L904.1 2306.3L905.5 2306.4L906.8 2306.5L908.2 2306.6L909.6 2306.7L910.9 2306.8L912.3 2306.9L913.7 2307.0L915.0 2307.1L916.4 2307.2L917.8 2307.3L919.1 2307.4L920.5 2307.5L921.9 2307.6L923.2 2307.7L924.6 2307.8L926.0 2307.9" fill="none" stroke="#ff00ff" stroke-width="2.45" stroke-linejoin="round" stroke-dasharray="10.3 15.2" stroke-linecap="round"/>
<path d="M153.69 2350.62L169.69 2350.62L161.69 2336.76Z" fill="#ff00ff"/>
<path d="M208.28 2350.62L224.28 2350.62L216.28 2336.76Z" fill="#ff00ff"/>
<path d="M262.87 2344.58L278.87 2344.58L270.87 2330.72Z" fill="#ff00ff"/>
<path d="M317.46 2339.59L333.46 2339.59L325.46 2325.73Z" fill="#ff00ff"/>
<path d="M372.05 1884.89L388.05 1884.89L380.05 1871.03Z" fill="#ff00ff"/>
<path d="M426.64 2307.02L442.64 2307.02L434.64 2293.16Z" fill="#ff00ff"/>
<path d="M481.23 2170.95L497.23 2170.95L489.23 2157.09Z" fill="#ff00ff"/>
<path d="M535.82 2240.56L551.82 2240.56L543.82 2226.70Z" fill="#ff00ff"/>
<path d="M590.41 2268.66L606.41 2268.66L598.41 2254.80Z" fill="#ff00ff"/>
<path d="M645.00 2282.32L661.00 2282.32L653.00 2268.46Z" fill="#ff00ff"/>
<path d="M699.59 2292.04L715.59 2292.04L707.59 2278.18Z" fill="#ff00ff"/>
<path d="M754.18 2300.19L770.18 2300.19L762.18 2286.33Z" fill="#ff00ff"/>
<path d="M808.77 2304.91L824.77 2304.91L816.77 2291.05Z" fill="#ff00ff"/>
<path d="M863.36 2308.59L879.36 2308.59L871.36 2294.73Z" fill="#ff00ff"/>
<path d="M917.95 2312.53L933.95 2312.53L925.95 2298.67Z" fill="#ff00ff"/>
<path d="M161.7 2344.4L163.1 2344.7L164.4 2345.0L165.8 2345.3L167.1 2345.6L168.5 2345.9L169.9 2346.2L171.2 2346.5L172.6 2346.8L174.0 2347.1L175.3 2347.3L176.7 2347.6L178.1 2347.8L179.4 2348.0L180.8 2348.2L182.2 2348.4L183.5 2348.6L184.9 2348.7L186.3 2348.8L187.6 2348.9L189.0 2349.0L190.3 2349.1L191.7 2349.1L193.1 2349.2L194.4 2349.1L195.8 2349.1L197.2 2349.0L198.5 2348.9L199.9 2348.8L201.3 2348.7L202.6 2348.5L204.0 2348.2L205.4 2348.0L206.7 2347.7L208.1 2347.3L209.5 2346.9L210.8 2346.5L212.2 2346.1L213.6 2345.6L214.9 2345.0L216.3 2344.4L217.6 2343.8L219.0 2343.1L220.4 2342.4L221.7 2341.7L223.1 2340.9L224.5 2340.1L225.8 2339.3L227.2 2338.5L228.6 2337.7L229.9 2336.9L231.3 2336.1L232.7 2335.3L234.0 2334.5L235.4 2333.8L236.8 2333.0L238.1 2332.3L239.5 2331.7L240.8 2331.1L242.2 2330.6L243.6 2330.1L244.9 2329.6L246.3 2329.3L247.7 2329.0L249.0 2328.8L250.4 2328.6L251.8 2328.6L253.1 2328.6L254.5 2328.8L255.9 2329.0L257.2 2329.4L258.6 2329.9L260.0 2330.5L261.3 2331.2L262.7 2332.0L264.0 2333.0L265.4 2334.2L266.8 2335.4L268.1 2336.9L269.5 2338.5L270.9 2340.2L272.2 2342.1L273.6 2344.2L275.0 2346.4L276.3 2348.7L277.7 2351.1L279.1 2353.6L280.4 2356.1L281.8 2358.7L283.2 2361.2L284.5 2363.8L285.9 2366.3L287.2 2368.8L288.6 2371.3L290.0 2373.6L291.3 2375.9L292.7 2378.0L294.1 2380.0L295.4 2381.8L296.8 2383.5L298.2 2384.9L299.5 2386.1L300.9 2387.1L302.3 2387.9L303.6 2388.3L305.0 2388.5L306.4 2388.3L307.7 2387.9L309.1 2387.0L310.4 2385.8L311.8 2384.2L313.2 2382.2L314.5 2379.7L315.9 2376.8L317.3 2373.5L318.6 2369.6L320.0 2365.3L321.4 2360.4L322.7 2354.9L324.1 2348.9L325.5 2342.3L326.8 2335.1L328.2 2327.4L329.6 2319.1L330.9 2310.3L332.3 2301.1L333.6 2291.5L335.0 2281.5L336.4 2271.1L337.7 2260.5L339.1 2249.6L340.5 2238.5L341.8 2227.2L343.2 2215.8L344.6 2204.3L345.9 2192.7L347.3 2181.1L348.7 2169.5L350.0 2158.0L351.4 2146.5L352.8 2135.2L354.1 2124.1L355.5 2113.2L356.8 2102.5L358.2 2092.1L359.6 2082.0L360.9 2072.3L362.3 2063.0L363.7 2054.2L365.0 2045.8L366.4 2038.0L367.8 2030.7L369.1 2024.0L370.5 2017.9L371.9 2012.5L373.2 2007.9L374.6 2004.0L376.0 2000.8L377.3 1998.6L378.7 1997.1L380.1 1996.6L381.4 1997.1L382.8 1998.4L384.1 2000.6L385.5 2003.6L386.9 2007.4L388.2 2011.9L389.6 2017.1L391.0 2023.0L392.3 2029.4L393.7 2036.4L395.1 2044.0L396.4 2052.0L397.8 2060.5L399.2 2069.3L400.5 2078.5L401.9 2088.0L403.3 2097.7L404.6 2107.7L406.0 2117.8L407.3 2128.1L408.7 2138.5L410.1 2148.9L411.4 2159.3L412.8 2169.7L414.2 2180.0L415.5 2190.1L416.9 2200.1L418.3 2209.9L419.6 2219.5L421.0 2228.7L422.4 2237.6L423.7 2246.1L425.1 2254.2L426.5 2261.8L427.8 2268.9L429.2 2275.5L430.5 2281.4L431.9 2286.8L433.3 2291.4L434.6 2295.3L436.0 2298.5L437.4 2300.9L438.7 2302.6L440.1 2303.6L441.5 2304.0L442.8 2303.7L444.2 2302.9L445.6 2301.5L446.9 2299.6L448.3 2297.2L449.7 2294.4L451.0 2291.1L452.4 2287.4L453.7 2283.3L455.1 2278.9L456.5 2274.1L457.8 2269.1L459.2 2263.9L460.6 2258.4L461.9 2252.7L463.3 2246.9L464.7 2240.9L466.0 2234.9L467.4 2228.7L468.8 2222.6L470.1 2216.4L471.5 2210.2L472.9 2204.1L474.2 2198.1L475.6 2192.2L476.9 2186.4L478.3 2180.8L479.7 2175.5L481.0 2170.3L482.4 2165.4L483.8 2160.9L485.1 2156.6L486.5 2152.7L487.9 2149.2L489.2 2146.1L490.6 2143.5L492.0 2141.2L493.3 2139.4L494.7 2138.0L496.1 2137.0L497.4 2136.4L498.8 2136.1L500.1 2136.2L501.5 2136.6L502.9 2137.3L504.2 2138.3L505.6 2139.6L507.0 2141.1L508.3 2142.9L509.7 2144.9L511.1 2147.2L512.4 2149.6L513.8 2152.3L515.2 2155.1L516.5 2158.1L517.9 2161.2L519.3 2164.4L520.6 2167.8L522.0 2171.2L523.3 2174.8L524.7 2178.4L526.1 2182.0L527.4 2185.7L528.8 2189.4L530.2 2193.1L531.5 2196.9L532.9 2200.5L534.3 2204.2L535.6 2207.8L537.0 2211.3L538.4 2214.7L539.7 2218.0L541.1 2221.3L542.5 2224.3L543.8 2227.3L545.2 2230.0L546.5 2232.7L547.9 2235.1L549.3 2237.4L550.6 2239.6L552.0 2241.6L553.4 2243.5L554.7 2245.3L556.1 2247.0L557.5 2248.5L558.8 2249.9L560.2 2251.2L561.6 2252.4L562.9 2253.5L564.3 2254.5L565.7 2255.4L567.0 2256.2L568.4 2256.9L569.8 2257.6L571.1 2258.2L572.5 2258.7L573.8 2259.1L575.2 2259.5L576.6 2259.9L577.9 2260.2L579.3 2260.4L580.7 2260.6L582.0 2260.8L583.4 2261.0L584.8 2261.1L586.1 2261.2L587.5 2261.3L588.9 2261.3L590.2 2261.4L591.6 2261.5L593.0 2261.5L594.3 2261.6L595.7 2261.7L597.0 2261.8L598.4 2261.9L599.8 2262.1L601.1 2262.3L602.5 2262.5L603.9 2262.7L605.2 2263.0L606.6 2263.2L608.0 2263.5L609.3 2263.9L610.7 2264.2L612.1 2264.5L613.4 2264.9L614.8 2265.3L616.2 2265.7L617.5 2266.1L618.9 2266.5L620.2 2267.0L621.6 2267.4L623.0 2267.9L624.3 2268.4L625.7 2268.8L627.1 2269.3L628.4 2269.8L629.8 2270.3L631.2 2270.8L632.5 2271.3L633.9 2271.8L635.3 2272.3L636.6 2272.8L638.0 2273.3L639.4 2273.8L640.7 2274.3L642.1 2274.8L643.4 2275.3L644.8 2275.8L646.2 2276.3L647.5 2276.7L648.9 2277.2L650.3 2277.6L651.6 2278.1L653.0 2278.5L654.4 2278.9L655.7 2279.3L657.1 2279.7L658.5 2280.1L659.8 2280.4L661.2 2280.8L662.6 2281.1L663.9 2281.5L665.3 2281.8L666.6 2282.1L668.0 2282.4L669.4 2282.7L670.7 2283.0L672.1 2283.2L673.5 2283.5L674.8 2283.8L676.2 2284.0L677.6 2284.3L678.9 2284.5L680.3 2284.8L681.7 2285.0L683.0 2285.2L684.4 2285.4L685.8 2285.6L687.1 2285.8L688.5 2286.1L689.8 2286.3L691.2 2286.5L692.6 2286.7L693.9 2286.8L695.3 2287.0L696.7 2287.2L698.0 2287.4L699.4 2287.6L700.8 2287.8L702.1 2288.0L703.5 2288.2L704.9 2288.4L706.2 2288.5L707.6 2288.7L709.0 2288.9L710.3 2289.1L711.7 2289.3L713.0 2289.5L714.4 2289.7L715.8 2289.9L717.1 2290.1L718.5 2290.3L719.9 2290.5L721.2 2290.7L722.6 2290.9L724.0 2291.1L725.3 2291.3L726.7 2291.5L728.1 2291.7L729.4 2291.9L730.8 2292.1L732.2 2292.3L733.5 2292.5L734.9 2292.7L736.2 2292.9L737.6 2293.1L739.0 2293.3L740.3 2293.5L741.7 2293.7L743.1 2293.9L744.4 2294.1L745.8 2294.3L747.2 2294.5L748.5 2294.6L749.9 2294.8L751.3 2295.0L752.6 2295.2L754.0 2295.4L755.4 2295.5L756.7 2295.7L758.1 2295.9L759.5 2296.0L760.8 2296.2L762.2 2296.4L763.5 2296.5L764.9 2296.7L766.3 2296.8L767.6 2297.0L769.0 2297.1L770.4 2297.2L771.7 2297.4L773.1 2297.5L774.5 2297.6L775.8 2297.8L777.2 2297.9L778.6 2298.0L779.9 2298.1L781.3 2298.3L782.7 2298.4L784.0 2298.5L785.4 2298.6L786.7 2298.7L788.1 2298.8L789.5 2298.9L790.8 2299.0L792.2 2299.1L793.6 2299.2L794.9 2299.3L796.3 2299.4L797.7 2299.5L799.0 2299.6L800.4 2299.7L801.8 2299.8L803.1 2299.9L804.5 2300.0L805.9 2300.1L807.2 2300.2L808.6 2300.3L809.9 2300.4L811.3 2300.5L812.7 2300.5L814.0 2300.6L815.4 2300.7L816.8 2300.8L818.1 2300.9L819.5 2301.0L820.9 2301.1L822.2 2301.2L823.6 2301.3L825.0 2301.4L826.3 2301.4L827.7 2301.5L829.1 2301.6L830.4 2301.7L831.8 2301.8L833.1 2301.9L834.5 2302.0L835.9 2302.1L837.2 2302.2L838.6 2302.3L840.0 2302.4L841.3 2302.4L842.7 2302.5L844.1 2302.6L845.4 2302.7L846.8 2302.8L848.2 2302.9L849.5 2303.0L850.9 2303.1L852.3 2303.2L853.6 2303.3L855.0 2303.4L856.3 2303.5L857.7 2303.6L859.1 2303.6L860.4 2303.7L861.8 2303.8L863.2 2303.9L864.5 2304.0L865.9 2304.1L867.3 2304.2L868.6 2304.3L870.0 2304.4L871.4 2304.5L872.7 2304.6L874.1 2304.7L875.5 2304.8L876.8 2304.9L878.2 2305.0L879.5 2305.1L880.9 2305.2L882.3 2305.3L883.6 2305.4L885.0 2305.5L886.4 2305.6L887.7 2305.7L889.1 2305.8L890.5 2305.9L891.8 2306.0L893.2 2306.0L894.6 2306.1L895.9 2306.2L897.3 2306.3L898.7 2306.4L900.0 2306.5L901.4 2306.6L902.7 2306.7L904.1 2306.8L905.5 2306.9L906.8 2307.0L908.2 2307.1L909.6 2307.2L910.9 2307.3L912.3 2307.4L913.7 2307.5L915.0 2307.6L916.4 2307.7L917.8 2307.8L919.1 2307.9L920.5 2308.0L921.9 2308.1L923.2 2308.2L924.6 2308.3L926.0 2308.4" fill="none" stroke="#008000" stroke-width="2.45" stroke-linejoin="round" stroke-dasharray="10.3 15.2" stroke-linecap="round"/>
<path d="M153.69 2339.80L169.69 2339.80L161.69 2353.66Z" fill="#008000"/>
<path d="M208.28 2339.80L224.28 2339.80L216.28 2353.66Z" fill="#008000"/>
<path d="M262.87 2335.60L278.87 2335.60L270.87 2349.46Z" fill="#008000"/>
<path d="M317.46 2337.70L333.46 2337.70L325.46 2351.56Z" fill="#008000"/>
<path d="M372.05 1992.02L388.05 1992.02L380.05 2005.88Z" fill="#008000"/>
<path d="M426.64 2290.68L442.64 2290.68L434.64 2304.54Z" fill="#008000"/>
<path d="M481.23 2141.48L497.23 2141.48L489.23 2155.34Z" fill="#008000"/>
<path d="M535.82 2222.65L551.82 2222.65L543.82 2236.51Z" fill="#008000"/>
<path d="M590.41 2257.32L606.41 2257.32L598.41 2271.18Z" fill="#008000"/>
<path d="M645.00 2273.87L661.00 2273.87L653.00 2287.73Z" fill="#008000"/>
<path d="M699.59 2284.12L715.59 2284.12L707.59 2297.98Z" fill="#008000"/>
<path d="M754.18 2291.73L770.18 2291.73L762.18 2305.59Z" fill="#008000"/>
<path d="M808.77 2296.20L824.77 2296.20L816.77 2310.06Z" fill="#008000"/>
<path d="M863.36 2299.88L879.36 2299.88L871.36 2313.74Z" fill="#008000"/>
<path d="M917.95 2303.82L933.95 2303.82L925.95 2317.68Z" fill="#008000"/>
</g>
<path d="M107.5 1689.3H926.4V2346H107.5Z" fill="none" stroke="#000" stroke-width="2.2"/>
<path d="M107.5 2346.0h-13.2M107.5 2280.3h-6.8M107.5 2214.7h-13.2M107.5 2149.0h-6.8M107.5 2083.3h-13.2M107.5 2017.7h-6.8M107.5 1952.0h-13.2M107.5 1886.3h-6.8M107.5 1820.6h-13.2M107.5 1755.0h-6.8M107.5 1689.3h-13.2M107.5 2346v6.8M162.1 2346v13M216.7 2346v6.8M271.3 2346v13M325.9 2346v6.8M380.5 2346v13M435.0 2346v6.8M489.6 2346v13M544.2 2346v6.8M598.8 2346v13M653.4 2346v6.8M708.0 2346v13M762.6 2346v6.8M817.2 2346v13M871.8 2346v6.8M926.4 2346v13" stroke="#000" stroke-width="2.2" fill="none"/>
<text transform="translate(85.9 2354.0) scale(1 1.04)" font-family="Liberation Sans, Arial, sans-serif" font-size="28.3" text-anchor="end">0</text>
<text transform="translate(85.9 2222.7) scale(1 1.04)" font-family="Liberation Sans, Arial, sans-serif" font-size="28.3" text-anchor="end">50</text>
<text transform="translate(85.9 2091.3) scale(1 1.04)" font-family="Liberation Sans, Arial, sans-serif" font-size="28.3" text-anchor="end">100</text>
<text transform="translate(85.9 1960.0) scale(1 1.04)" font-family="Liberation Sans, Arial, sans-serif" font-size="28.3" text-anchor="end">150</text>
<text transform="translate(85.9 1828.6) scale(1 1.04)" font-family="Liberation Sans, Arial, sans-serif" font-size="28.3" text-anchor="end">200</text>
<text transform="translate(85.9 1697.3) scale(1 1.04)" font-family="Liberation Sans, Arial, sans-serif" font-size="28.3" text-anchor="end">250</text>
<text transform="translate(162.1 2389) scale(1 1.04)" font-family="Liberation Sans, Arial, sans-serif" font-size="28.3" text-anchor="middle">1</text>
<text transform="translate(271.3 2389) scale(1 1.04)" font-family="Liberation Sans, Arial, sans-serif" font-size="28.3" text-anchor="middle">3</text>
<text transform="translate(380.5 2389) scale(1 1.04)" font-family="Liberation Sans, Arial, sans-serif" font-size="28.3" text-anchor="middle">5</text>
<text transform="translate(489.6 2389) scale(1 1.04)" font-family="Liberation Sans, Arial, sans-serif" font-size="28.3" text-anchor="middle">7</text>
<text transform="translate(598.8 2389) scale(1 1.04)" font-family="Liberation Sans, Arial, sans-serif" font-size="28.3" text-anchor="middle">9</text>
<text transform="translate(708.0 2389) scale(1 1.04)" font-family="Liberation Sans, Arial, sans-serif" font-size="28.3" text-anchor="middle">11</text>
<text transform="translate(817.2 2389) scale(1 1.04)" font-family="Liberation Sans, Arial, sans-serif" font-size="28.3" text-anchor="middle">13</text>
<text transform="translate(926.4 2389) scale(1 1.04)" font-family="Liberation Sans, Arial, sans-serif" font-size="28.3" text-anchor="middle">15</text>
<text transform="translate(516.9 2436.7) scale(1 1.05)" font-family="Liberation Sans, Arial, sans-serif" font-size="28.2" text-anchor="middle">Time Period (<tspan font-style="italic">s</tspan>)</text>
<text transform="translate(20.8 2018.7) rotate(-90) scale(1 1.0)" font-family="Liberation Sans, Arial, sans-serif" font-size="28.45" text-anchor="middle"><tspan font-family="Liberation Serif, Times New Roman, serif" font-size="30.5">ξ</tspan><tspan font-size="19.5" dy="7" textLength="18.4" lengthAdjust="spacingAndGlyphs">55</tspan><tspan dy="-7">-Power (</tspan><tspan font-style="italic">kW</tspan>)</text>
<text x="518.3" y="2490" font-family="Liberation Serif, Times New Roman, serif" font-size="46" text-anchor="middle">(c)</text>
<rect x="487.5" y="1694.5" width="431.0" height="211.0" fill="#fff" stroke="#4a4a4a" stroke-width="1"/>
<path d="M490.5 1718.7H567.1" stroke="#000000" stroke-width="2.75" fill="none"/>
<rect x="524.15" y="1713.75" width="9.90" height="9.90" fill="#fff" stroke="#000000" stroke-width="1.40"/>
<text transform="translate(576.6 1730) scale(1 1.03)" font-family="Liberation Serif, Times New Roman, serif" font-size="34.35">Box type FBW</text>
<path d="M490.5 1758.7H567.1" stroke="#ff0000" stroke-width="2.75" fill="none"/>
<circle cx="529.10" cy="1758.70" r="5.42" fill="#fff" stroke="#ff0000" stroke-width="1.23"/>
<text transform="translate(576.6 1771) scale(1 1.03)" font-family="Liberation Serif, Times New Roman, serif" font-size="34.35">Trapezoidal type FBW</text>
<path d="M490.5 1802.9H567.1" stroke="#0000ff" stroke-width="2.75" fill="none"/>
<path d="M521.79 1802.90L529.10 1795.59L536.41 1802.90L529.10 1810.21Z" fill="#fff" stroke="#0000ff" stroke-width="1.44"/>
<text transform="translate(576.6 1814.5) scale(1 1.03)" font-family="Liberation Serif, Times New Roman, serif" font-size="34.35">π-type FBW</text>
<path d="M491.9 1842.5H563.6" stroke="#ff00ff" stroke-width="2.75" fill="none" stroke-dasharray="10.0 15.5" stroke-linecap="round"/>
<path d="M521.66 1846.80L536.54 1846.80L529.10 1833.91Z" fill="#ff00ff"/>
<text transform="translate(576.6 1853.8) scale(1 1.03)" font-family="Liberation Serif, Times New Roman, serif" font-size="34.35">Parabolic type FBW</text>
<path d="M491.9 1882.8H563.6" stroke="#008000" stroke-width="2.75" fill="none" stroke-dasharray="10.0 15.5" stroke-linecap="round"/>
<path d="M521.66 1878.50L536.54 1878.50L529.10 1891.39Z" fill="#008000"/>
<text transform="translate(576.6 1894.3) scale(1 1.03)" font-family="Liberation Serif, Times New Roman, serif" font-size="34.35">Semi-circular type FBW</text>
</svg>
</body></html>
